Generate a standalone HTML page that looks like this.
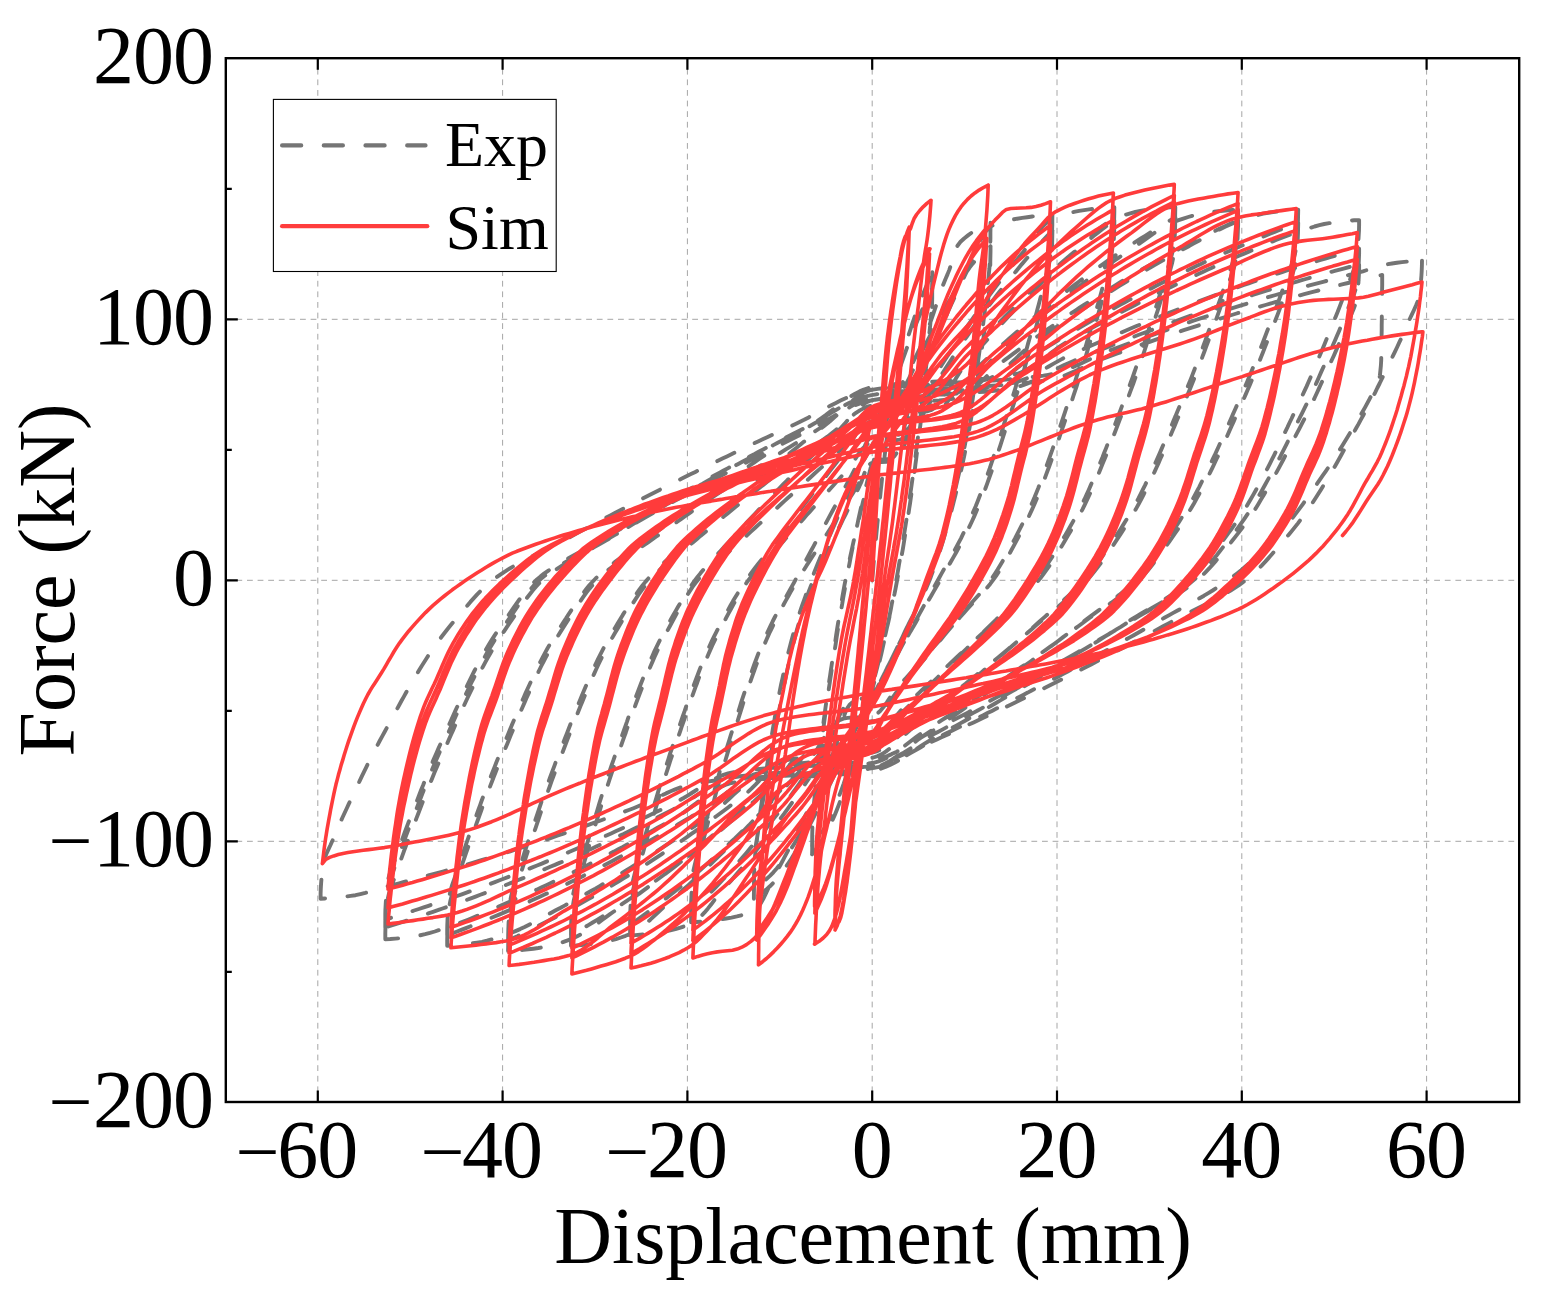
<!DOCTYPE html><html><head><meta charset="utf-8"><title>Force-Displacement hysteresis</title>
<style>html,body{margin:0;padding:0;background:#fff}svg{display:block}text{font-family:"Liberation Serif",serif;fill:#000}</style></head><body>
<svg width="1544" height="1296" viewBox="0 0 1544 1296">
<rect width="1544" height="1296" fill="#fff"/>
<path d="M317.8 58.2V1102.0M502.6 58.2V1102.0M687.4 58.2V1102.0M872.2 58.2V1102.0M1057.0 58.2V1102.0M1241.8 58.2V1102.0M1426.6 58.2V1102.0M225.8 841.3H1519.2M225.8 580.3H1519.2M225.8 319.3H1519.2" fill="none" stroke="#a6a6a6" stroke-width="1.0" stroke-dasharray="5.8 4.8"/>
<clipPath id="c"><rect x="225.8" y="58.2" width="1293.4" height="1043.8"/></clipPath>
<g clip-path="url(#c)" fill="none" stroke-linejoin="round" stroke-linecap="round">
<path d="M872.2 580.3 872.6 575.2 873.1 570.2 873.5 565.1 873.9 560.0 874.4 555.0 874.9 549.9 875.3 544.8 875.8 539.8 876.3 534.7 876.8 529.6 877.3 524.6 877.8 519.5 878.3 514.4 878.8 509.4 879.3 504.3 879.9 499.3 880.4 494.2 880.9 489.1 881.5 484.1 882.0 479.0 882.6 473.9 883.1 468.9 883.7 463.8 884.3 458.8 884.9 453.7 885.5 448.7 886.1 443.6 886.8 438.6 887.4 433.5 888.1 428.5 888.9 423.5 889.6 418.5 890.4 413.4 891.3 408.4 892.2 403.4 893.1 398.4 894.1 393.4 895.1 388.4 896.1 383.4 897.2 378.4 898.3 373.5 899.4 368.5 900.6 363.6 901.8 358.6 903.1 353.7 904.5 348.8 905.9 343.9 907.4 339.0 908.9 334.2 910.5 329.3 912.0 324.5 913.7 319.7 915.3 314.9 917.0 310.1 918.7 305.3 920.5 300.6 922.4 295.8 924.3 291.1 926.2 286.4 928.2 281.7 930.2 277.0 932.3 272.3M932.3 272.3 932.2 277.4 932.2 282.5 932.1 287.6 932.0 292.6 931.9 297.7 931.8 302.8 931.6 307.8 931.3 312.9 930.9 317.9 930.4 323.0 929.9 328.1 929.4 333.1 929.0 338.2 928.5 343.2 928.0 348.3 927.5 353.3 927.0 358.4 926.5 363.4 925.9 368.5 925.4 373.5 924.8 378.5 924.3 383.6 923.7 388.6 923.1 393.7 922.6 398.7 922.0 403.8 921.4 408.8 920.8 413.8 920.2 418.9 919.6 423.9 919.0 428.9 918.4 434.0 917.7 439.0 917.1 444.0 916.4 449.1 915.8 454.1 915.1 459.1 914.4 464.2 913.8 469.2 913.1 474.2 912.4 479.3 911.7 484.3 911.0 489.3 910.2 494.3 909.5 499.3 908.8 504.4 908.0 509.4 907.2 514.4 906.5 519.4 905.7 524.4 904.9 529.4 904.1 534.4 903.3 539.5 902.4 544.5 901.6 549.5 900.8 554.5 899.9 559.5 899.0 564.5 898.2 569.5 897.3 574.5 896.4 579.5 895.5 584.4 894.6 589.4 893.6 594.4 892.7 599.4 891.7 604.4 890.8 609.4 889.8 614.4 888.8 619.3 887.7 624.3 886.7 629.3 885.7 634.2 884.6 639.2 883.5 644.2 882.4 649.1 881.3 654.1 880.1 659.0 878.9 663.9 877.7 668.8 876.5 673.8 875.2 678.7 873.9 683.6 872.6 688.5 871.3 693.4 870.0 698.3 868.6 703.2 867.3 708.1 865.9 713.0 864.6 717.9 863.3 722.8 861.9 727.7 860.6 732.6 859.3 737.5 858.0 742.4 856.7 747.3 855.4 752.2 854.1 757.1 852.7 762.0 851.4 766.9 850.0 771.8 848.5 776.7 847.0 781.5 845.4 786.3 843.8 791.1 842.1 795.9 840.4 800.6 838.6 805.4 836.7 810.2 834.8 814.9 832.7 819.6 830.6 824.2 828.4 828.7 826.1 833.2 823.7 837.6 821.0 841.9 818.2 846.1 815.2 850.3 812.1 854.3M812.1 854.3 812.2 849.3 812.2 844.2 812.3 839.2 812.4 834.1 812.6 829.1 812.8 824.0 813.2 819.0 813.7 813.9 814.2 808.9 814.7 803.8 815.2 798.8 815.7 793.8 816.3 788.7 816.8 783.7 817.4 778.7 817.9 773.7 818.5 768.6 819.1 763.6 819.7 758.6 820.3 753.5 820.9 748.5 821.5 743.5 822.1 738.5 822.7 733.5 823.4 728.4 824.0 723.4 824.7 718.4 825.4 713.4 826.1 708.4 826.8 703.4 827.5 698.4 828.2 693.4 828.9 688.3 829.7 683.3 830.4 678.3 831.2 673.3 831.9 668.3 832.7 663.3 833.4 658.3 834.2 653.3 835.0 648.3 835.8 643.3 836.5 638.3 837.3 633.3 838.1 628.3 838.9 623.3 839.8 618.3 840.6 613.3 841.4 608.3 842.3 603.4 843.1 598.4 844.0 593.4 844.9 588.4 845.8 583.4 846.7 578.4 847.6 573.5 848.5 568.5 849.5 563.5 850.4 558.6 851.4 553.6 852.4 548.6 853.4 543.7 854.4 538.7 855.4 533.7 856.4 528.8 857.5 523.8 858.5 518.9 859.6 513.9 860.7 509.0 861.8 504.1 863.0 499.1 864.1 494.2 865.3 489.3 866.5 484.4 867.7 479.5 868.9 474.6 870.2 469.7 871.5 464.8 872.7 459.9 874.0 455.0 875.3 450.1 876.7 445.2 878.0 440.3 879.3 435.4 880.7 430.6 882.1 425.7 883.5 420.8 884.9 416.0 886.3 411.1 887.7 406.2 889.2 401.4 890.7 396.6 892.2 391.7 893.7 386.9 895.3 382.1 896.8 377.3 898.4 372.5 900.0 367.7 901.6 362.9 903.3 358.1 905.0 353.3 906.7 348.5 908.4 343.8 910.2 339.1 912.0 334.3 913.8 329.6 915.7 324.9 917.6 320.3 919.6 315.6 921.6 311.0 923.7 306.3 925.8 301.7 927.9 297.1 930.1 292.5 932.3 288.0M932.3 288.0 932.2 293.0 932.2 298.1 932.1 303.1 932.0 308.2 931.9 313.2 931.7 318.3 931.4 323.3 931.0 328.3 930.5 333.4 929.9 338.4 929.4 343.4 928.9 348.4 928.4 353.5 927.9 358.5 927.4 363.5 926.9 368.5 926.3 373.6 925.8 378.6 925.2 383.6 924.6 388.6 924.1 393.6 923.5 398.6 922.9 403.7 922.3 408.7 921.7 413.7 921.1 418.7 920.5 423.7 919.9 428.7 919.3 433.7 918.7 438.8 918.1 443.8 917.5 448.8 916.8 453.8 916.2 458.8 915.5 463.8 914.9 468.8 914.2 473.8 913.5 478.8 912.8 483.8 912.1 488.8 911.4 493.8 910.7 498.8 910.0 503.8 909.2 508.8 908.5 513.8 907.7 518.8 906.9 523.8 906.1 528.8 905.3 533.8 904.5 538.8 903.7 543.7 902.9 548.7 902.0 553.7 901.1 558.7 900.2 563.6 899.3 568.6 898.4 573.6 897.5 578.5 896.5 583.5 895.6 588.4 894.6 593.4 893.5 598.3 892.5 603.3 891.4 608.2 890.3 613.1 889.2 618.1 888.1 623.0 886.9 627.9 885.8 632.8 884.6 637.7 883.4 642.6 882.2 647.6 881.0 652.5 879.8 657.3 878.5 662.2 877.3 667.1 876.0 672.0 874.7 676.9 873.3 681.8 872.0 686.6 870.6 691.5 869.3 696.4 867.9 701.2 866.5 706.1 865.1 710.9 863.8 715.8 862.4 720.6 861.0 725.5 859.7 730.4 858.3 735.3 857.0 740.1 855.6 745.0 854.2 749.9 852.9 754.7 851.4 759.6 850.0 764.4 848.5 769.2 846.9 774.0 845.3 778.8 843.7 783.6 842.0 788.3 840.2 793.1 838.4 797.8 836.6 802.6 834.6 807.3 832.6 811.9 830.5 816.5 828.4 821.0 826.1 825.5 823.6 829.8 821.0 834.1 818.2 838.3 815.2 842.4 812.1 846.5M812.1 846.5 812.2 841.5 812.2 836.4 812.3 831.3 812.4 826.3 812.6 821.2 812.8 816.2 813.2 811.1 813.7 806.1 814.2 801.0 814.7 796.0 815.2 791.0 815.8 785.9 816.3 780.9 816.9 775.9 817.5 770.8 818.0 765.8 818.6 760.8 819.3 755.8 819.9 750.7 820.5 745.7 821.2 740.7 821.8 735.7 822.4 730.6 823.1 725.6 823.7 720.6 824.4 715.6 825.1 710.6 825.8 705.6 826.5 700.6 827.2 695.5 827.9 690.5 828.6 685.5 829.3 680.5 830.1 675.5 830.8 670.5 831.6 665.5 832.3 660.5 833.1 655.5 833.8 650.5 834.6 645.5 835.4 640.5 836.1 635.5 836.9 630.4 837.7 625.4 838.5 620.4 839.3 615.4 840.1 610.4 840.9 605.5 841.8 600.5 842.6 595.5 843.5 590.5 844.4 585.5 845.4 580.5 846.3 575.6 847.3 570.6 848.3 565.7 849.4 560.7 850.4 555.8 851.5 550.8 852.6 545.9 853.7 540.9 854.9 536.0 856.0 531.1 857.2 526.1 858.4 521.2 859.6 516.3 860.7 511.4 861.9 506.5 863.1 501.5 864.3 496.6 865.5 491.7 866.7 486.8 868.0 481.9 869.3 476.9 870.5 472.1 871.9 467.2 873.2 462.3 874.6 457.4 876.0 452.6 877.4 447.7 878.9 442.9 880.5 438.1 882.0 433.2 883.7 428.4 885.3 423.6 887.0 418.9 888.8 414.1 890.6 409.4 892.4 404.7 894.3 400.0 896.3 395.3 898.4 390.8 900.7 386.2 903.0 381.7 905.4 377.3 907.7 372.8 910.0 368.3 912.3 363.7 914.5 359.2 916.8 354.6 919.0 350.1 921.2 345.5 923.3 340.9 925.3 336.3 927.1 331.6 928.9 326.8 930.5 322.0 932.2 317.2 933.8 312.4 935.4 307.6 937.0 302.8 938.5 298.0 940.1 293.2 941.8 288.4 943.6 283.7 945.5 279.0 947.5 274.4 949.4 269.6 951.0 264.8 952.4 259.7 953.8 254.8 955.4 250.0 957.5 245.7 960.5 241.8 964.4 238.2 968.3 235.1 972.3 232.2 976.6 229.4 981.0 226.9 985.6 224.7 990.5 222.7M990.5 222.7 990.5 227.8 990.4 232.9 990.4 237.9 990.3 243.0 990.2 248.1 990.1 253.1 990.0 258.2 989.7 263.3 989.4 268.3 988.9 273.4 988.4 278.4 987.8 283.4 987.3 288.5 986.7 293.5 986.2 298.6 985.6 303.6 985.1 308.6 984.5 313.7 983.8 318.7 983.2 323.7 982.5 328.7 981.9 333.8 981.2 338.8 980.5 343.8 979.8 348.8 979.1 353.9 978.4 358.9 977.7 363.9 977.0 368.9 976.3 373.9 975.6 379.0 974.9 384.0 974.2 389.0 973.4 394.0 972.7 399.0 971.9 404.0 971.1 409.0 970.3 414.1 969.5 419.1 968.7 424.0 967.8 429.0 966.9 434.0 966.0 439.0 965.1 444.0 964.1 448.9 963.1 453.9 962.1 458.9 961.1 463.8 960.0 468.8 958.9 473.8 957.7 478.7 956.6 483.6 955.4 488.6 954.2 493.5 953.0 498.4 951.7 503.3 950.5 508.2 949.2 513.1 947.9 518.0 946.5 522.9 945.1 527.8 943.7 532.6 942.3 537.5 940.8 542.3 939.2 547.2 937.6 552.0 936.0 556.8 934.4 561.6 932.7 566.4 931.0 571.2 929.3 575.9 927.5 580.7 925.7 585.4 923.8 590.1 921.8 594.7 919.8 599.4 917.8 604.0 915.7 608.6 913.5 613.3 911.4 617.9 909.2 622.5 907.1 627.0 904.9 631.6 902.8 636.2 900.6 640.8 898.4 645.4 896.2 649.9 893.9 654.4 891.6 659.0 889.4 663.5 887.1 668.0 884.9 672.6 882.6 677.1 880.4 681.7 878.1 686.2 875.9 690.8 873.7 695.3 871.4 699.9 869.2 704.4 866.9 709.0 864.7 713.5 862.5 718.0 860.2 722.6 858.0 727.1 855.8 731.7 853.5 736.2 851.3 740.8 849.1 745.3 846.8 749.9 844.6 754.4 842.4 759.0 840.1 763.5 837.9 768.1 835.6 772.6 833.4 777.2 831.2 781.7 829.0 786.3 826.8 790.9 824.6 795.4 822.4 800.0 820.2 804.5 817.9 809.1 815.6 813.6 813.3 818.1 811.0 822.6 808.7 827.1 806.3 831.6 804.0 836.2 801.6 840.7 799.2 845.1 796.7 849.6 794.2 854.0 791.6 858.3 788.8 862.5 786.0 866.7 783.1 870.8 780.0 874.9 776.8 878.9 773.4 882.7 769.9 886.3 766.2 889.6 762.3 892.8 758.2 895.9 753.9 898.7M753.9 898.7 753.9 893.7 754.0 888.6 754.1 883.6 754.1 878.5 754.2 873.5 754.4 868.5 754.5 863.5 754.9 858.4 755.3 853.4 755.9 848.4 756.5 843.4 757.1 838.4 757.6 833.4 758.2 828.3 758.8 823.3 759.5 818.3 760.1 813.3 760.8 808.4 761.5 803.4 762.2 798.4 763.0 793.4 763.7 788.4 764.4 783.4 765.2 778.4 765.9 773.4 766.7 768.5 767.4 763.5 768.2 758.5 769.0 753.5 769.7 748.5 770.5 743.5 771.3 738.5 772.1 733.6 772.9 728.6 773.8 723.6 774.6 718.7 775.5 713.7 776.4 708.7 777.3 703.8 778.2 698.8 779.2 693.9 780.2 689.0 781.2 684.0 782.3 679.1 783.4 674.1 784.5 669.2 785.6 664.3 786.7 659.4 787.9 654.5 789.1 649.6 790.4 644.7 791.7 639.8 793.0 635.0 794.3 630.1 795.7 625.3 797.2 620.5 798.7 615.7 800.3 610.9 801.9 606.1 803.6 601.3 805.3 596.6 807.0 591.8 808.7 587.1 810.4 582.4 812.2 577.7 814.0 573.0 815.9 568.3 817.8 563.6 819.7 558.9 821.7 554.3 823.6 549.7 825.6 545.0 827.6 540.4 829.6 535.8 831.7 531.1 833.7 526.5 835.7 521.9 837.6 517.3 839.6 512.6 841.6 508.0 843.6 503.3 845.6 498.7 847.6 494.1 849.6 489.4 851.7 484.8 853.8 480.3 855.9 475.7 858.1 471.2 860.4 466.7 862.7 462.2 865.1 457.8 867.5 453.4 870.0 449.0 872.5 444.6 875.0 440.2 877.5 435.9 880.0 431.5 882.5 427.1 884.9 422.7 887.4 418.3 889.9 413.9 892.3 409.5 894.8 405.1 897.3 400.7 899.7 396.3 902.1 391.8 904.4 387.4 906.7 382.9 909.0 378.4 911.2 373.9 913.4 369.3 915.6 364.8 917.7 360.2 919.9 355.7 922.1 351.1 924.4 346.6 926.6 342.1 929.0 337.7 931.3 333.2 933.7 328.7 936.1 324.3 938.5 319.9 941.0 315.5 943.4 311.1 945.9 306.7 948.4 302.3 951.0 298.0 953.5 293.6 956.0 289.2 958.6 284.8 961.2 280.4 963.8 276.1 966.6 271.9 969.4 267.8 972.5 263.9 975.7 260.1 979.2 256.5 982.8 252.9 986.6 249.5 990.5 246.2M990.5 246.2 990.5 251.3 990.4 256.3 990.3 261.4 990.3 266.5 990.2 271.5 990.0 276.6 989.9 281.6 989.5 286.6 989.1 291.7 988.5 296.7 987.9 301.7 987.3 306.8 986.7 311.8 986.2 316.8 985.6 321.8 984.9 326.8 984.3 331.8 983.6 336.8 982.9 341.9 982.1 346.9 981.4 351.9 980.7 356.9 979.9 361.9 979.2 366.9 978.4 371.9 977.7 376.9 976.9 381.9 976.1 386.9 975.4 391.9 974.6 396.9 973.8 401.9 973.0 406.9 972.2 411.9 971.4 416.8 970.6 421.8 969.7 426.8 968.8 431.8 967.9 436.8 967.0 441.7 966.0 446.7 965.1 451.6 964.1 456.6 963.0 461.5 962.0 466.5 960.9 471.4 959.8 476.4 958.7 481.3 957.5 486.2 956.4 491.2 955.2 496.1 953.9 501.0 952.7 505.9 951.4 510.8 950.1 515.7 948.8 520.5 947.5 525.4 946.1 530.3 944.7 535.1 943.3 540.0 941.8 544.8 940.3 549.7 938.7 554.5 937.1 559.3 935.5 564.1 933.8 568.9 932.0 573.6 930.3 578.3 928.4 583.0 926.5 587.6 924.4 592.2 922.3 596.8 920.1 601.4 917.9 605.9 915.6 610.4 913.3 615.0 911.0 619.5 908.7 624.0 906.5 628.5 904.3 633.1 902.1 637.6 899.8 642.2 897.6 646.7 895.4 651.3 893.2 655.8 891.0 660.4 888.7 664.9 886.5 669.4 884.2 673.9 882.0 678.5 879.7 683.0 877.4 687.5 875.0 691.9 872.7 696.4 870.4 700.9 868.0 705.4 865.7 709.9 863.3 714.3 861.0 718.8 858.6 723.3 856.3 727.8 854.0 732.3 851.6 736.8 849.3 741.2 847.0 745.7 844.6 750.2 842.3 754.7 840.0 759.2 837.6 763.7 835.3 768.1 833.0 772.6 830.7 777.1 828.4 781.6 826.1 786.1 823.8 790.6 821.4 795.1 819.1 799.6 816.7 804.1 814.4 808.5 811.9 813.0 809.5 817.4 807.0 821.8 804.6 826.3 802.1 830.7 799.5 835.1 796.9 839.4 794.3 843.7 791.6 848.0 788.8 852.1 785.9 856.3 782.9 860.4 779.9 864.5 776.7 868.5 773.4 872.3 769.9 875.9 766.2 879.2 762.3 882.4 758.2 885.4 753.9 888.3M753.9 888.3 754.0 883.2 754.0 878.1 754.1 873.1 754.3 868.0 754.4 863.0 754.6 858.0 754.9 852.9 755.5 847.9 756.2 842.9 757.1 837.9 757.9 832.9 758.6 827.9 759.4 822.9 760.2 817.9 760.9 813.0 761.8 808.0 762.6 803.0 763.4 798.0 764.2 793.0 765.1 788.0 765.9 783.0 766.8 778.1 767.6 773.1 768.4 768.1 769.3 763.1 770.2 758.1 771.0 753.2 771.9 748.2 772.9 743.2 773.8 738.3 774.7 733.3 775.7 728.3 776.6 723.4 777.6 718.4 778.6 713.5 779.5 708.5 780.5 703.5 781.4 698.6 782.4 693.6 783.4 688.7 784.4 683.7 785.4 678.8 786.5 673.8 787.5 668.9 788.6 663.9 789.7 659.0 790.8 654.1 791.9 649.2 793.1 644.3 794.4 639.4 795.7 634.5 797.0 629.6 798.4 624.7 799.9 619.9 801.3 615.1 802.8 610.2 804.3 605.4 805.8 600.6 807.4 595.7 809.0 591.0 810.8 586.2 812.6 581.5 814.5 576.9 816.7 572.3 819.0 567.8 821.3 563.3 823.6 558.8 825.9 554.3 828.1 549.8 830.3 545.2 832.6 540.7 834.8 536.2 837.0 531.6 839.3 527.1 841.5 522.6 843.7 518.0 846.0 513.5 848.2 509.0 850.4 504.4 852.7 499.9 854.9 495.4 857.1 490.9 859.4 486.3 861.5 481.6 863.5 476.0 865.5 470.3 867.5 465.2 870.0 461.6 873.1 460.1 878.1 459.6 884.1 459.3 889.2 458.9 892.2 458.1 894.6 456.0 896.8 452.8 898.6 448.7 900.3 443.8 901.8 438.3 903.2 432.5 904.6 426.4 905.9 420.3 907.3 414.4 908.9 408.8 910.5 403.7 912.3 398.9 914.1 394.2 915.9 389.5 917.7 384.8 919.6 380.1 921.4 375.4 923.3 370.7 925.1 366.0 927.0 361.3 928.9 356.6 930.8 351.9 932.8 347.3 934.7 342.6 936.7 337.9 938.6 333.3 940.6 328.6 942.6 324.0 944.6 319.4 946.7 314.8 948.7 310.1 950.8 305.5 952.9 300.9 955.0 296.3 957.1 291.8 959.3 287.2 961.5 282.6 963.6 278.1 965.9 273.5 968.1 269.0 970.3 264.5 972.6 259.8 974.7 254.7 976.8 249.4 978.9 244.2 981.1 239.2 983.5 234.7 986.1 230.8 989.0 227.8 992.3 225.6 996.4 223.8 1001.2 222.2 1006.4 220.9 1011.8 219.7 1017.1 218.7 1022.2 217.9 1027.2 217.2 1032.2 216.5 1037.2 215.9 1042.2 215.4 1047.3 215.1 1052.4 214.9M1052.4 214.9 1052.3 220.0 1052.3 225.1 1052.1 230.1 1051.9 235.2 1051.7 240.2 1051.4 245.2 1051.1 250.2 1050.6 255.1 1049.9 260.1 1048.8 265.0 1047.6 269.9 1046.3 274.9 1044.9 279.8 1043.7 284.7 1042.5 289.5 1041.3 294.4 1040.1 299.3 1038.8 304.2 1037.5 309.1 1036.2 313.9 1034.9 318.8 1033.6 323.7 1032.2 328.5 1030.9 333.4 1029.6 338.3 1028.2 343.1 1026.9 348.0 1025.6 352.8 1024.2 357.7 1022.8 362.6 1021.5 367.4 1020.1 372.3 1018.7 377.1 1017.2 381.9 1015.8 386.7 1014.3 391.6 1012.8 396.4 1011.3 401.2 1009.8 406.0 1008.3 410.8 1006.8 415.6 1005.2 420.4 1003.7 425.2 1002.2 430.0 1000.7 434.8 999.2 439.7 997.6 444.5 996.1 449.3 994.5 454.0 992.9 458.8 991.3 463.6 989.7 468.4 988.0 473.1 986.4 477.9 984.7 482.7 983.0 487.4 981.2 492.1 979.4 496.8 977.6 501.5 975.7 506.2 973.7 510.8 971.7 515.5 969.7 520.1 967.5 524.6 965.4 529.2 963.2 533.7 961.0 538.3 958.7 542.7 956.3 547.2 953.9 551.6 951.5 556.0 949.0 560.4 946.5 564.8 944.0 569.2 941.5 573.6 939.1 578.0 936.6 582.4 934.2 586.8 931.8 591.3 929.4 595.7 927.0 600.1 924.6 604.5 922.1 609.0 919.7 613.4 917.3 617.8 914.9 622.2 912.5 626.6 910.1 631.1 907.6 635.5 905.2 639.9 902.8 644.3 900.4 648.8 898.0 653.2 895.6 657.6 893.1 662.0 890.7 666.5 888.3 670.9 885.9 675.3 883.6 680.1 881.4 685.6 879.3 691.1 877.0 695.9 874.3 699.3 870.9 700.6 865.8 701.0 859.9 701.3 854.9 701.7 851.9 702.7 849.4 705.0 847.2 708.4 845.2 712.8 843.5 717.9 841.9 723.5 840.3 729.4 838.8 735.4 837.2 741.3 835.6 746.8 833.7 751.8 831.8 756.4 829.8 761.1 827.8 765.7 825.8 770.3 823.8 774.9 821.8 779.6 819.7 784.2 817.7 788.8 815.6 793.4 813.5 798.0 811.4 802.5 809.3 807.1 807.2 811.7 805.0 816.2 802.8 820.8 800.6 825.3 798.4 829.9 796.2 834.4 793.9 838.9 791.7 843.4 789.4 847.9 787.1 852.3 784.7 856.8 782.4 861.3 780.0 865.7 777.6 870.1 775.1 874.5 772.7 879.0 770.3 883.9 768.0 888.9 765.7 894.0 763.3 898.9 760.8 903.3 758.0 907.0 754.8 909.9 751.2 911.9 746.9 913.6 742.1 915.1 736.9 916.4 731.5 917.6 726.2 918.5 721.2 919.3 716.3 920.0 711.3 920.6 706.3 921.2 701.2 921.7 696.2 922.0 691.1 922.2M691.1 922.2 691.1 917.1 691.2 912.1 691.4 907.0 691.6 902.0 691.8 897.0 692.1 892.0 692.4 887.0 693.1 882.0 694.0 877.1 695.2 872.2 696.5 867.3 697.8 862.4 699.0 857.5 700.2 852.6 701.4 847.7 702.6 842.8 703.9 837.9 705.2 833.0 706.5 828.2 707.8 823.3 709.1 818.4 710.4 813.6 711.7 808.7 713.1 803.9 714.4 799.0 715.7 794.1 717.0 789.3 718.4 784.4 719.7 779.6 721.1 774.7 722.5 769.9 723.9 765.1 725.4 760.2 726.9 755.4 728.3 750.6 729.8 745.8 731.3 741.0 732.8 736.2 734.4 731.4 735.9 726.6 737.4 721.7 738.9 716.9 740.4 712.1 741.9 707.3 743.4 702.5 745.0 697.7 746.6 693.0 748.2 688.2 749.8 683.4 751.4 678.6 753.1 673.9 754.8 669.1 756.5 664.4 758.3 659.7 760.1 655.0 762.0 650.3 763.9 645.7 765.9 641.0 767.9 636.4 770.0 631.8 772.2 627.3 774.4 622.7 776.6 618.2 778.8 613.7 781.2 609.3 783.5 604.8 785.9 600.4 788.4 596.0 790.8 591.6 793.3 587.2 795.9 582.8 798.4 578.5 801.1 574.2 803.8 570.0 806.5 565.7 809.3 561.5 812.0 557.3 814.7 553.0 817.4 548.8 820.1 544.5 822.8 540.3 825.6 536.0 828.3 531.8 831.0 527.6 833.7 523.3 836.4 519.1 839.1 514.8 841.8 510.6 844.5 506.3 847.2 502.1 849.9 497.8 852.6 493.6 855.3 489.3 858.0 485.0 860.5 480.0 863.0 474.6 865.5 469.5 868.2 465.5 871.4 463.1 875.6 462.4 881.1 462.1 886.6 461.8 891.0 461.2 894.3 459.8 897.3 457.2 900.0 453.6 902.4 449.2 904.7 444.2 906.9 438.9 909.1 433.3 911.2 427.7 913.5 422.3 915.8 417.2 918.3 412.7 920.9 408.4 923.5 404.1 926.1 399.8 928.7 395.5 931.3 391.2 934.0 386.9 936.6 382.6 939.3 378.3 942.0 374.1 944.7 369.8 947.4 365.6 950.2 361.4 952.9 357.2 955.7 353.0 958.5 348.8 961.3 344.6 964.2 340.4 967.0 336.3 969.9 332.1 972.8 328.0 975.7 323.9 978.6 319.8 981.6 315.7 984.5 311.6 987.5 307.6 990.5 303.5 993.6 299.5 996.6 295.5 999.7 291.5 1002.8 287.6 1005.9 283.6 1009.1 279.7 1012.3 275.8 1015.5 271.9 1018.7 268.0 1021.9 264.1 1025.2 260.3 1028.5 256.5 1031.8 252.7 1035.2 249.0 1038.6 245.3 1042.0 241.5 1045.4 237.9 1048.9 234.2 1052.4 230.6M1052.4 230.6 1052.3 235.7 1052.2 240.7 1052.1 245.8 1051.9 250.8 1051.6 255.9 1051.3 260.9 1051.0 265.9 1050.4 270.8 1049.5 275.8 1048.3 280.7 1047.0 285.6 1045.7 290.5 1044.4 295.4 1043.1 300.3 1041.9 305.2 1040.6 310.1 1039.4 315.0 1038.0 319.9 1036.7 324.7 1035.4 329.6 1034.0 334.5 1032.6 339.3 1031.3 344.2 1029.9 349.1 1028.5 353.9 1027.2 358.8 1025.8 363.6 1024.4 368.5 1023.0 373.3 1021.6 378.2 1020.2 383.0 1018.7 387.9 1017.2 392.7 1015.7 397.5 1014.2 402.3 1012.7 407.1 1011.1 411.9 1009.6 416.8 1008.0 421.6 1006.5 426.4 1004.9 431.2 1003.4 436.0 1001.8 440.8 1000.3 445.6 998.7 450.4 997.1 455.2 995.5 460.0 993.9 464.7 992.2 469.5 990.5 474.3 988.8 479.0 987.1 483.8 985.4 488.5 983.6 493.3 981.8 498.0 980.0 502.7 978.1 507.3 976.1 512.0 974.1 516.6 972.0 521.2 969.8 525.8 967.6 530.3 965.4 534.9 963.1 539.4 960.8 543.8 958.4 548.3 956.0 552.7 953.5 557.1 951.0 561.5 948.5 565.8 945.9 570.2 943.4 574.6 940.9 579.0 938.4 583.3 935.8 587.7 933.3 592.1 930.8 596.5 928.2 600.8 925.7 605.2 923.2 609.6 920.6 613.9 918.1 618.3 915.6 622.7 913.1 627.1 910.5 631.4 908.0 635.8 905.5 640.2 903.0 644.5 900.4 648.9 897.9 653.3 895.4 657.6 892.9 662.0 890.3 666.4 887.8 670.8 885.3 675.2 882.9 680.3 880.7 685.8 878.4 691.0 875.8 695.2 872.8 697.6 868.6 698.2 863.1 698.6 857.5 698.9 853.2 699.4 849.8 701.0 846.7 703.7 843.9 707.5 841.3 711.9 838.8 717.0 836.5 722.3 834.2 727.8 831.8 733.2 829.3 738.3 826.7 742.9 823.9 747.1 821.2 751.3 818.4 755.5 815.6 759.8 812.8 764.0 810.0 768.1 807.1 772.3 804.3 776.5 801.4 780.6 798.5 784.8 795.6 788.9 792.7 793.0 789.7 797.1 786.8 801.2 783.8 805.3 780.8 809.3 777.8 813.4 774.7 817.4 771.6 821.4 768.6 825.4 765.5 829.4 762.3 833.3 759.2 837.3 756.0 841.2 752.8 845.1 749.6 849.0 746.4 852.9 743.1 856.8 739.8 860.6 736.5 864.4 733.2 868.2 729.8 872.0 726.4 875.7 723.0 879.5 719.6 883.1 716.1 886.8 712.6 890.5 709.1 894.1 705.6 897.7 702.0 901.2 698.4 904.8 694.8 908.3 691.1 911.8M691.1 911.8 691.1 906.7 691.2 901.6 691.4 896.5 691.6 891.5 691.9 886.5 692.2 881.5 692.5 876.5 693.2 871.5 694.3 866.6 695.5 861.6 696.8 856.7 698.2 851.8 699.4 846.9 700.6 842.0 701.8 837.1 703.1 832.2 704.3 827.3 705.6 822.5 707.0 817.6 708.3 812.7 709.6 807.8 711.0 803.0 712.3 798.1 713.7 793.2 715.0 788.4 716.3 783.5 717.7 778.6 719.1 773.8 720.5 768.9 721.9 764.1 723.3 759.2 724.8 754.4 726.3 749.6 727.8 744.8 729.3 740.0 730.8 735.1 732.4 730.3 733.9 725.5 735.4 720.7 736.9 715.9 738.5 711.1 740.0 706.3 741.5 701.4 743.1 696.6 744.7 691.9 746.3 687.1 747.9 682.3 749.6 677.5 751.3 672.7 753.0 668.0 754.7 663.2 756.5 658.5 758.3 653.8 760.1 649.1 762.1 644.5 764.1 639.8 766.2 635.2 768.3 630.6 770.4 626.1 772.6 621.5 774.9 617.0 777.2 612.5 779.6 608.1 782.1 603.7 784.6 599.3 787.1 594.9 789.6 590.5 792.0 586.1 794.5 581.7 796.9 577.2 799.3 572.8 801.7 568.3 804.1 563.9 806.4 559.4 808.8 555.0 811.2 550.5 813.6 546.1 816.0 541.6 818.4 537.2 820.7 532.7 823.1 528.3 825.5 523.8 827.9 519.4 830.3 514.9 832.7 510.5 835.1 506.0 837.4 501.6 839.8 497.1 842.2 492.7 844.6 488.2 847.0 483.8 849.4 479.3 851.8 474.9 854.1 470.4 856.5 466.0 858.8 461.1 861.0 455.6 863.1 450.0 865.3 444.7 867.7 440.4 870.4 437.5 873.8 436.5 878.4 436.0 884.0 435.6 889.8 435.3 895.2 435.0 899.6 434.5 903.1 433.2 906.2 430.9 909.0 427.7 911.7 423.7 914.1 419.1 916.5 414.0 918.8 408.6 921.0 403.0 923.3 397.5 925.6 392.2 928.1 387.2 930.7 382.6 933.3 378.3 936.0 374.1 938.7 369.8 941.4 365.5 944.1 361.3 946.8 357.0 949.6 352.8 952.4 348.6 955.2 344.3 958.0 340.1 960.8 335.9 963.6 331.8 966.4 327.6 969.3 323.4 972.2 319.3 975.1 315.2 978.0 311.0 981.0 306.9 983.9 302.8 986.9 298.7 989.9 294.7 992.9 290.6 995.9 286.6 999.0 282.6 1002.0 278.6 1005.1 274.6 1008.2 270.6 1011.4 266.6 1014.5 262.7 1017.7 258.8 1020.9 254.8 1024.1 250.9 1027.2 246.6 1030.3 242.3 1033.4 237.9 1036.6 233.5 1039.8 229.5 1043.2 225.7 1046.8 222.5 1050.5 219.8 1054.5 217.8 1059.0 216.1 1063.8 214.5 1068.8 213.1 1074.0 211.9 1079.1 210.9 1084.1 210.1 1089.1 209.4 1094.1 208.7 1099.1 208.1 1104.1 207.6 1109.2 207.3 1114.3 207.1M1114.3 207.1 1114.3 212.2 1114.2 217.2 1114.0 222.3 1113.8 227.4 1113.5 232.4 1113.3 237.4 1112.9 242.4 1112.5 247.3 1111.8 252.3 1110.7 257.2 1109.4 262.1 1108.0 267.0 1106.6 271.9 1105.3 276.8 1104.1 281.7 1102.8 286.6 1101.5 291.4 1100.2 296.3 1098.8 301.2 1097.4 306.0 1096.1 310.9 1094.7 315.7 1093.3 320.6 1091.9 325.4 1090.4 330.3 1089.0 335.1 1087.6 339.9 1086.2 344.8 1084.8 349.6 1083.4 354.5 1081.9 359.3 1080.5 364.1 1079.0 369.0 1077.5 373.8 1076.0 378.6 1074.5 383.4 1072.9 388.2 1071.4 393.0 1069.8 397.8 1068.2 402.6 1066.6 407.3 1065.0 412.1 1063.4 416.9 1061.8 421.7 1060.2 426.5 1058.6 431.3 1057.0 436.0 1055.4 440.8 1053.7 445.6 1052.1 450.4 1050.4 455.1 1048.7 459.9 1047.0 464.6 1045.3 469.4 1043.5 474.1 1041.8 478.8 1040.0 483.6 1038.2 488.3 1036.3 492.9 1034.4 497.6 1032.4 502.2 1030.4 506.9 1028.3 511.5 1026.2 516.0 1024.0 520.6 1021.8 525.1 1019.5 529.6 1017.2 534.1 1014.9 538.6 1012.5 543.0 1010.1 547.5 1007.7 552.0 1005.3 556.4 1002.8 560.8 1000.2 565.2 997.6 569.5 994.9 573.7 992.1 577.9 989.3 582.0 986.2 586.0 983.0 589.9 979.8 593.7 976.4 597.5 973.0 601.3 969.7 605.1 966.4 609.0 963.2 612.8 959.9 616.7 956.7 620.6 953.5 624.4 950.2 628.3 947.0 632.1 943.7 636.0 940.5 639.9 937.2 643.7 934.0 647.6 930.8 651.5 927.5 655.3 924.3 659.2 921.0 663.1 917.8 666.9 914.5 670.8 911.3 674.6 908.1 678.5 904.8 682.4 901.6 686.2 898.3 690.1 895.1 694.0 892.0 698.4 889.0 703.2 886.0 708.1 882.9 712.6 879.7 716.6 876.2 719.6 872.4 721.2 868.0 721.8 862.7 722.2 857.1 722.5 851.6 722.8 846.8 723.2 843.0 724.0 839.6 725.8 836.5 728.6 833.6 732.3 831.0 736.7 828.4 741.5 826.0 746.8 823.5 752.2 821.1 757.5 818.6 762.8 816.0 767.7 813.3 772.0 810.5 776.2 807.6 780.4 804.8 784.6 801.9 788.7 799.0 792.8 796.1 797.0 793.2 801.1 790.3 805.2 787.3 809.3 784.4 813.4 781.4 817.4 778.4 821.5 775.4 825.5 772.3 829.6 769.3 833.6 766.2 837.6 763.1 841.6 760.0 845.6 756.9 849.5 753.7 853.5 750.6 857.4 747.4 861.3 744.2 865.2 741.0 869.1 737.7 872.9 734.4 876.8 731.1 880.6 727.8 884.4 724.5 888.2 721.1 891.9 717.8 895.9 714.5 900.0 711.3 904.3 708.0 908.4 704.6 912.4 701.1 916.1 697.5 919.4 693.7 922.1 689.6 924.2 685.2 926.0 680.4 927.6 675.4 929.1 670.3 930.3 665.2 931.3 660.2 932.2 655.3 932.9 650.3 933.6 645.3 934.2 640.3 934.7 635.2 935.1 630.1 935.3M630.1 935.3 630.1 930.2 630.2 925.1 630.4 920.0 630.6 915.0 630.9 909.9 631.2 904.9 631.5 900.0 632.1 895.0 633.0 890.1 634.2 885.1 635.5 880.2 636.9 875.3 638.3 870.4 639.6 865.6 640.8 860.7 642.1 855.8 643.5 850.9 644.8 846.1 646.2 841.2 647.6 836.4 649.0 831.5 650.4 826.7 651.8 821.8 653.2 817.0 654.6 812.1 656.0 807.3 657.5 802.4 658.9 797.6 660.3 792.8 661.8 787.9 663.2 783.1 664.7 778.3 666.2 773.5 667.8 768.6 669.3 763.8 670.9 759.0 672.5 754.3 674.1 749.5 675.7 744.7 677.3 739.9 678.9 735.1 680.5 730.3 682.1 725.5 683.8 720.8 685.4 716.0 687.0 711.2 688.6 706.4 690.3 701.7 692.0 696.9 693.7 692.2 695.4 687.4 697.2 682.7 698.9 677.9 700.7 673.2 702.6 668.5 704.4 663.8 706.3 659.2 708.3 654.5 710.3 649.9 712.4 645.3 714.6 640.7 716.8 636.2 719.0 631.7 721.3 627.2 723.7 622.7 726.0 618.2 728.4 613.7 730.8 609.3 733.2 604.8 735.7 600.4 738.2 596.0 740.8 591.6 743.5 587.4 746.3 583.2 749.2 579.2 752.3 575.3 755.6 571.5 759.0 567.7 762.4 564.0 766.0 560.3 769.5 556.7 772.9 552.9 776.2 549.2 779.6 545.4 783.0 541.7 786.3 537.9 789.7 534.1 793.1 530.4 796.4 526.6 799.8 522.8 803.2 519.1 806.5 515.3 809.9 511.6 813.3 507.8 816.6 504.0 820.0 500.3 823.4 496.5 826.7 492.8 830.1 489.0 833.5 485.2 836.8 481.5 840.2 477.7 843.6 474.0 846.9 470.2 850.2 466.2 853.4 461.6 856.6 456.9 859.7 452.2 863.0 448.1 866.5 444.8 870.2 442.5 874.3 441.6 879.3 441.2 884.7 440.8 890.2 440.6 895.4 440.2 899.9 439.6 903.7 438.4 907.2 436.2 910.6 433.1 913.7 429.3 916.8 425.0 919.7 420.3 922.6 415.3 925.4 410.3 928.3 405.3 931.2 400.6 934.3 396.2 937.5 392.2 940.7 388.4 944.0 384.5 947.2 380.6 950.5 376.8 953.8 372.9 957.1 369.1 960.4 365.3 963.7 361.5 967.0 357.7 970.4 353.9 973.7 350.2 977.1 346.4 980.5 342.7 983.9 339.0 987.3 335.3 990.8 331.6 994.2 327.9 997.7 324.2 1001.2 320.6 1004.7 316.9 1008.2 313.3 1011.8 309.7 1015.3 306.2 1018.9 302.6 1022.5 299.0 1026.1 295.5 1029.7 292.0 1033.4 288.5 1037.1 285.0 1040.7 281.6 1044.4 278.2 1048.1 274.7 1051.9 271.3 1055.6 268.0 1059.4 264.6 1063.2 261.3 1067.0 258.0 1070.8 254.7 1074.7 251.4 1078.6 248.2 1082.4 245.0 1086.4 241.8 1090.3 238.6 1094.2 235.5 1098.2 232.4 1102.2 229.3 1106.2 226.2 1110.2 223.1 1114.3 220.1M1114.3 220.1 1114.3 225.2 1114.2 230.3 1114.0 235.3 1113.8 240.4 1113.5 245.4 1113.2 250.4 1112.9 255.3 1112.4 260.3 1111.5 265.2 1110.4 270.1 1109.0 275.0 1107.6 279.9 1106.2 284.8 1104.9 289.7 1103.6 294.5 1102.3 299.4 1101.0 304.2 1099.6 309.1 1098.3 313.9 1096.9 318.8 1095.5 323.6 1094.0 328.4 1092.6 333.3 1091.2 338.1 1089.8 342.9 1088.3 347.8 1086.9 352.6 1085.5 357.4 1084.0 362.2 1082.6 367.1 1081.1 371.9 1079.6 376.7 1078.1 381.5 1076.6 386.3 1075.0 391.1 1073.4 395.9 1071.9 400.6 1070.2 405.4 1068.6 410.2 1067.0 414.9 1065.4 419.7 1063.8 424.5 1062.1 429.2 1060.5 434.0 1058.9 438.8 1057.3 443.6 1055.6 448.3 1054.0 453.1 1052.3 457.8 1050.6 462.5 1048.9 467.3 1047.1 472.0 1045.4 476.7 1043.6 481.4 1041.8 486.1 1039.9 490.8 1038.1 495.5 1036.1 500.2 1034.2 504.8 1032.1 509.4 1030.0 513.9 1027.9 518.5 1025.6 523.0 1023.4 527.5 1021.1 532.0 1018.7 536.5 1016.4 540.9 1014.0 545.4 1011.6 549.8 1009.2 554.3 1006.7 558.7 1004.1 563.1 1001.5 567.4 998.9 571.6 996.1 575.8 993.2 579.9 990.2 583.9 987.0 587.7 983.7 591.5 980.2 595.2 976.8 598.9 973.3 602.5 969.9 606.3 966.5 610.0 963.2 613.8 959.8 617.5 956.5 621.3 953.1 625.1 949.8 628.8 946.4 632.6 943.1 636.4 939.7 640.1 936.4 643.9 933.0 647.6 929.7 651.4 926.3 655.2 923.0 658.9 919.7 662.7 916.3 666.4 913.0 670.2 909.6 674.0 906.3 677.7 902.9 681.5 899.6 685.3 896.2 689.0 893.0 693.2 889.8 697.8 886.7 702.5 883.5 707.1 880.2 711.0 876.7 714.1 872.9 715.9 868.6 716.5 863.5 716.9 858.0 717.2 852.6 717.5 847.6 717.9 843.3 718.6 839.5 720.2 835.9 722.7 832.6 726.0 829.4 730.0 826.3 734.4 823.3 739.1 820.3 744.0 817.3 748.8 814.2 753.5 811.1 757.9 807.8 761.9 804.5 765.6 801.2 769.4 797.8 773.2 794.4 776.9 791.1 780.6 787.7 784.4 784.2 788.1 780.8 791.8 777.4 795.4 773.9 799.1 770.4 802.7 767.0 806.4 763.5 810.0 759.9 813.6 756.4 817.2 752.9 820.8 749.3 824.3 745.7 827.9 742.1 831.4 738.5 834.9 734.9 838.4 731.2 841.8 727.6 845.3 723.9 848.7 720.2 852.2 716.5 855.6 712.7 858.9 709.0 862.3 705.2 865.6 701.4 869.0 697.6 872.3 693.8 875.5 690.0 878.8 686.1 882.0 682.2 885.3 678.3 888.5 674.4 891.6 670.5 894.8 666.6 897.9 662.6 901.0 658.6 904.0 654.6 907.1 650.6 910.1 646.5 913.1 642.4 916.1 638.3 919.0 634.2 921.9 630.1 924.8M630.1 924.8 630.1 919.7 630.3 914.7 630.4 909.6 630.6 904.6 630.9 899.6 631.2 894.6 631.6 889.7 632.2 884.7 633.2 879.8 634.4 874.9 635.8 870.0 637.2 865.2 638.6 860.3 639.8 855.4 641.1 850.6 642.4 845.7 643.8 840.9 645.1 836.0 646.5 831.2 647.9 826.4 649.3 821.6 650.8 816.7 652.2 811.9 653.6 807.1 655.0 802.3 656.5 797.4 657.9 792.6 659.3 787.8 660.8 783.0 662.3 778.2 663.8 773.4 665.3 768.6 666.8 763.8 668.4 759.0 669.9 754.2 671.5 749.5 673.2 744.7 674.8 740.0 676.4 735.2 678.0 730.4 679.6 725.7 681.2 720.9 682.8 716.1 684.5 711.4 686.1 706.6 687.8 701.9 689.4 697.1 691.1 692.4 692.9 687.7 694.6 683.0 696.4 678.3 698.2 673.5 700.0 668.8 701.8 664.2 703.7 659.5 705.6 654.9 707.6 650.3 709.7 645.7 711.8 641.1 714.0 636.6 716.3 632.1 718.6 627.6 720.9 623.2 723.2 618.7 725.6 614.3 728.1 609.9 730.5 605.5 733.0 601.1 735.6 596.8 738.2 592.5 740.9 588.2 743.6 584.0 746.3 579.8 749.2 575.7 752.2 571.7 755.2 567.7 758.3 563.7 761.5 559.8 764.6 555.8 767.8 551.9 770.9 547.9 773.9 543.9 777.0 539.9 780.0 536.0 783.1 532.0 786.2 528.0 789.2 524.0 792.3 520.0 795.4 516.0 798.4 512.0 801.5 508.0 804.5 504.0 807.6 500.1 810.7 496.1 813.7 492.1 816.8 488.1 819.8 484.1 822.9 480.1 826.0 476.1 829.0 472.1 832.1 468.1 835.1 464.2 838.2 460.2 841.3 456.2 844.3 452.2 847.4 448.2 850.4 443.8 853.2 438.9 856.1 433.9 858.9 428.9 861.9 424.4 864.9 420.5 868.2 417.6 871.8 416.0 875.8 415.2 880.4 414.7 885.3 414.2 890.7 413.9 896.2 413.6 901.8 413.4 907.3 413.1 912.7 412.8 917.9 412.4 922.7 411.9 927.0 411.3 930.8 410.2 934.4 408.1 937.8 405.2 941.0 401.7 944.1 397.5 947.1 393.0 950.1 388.2 953.0 383.3 955.9 378.4 958.9 373.6 962.0 369.1 965.2 365.1 968.5 361.2 971.7 357.4 975.0 353.6 978.3 349.8 981.6 346.0 985.0 342.3 988.3 338.5 991.7 334.8 995.1 331.0 998.4 327.3 1001.8 323.6 1005.3 320.0 1008.7 316.3 1012.2 312.6 1015.6 309.0 1019.1 305.4 1022.6 301.7 1026.1 298.2 1029.7 294.6 1033.2 291.0 1036.8 287.5 1040.4 284.0 1044.0 280.4 1047.6 277.0 1051.2 273.5 1054.9 270.0 1058.6 266.6 1062.2 263.2 1066.0 259.8 1069.7 256.4 1073.4 253.0 1077.2 249.7 1080.9 246.3 1084.6 242.7 1088.3 239.0 1092.1 235.4 1095.8 231.8 1099.6 228.4 1103.5 225.3 1107.6 222.4 1111.7 220.0 1116.0 218.1 1120.6 216.3 1125.4 214.7 1130.3 213.3 1135.3 212.0 1140.3 211.0 1145.3 210.1 1150.2 209.4 1155.2 208.7 1160.1 208.1 1165.2 207.6 1170.2 207.3 1175.3 207.1M1175.3 207.1 1175.2 212.2 1175.1 217.3 1175.0 222.3 1174.7 227.4 1174.4 232.4 1174.1 237.4 1173.8 242.4 1173.3 247.3 1172.4 252.2 1171.2 257.1 1169.8 262.0 1168.3 266.9 1166.7 271.7 1165.2 276.5 1163.8 281.4 1162.4 286.2 1161.0 291.1 1159.5 295.9 1158.0 300.7 1156.5 305.5 1154.9 310.3 1153.4 315.1 1151.8 319.9 1150.2 324.7 1148.7 329.5 1147.1 334.3 1145.5 339.1 1144.0 343.9 1142.4 348.6 1140.8 353.4 1139.2 358.2 1137.6 363.0 1135.9 367.8 1134.3 372.5 1132.6 377.3 1130.9 382.0 1129.2 386.8 1127.5 391.5 1125.7 396.2 1123.9 400.9 1122.1 405.7 1120.4 410.4 1118.6 415.1 1116.8 419.8 1115.0 424.5 1113.3 429.3 1111.5 434.0 1109.7 438.7 1107.9 443.4 1106.1 448.1 1104.2 452.8 1102.4 457.5 1100.5 462.1 1098.6 466.8 1096.6 471.5 1094.7 476.1 1092.7 480.8 1090.7 485.4 1088.7 490.0 1086.6 494.6 1084.5 499.2 1082.3 503.7 1080.1 508.2 1077.8 512.7 1075.4 517.2 1073.0 521.6 1070.5 526.0 1068.0 530.4 1065.5 534.8 1062.9 539.1 1060.4 543.5 1057.8 547.8 1055.1 552.2 1052.5 556.5 1049.7 560.8 1047.0 565.0 1044.1 569.2 1041.2 573.3 1038.2 577.2 1035.1 581.1 1031.8 584.9 1028.4 588.5 1024.8 592.1 1021.2 595.6 1017.5 599.1 1013.8 602.5 1010.0 606.0 1006.3 609.5 1002.7 613.0 999.1 616.5 995.6 620.1 992.0 623.6 988.4 627.2 984.8 630.7 981.2 634.3 977.6 637.8 974.1 641.3 970.5 644.9 966.9 648.4 963.3 652.0 959.7 655.5 956.1 659.1 952.5 662.6 949.0 666.2 945.4 669.7 941.8 673.3 938.2 676.8 934.6 680.4 931.0 683.9 927.5 687.4 923.9 691.0 920.3 694.5 916.7 698.1 913.1 701.6 909.5 705.2 906.0 708.7 902.4 712.4 898.9 716.5 895.5 720.9 892.1 725.4 888.7 729.7 885.2 733.7 881.6 737.2 877.9 739.9 873.9 741.7 869.7 742.5 865.0 743.1 860.0 743.6 854.8 744.0 849.3 744.3 843.8 744.5 838.3 744.8 833.0 745.1 827.8 745.4 823.0 745.9 818.6 746.5 814.6 747.4 810.9 749.2 807.5 751.9 804.1 755.3 801.0 759.3 797.9 763.7 794.8 768.4 791.8 773.3 788.8 778.2 785.8 783.0 782.6 787.4 779.4 791.5 776.1 795.3 772.7 799.0 769.4 802.8 766.0 806.6 762.6 810.3 759.3 814.0 755.8 817.8 752.4 821.5 749.0 825.2 745.5 828.8 742.1 832.5 738.6 836.1 735.1 839.8 731.6 843.4 728.0 847.0 724.5 850.6 720.9 854.1 717.3 857.7 713.7 861.2 710.1 864.7 706.5 868.2 702.9 871.7 699.2 875.2 695.5 878.6 691.8 882.0 688.1 885.4 684.3 888.8 680.6 892.2 676.8 895.6 673.0 898.9 669.2 902.2 665.4 905.5 661.6 909.0 657.9 912.5 654.1 916.1 650.3 919.7 646.5 923.1 642.5 926.3 638.5 929.2 634.4 931.8 630.1 934.0 625.6 935.8 620.9 937.5 616.0 939.1 611.0 940.4 606.0 941.6 601.1 942.5 596.1 943.2 591.1 944.0 586.1 944.6 581.1 945.1 576.1 945.5 571.0 945.7M571.0 945.7 571.0 940.6 571.1 935.5 571.3 930.5 571.5 925.5 571.8 920.5 572.1 915.5 572.4 910.5 572.9 905.6 573.7 900.7 574.9 895.8 576.2 890.9 577.7 886.0 579.1 881.2 580.5 876.3 581.8 871.4 583.1 866.6 584.4 861.8 585.8 856.9 587.2 852.1 588.7 847.3 590.1 842.4 591.5 837.6 593.0 832.8 594.5 828.0 595.9 823.2 597.4 818.4 598.8 813.6 600.3 808.8 601.8 804.0 603.3 799.1 604.8 794.3 606.3 789.6 607.8 784.8 609.4 780.0 611.0 775.2 612.6 770.4 614.2 765.7 615.8 760.9 617.5 756.2 619.1 751.4 620.8 746.7 622.4 741.9 624.1 737.2 625.8 732.5 627.4 727.7 629.1 723.0 630.7 718.2 632.4 713.5 634.1 708.7 635.8 704.0 637.6 699.3 639.4 694.6 641.2 689.9 643.0 685.2 644.8 680.5 646.6 675.8 648.5 671.2 650.4 666.5 652.4 661.9 654.4 657.3 656.5 652.7 658.6 648.2 660.8 643.7 663.1 639.1 665.4 634.7 667.7 630.2 670.1 625.8 672.5 621.4 674.9 616.9 677.3 612.4 679.7 608.0 682.2 603.5 684.8 599.1 687.4 594.8 690.1 590.6 692.9 586.4 695.8 582.5 698.9 578.7 702.2 575.0 705.7 571.5 709.4 568.1 713.2 564.8 717.1 561.5 721.0 558.3 725.0 555.0 728.8 551.7 732.6 548.4 736.3 545.0 740.0 541.6 743.7 538.2 747.5 534.8 751.2 531.4 754.9 528.0 758.6 524.6 762.3 521.3 766.0 517.9 769.8 514.5 773.5 511.1 777.2 507.7 780.9 504.3 784.6 500.9 788.3 497.5 792.1 494.2 795.8 490.8 799.5 487.4 803.2 484.0 806.9 480.6 810.6 477.2 814.3 473.8 818.1 470.4 821.8 467.1 825.5 463.7 829.2 460.3 832.9 456.9 836.6 453.5 840.3 450.0 843.9 446.0 847.5 441.8 851.0 437.5 854.6 433.4 858.2 429.6 861.9 426.3 865.8 423.6 869.8 421.7 874.1 420.8 878.7 420.2 883.6 419.7 888.7 419.3 894.1 419.0 899.5 418.7 904.9 418.5 910.2 418.2 915.3 417.8 920.3 417.4 924.9 416.8 929.1 416.1 933.1 414.5 937.0 412.2 940.6 409.2 944.2 405.6 947.6 401.6 951.0 397.3 954.4 392.9 957.8 388.5 961.2 384.1 964.7 380.0 968.2 376.2 971.9 372.7 975.5 369.3 979.2 365.8 982.9 362.4 986.6 359.0 990.3 355.6 994.0 352.2 997.7 348.8 1001.4 345.5 1005.2 342.1 1009.0 338.8 1012.8 335.5 1016.5 332.2 1020.4 328.9 1024.2 325.6 1028.0 322.4 1031.8 319.1 1035.7 315.9 1039.6 312.7 1043.5 309.5 1047.4 306.3 1051.3 303.2 1055.2 300.0 1059.1 296.9 1063.1 293.8 1067.1 290.7 1071.1 287.6 1075.0 284.6 1079.1 281.5 1083.1 278.5 1087.1 275.5 1091.2 272.6 1095.2 269.6 1099.3 266.7 1103.4 263.8 1107.5 260.9 1111.6 258.0 1115.8 255.1 1119.9 252.3 1124.1 249.5 1128.3 246.7 1132.5 243.9 1136.7 241.2 1140.9 238.5 1145.2 235.8 1149.4 233.1 1153.7 230.4 1158.0 227.8 1162.3 225.2 1166.6 222.6 1170.9 220.0 1175.3 217.5M1175.3 217.5 1175.2 222.6 1175.1 227.7 1174.9 232.8 1174.7 237.8 1174.4 242.9 1174.1 247.9 1173.7 252.8 1173.2 257.8 1172.2 262.7 1170.9 267.6 1169.5 272.5 1167.9 277.3 1166.3 282.2 1164.9 287.0 1163.4 291.8 1162.0 296.7 1160.5 301.5 1159.0 306.3 1157.5 311.1 1155.9 315.9 1154.4 320.8 1152.8 325.5 1151.2 330.3 1149.6 335.1 1148.1 339.9 1146.5 344.7 1144.9 349.5 1143.3 354.3 1141.7 359.1 1140.1 363.9 1138.5 368.7 1136.8 373.4 1135.2 378.2 1133.5 383.0 1131.8 387.7 1130.0 392.4 1128.3 397.2 1126.5 401.9 1124.7 406.6 1122.9 411.3 1121.1 416.1 1119.3 420.8 1117.5 425.5 1115.7 430.2 1113.9 434.9 1112.1 439.7 1110.3 444.4 1108.5 449.1 1106.7 453.8 1104.8 458.5 1102.9 463.1 1101.0 467.8 1099.1 472.5 1097.1 477.2 1095.1 481.8 1093.1 486.4 1091.1 491.1 1089.0 495.7 1086.9 500.2 1084.7 504.8 1082.5 509.3 1080.1 513.8 1077.8 518.2 1075.3 522.7 1072.9 527.1 1070.4 531.5 1067.8 535.8 1065.2 540.2 1062.7 544.5 1060.0 548.9 1057.4 553.2 1054.7 557.6 1052.0 561.9 1049.2 566.1 1046.3 570.2 1043.3 574.3 1040.3 578.2 1037.1 582.0 1033.7 585.7 1030.2 589.2 1026.5 592.7 1022.8 596.1 1018.9 599.4 1015.1 602.8 1011.3 606.2 1007.5 609.6 1003.8 613.0 1000.1 616.5 996.5 619.9 992.8 623.4 989.1 626.8 985.4 630.3 981.7 633.8 978.1 637.2 974.4 640.7 970.7 644.1 967.0 647.6 963.4 651.1 959.7 654.5 956.0 658.0 952.3 661.4 948.7 664.9 945.0 668.4 941.3 671.8 937.6 675.3 934.0 678.7 930.3 682.2 926.6 685.7 922.9 689.1 919.3 692.6 915.6 696.1 911.9 699.5 908.2 703.0 904.6 706.4 901.0 710.3 897.4 714.5 893.9 718.8 890.4 723.1 886.9 727.2 883.2 730.8 879.5 733.8 875.5 735.9 871.4 737.0 866.9 737.7 862.0 738.2 856.9 738.6 851.6 738.9 846.2 739.2 840.7 739.5 835.4 739.7 830.1 740.1 825.1 740.5 820.4 741.0 816.0 741.7 812.0 743.1 808.1 745.4 804.3 748.3 800.7 751.8 797.2 755.7 793.8 759.9 790.3 764.3 786.9 768.7 783.4 773.1 779.9 777.2 776.3 780.9 772.6 784.4 768.9 787.8 765.2 791.2 761.5 794.6 757.7 798.0 754.0 801.4 750.2 804.7 746.4 808.1 742.6 811.4 738.8 814.7 735.0 818.0 731.2 821.3 727.3 824.6 723.5 827.9 719.6 831.1 715.7 834.3 711.8 837.5 707.9 840.7 704.0 843.9 700.1 847.1 696.1 850.2 692.2 853.3 688.2 856.4 684.2 859.5 680.2 862.6 676.2 865.7 672.1 868.7 668.1 871.7 664.0 874.7 659.9 877.7 655.8 880.7 651.7 883.6 647.6 886.5 643.5 889.4 639.3 892.3 635.2 895.1 631.0 898.0 626.8 900.8 622.6 903.6 618.4 906.4 614.1 909.1 609.9 911.8 605.6 914.5 601.4 917.2 597.1 919.8 592.7 922.5 588.4 925.1 584.1 927.7 579.7 930.2 575.4 932.7 571.0 935.3M571.0 935.3 571.0 930.2 571.1 925.1 571.3 920.0 571.5 915.0 571.8 910.0 572.1 905.0 572.4 900.0 573.0 895.0 574.0 890.1 575.2 885.2 576.6 880.3 578.1 875.4 579.5 870.6 580.8 865.7 582.2 860.8 583.5 856.0 584.9 851.1 586.3 846.3 587.8 841.4 589.2 836.6 590.7 831.8 592.2 826.9 593.6 822.1 595.1 817.3 596.6 812.5 598.1 807.6 599.5 802.8 601.0 798.0 602.5 793.2 604.0 788.4 605.6 783.6 607.1 778.8 608.7 774.0 610.3 769.2 611.9 764.4 613.6 759.7 615.2 754.9 616.9 750.1 618.6 745.4 620.3 740.6 621.9 735.9 623.6 731.1 625.3 726.3 627.0 721.6 628.6 716.8 630.3 712.1 632.0 707.3 633.8 702.6 635.5 697.9 637.3 693.1 639.1 688.4 640.9 683.7 642.8 679.0 644.6 674.3 646.5 669.6 648.4 665.0 650.4 660.3 652.5 655.7 654.5 651.1 656.7 646.6 658.9 642.1 661.2 637.5 663.5 633.1 665.9 628.6 668.3 624.2 670.7 619.8 673.2 615.3 675.7 610.9 678.2 606.5 680.8 602.2 683.4 597.8 686.1 593.5 688.8 589.3 691.6 585.1 694.5 581.0 697.5 577.0 700.6 573.1 703.8 569.3 707.1 565.5 710.5 561.7 713.9 558.0 717.4 554.3 720.9 550.6 724.3 546.9 727.8 543.2 731.2 539.5 734.6 535.7 738.0 532.0 741.4 528.3 744.8 524.6 748.3 520.9 751.7 517.2 755.2 513.5 758.6 509.9 762.1 506.2 765.6 502.5 769.1 498.9 772.6 495.3 776.1 491.7 779.6 488.0 783.1 484.4 786.7 480.8 790.2 477.3 793.8 473.7 797.4 470.1 800.9 466.6 804.5 463.0 808.1 459.5 811.8 456.0 815.4 452.5 819.0 449.0 822.7 445.5 826.3 442.0 830.0 438.5 833.7 435.1 837.3 431.6 841.0 427.9 844.6 423.9 848.2 419.6 851.8 415.4 855.4 411.4 859.1 407.7 862.9 404.6 866.8 402.1 870.9 400.5 875.2 399.7 879.8 399.0 884.5 398.5 889.5 398.0 894.7 397.6 899.9 397.3 905.3 397.0 910.7 396.8 916.1 396.5 921.5 396.3 926.9 396.0 932.1 395.7 937.3 395.4 942.3 394.9 947.1 394.4 951.7 393.8 956.0 393.0 960.1 391.7 964.0 389.6 967.9 386.8 971.6 383.5 975.2 379.8 978.7 375.7 982.2 371.5 985.8 367.2 989.3 362.9 992.9 358.8 996.5 354.9 1000.2 351.4 1004.0 348.1 1007.8 344.7 1011.6 341.4 1015.4 338.1 1019.2 334.8 1023.0 331.5 1026.9 328.3 1030.7 325.0 1034.6 321.8 1038.5 318.5 1042.4 315.3 1046.3 312.2 1050.2 309.0 1054.2 305.8 1058.1 302.7 1062.1 299.5 1066.0 296.4 1070.0 293.3 1074.0 290.3 1078.0 287.2 1082.1 284.2 1086.1 281.1 1090.1 278.1 1094.2 275.1 1098.3 272.2 1102.4 269.2 1106.5 266.3 1110.6 263.4 1114.7 260.5 1118.9 257.6 1123.0 254.7 1127.2 251.9 1131.4 249.1 1135.6 246.2 1139.7 243.3 1143.9 240.3 1148.1 237.3 1152.3 234.3 1156.5 231.5 1160.7 228.7 1165.1 226.2 1169.5 223.9 1174.0 221.9 1178.6 220.2 1183.3 218.6 1188.2 217.0 1193.1 215.6 1198.0 214.4 1203.0 213.4 1208.0 212.6 1212.9 211.9 1217.9 211.3 1222.9 210.7 1228.0 210.2 1233.0 209.9 1238.1 209.7M1238.1 209.7 1238.1 214.8 1237.9 219.9 1237.7 225.0 1237.5 230.0 1237.2 235.0 1236.8 240.0 1236.4 245.0 1235.9 249.9 1234.9 254.8 1233.6 259.7 1232.0 264.5 1230.3 269.3 1228.6 274.1 1226.9 278.9 1225.4 283.7 1223.8 288.5 1222.2 293.3 1220.6 298.1 1218.9 302.8 1217.2 307.6 1215.5 312.4 1213.8 317.1 1212.1 321.8 1210.4 326.6 1208.6 331.3 1206.9 336.1 1205.2 340.8 1203.5 345.5 1201.7 350.3 1200.0 355.0 1198.2 359.7 1196.4 364.5 1194.6 369.2 1192.8 373.9 1191.0 378.6 1189.1 383.3 1187.2 387.9 1185.3 392.6 1183.4 397.3 1181.4 401.9 1179.5 406.6 1177.5 411.2 1175.6 415.9 1173.6 420.5 1171.7 425.2 1169.7 429.8 1167.8 434.5 1165.8 439.1 1163.8 443.8 1161.8 448.4 1159.8 453.0 1157.8 457.6 1155.7 462.2 1153.6 466.8 1151.5 471.4 1149.4 476.0 1147.2 480.6 1145.1 485.1 1142.8 489.7 1140.6 494.2 1138.3 498.7 1135.9 503.1 1133.5 507.5 1131.0 511.9 1128.5 516.3 1125.9 520.6 1123.2 524.9 1120.5 529.2 1117.8 533.4 1115.0 537.6 1112.2 541.8 1109.4 546.0 1106.6 550.3 1103.7 554.4 1100.8 558.6 1097.8 562.7 1094.8 566.8 1091.7 570.7 1088.6 574.7 1085.4 578.5 1082.1 582.2 1078.7 585.9 1075.1 589.4 1071.5 592.9 1067.8 596.4 1064.1 599.8 1060.3 603.2 1056.5 606.5 1052.7 609.9 1048.9 613.2 1045.1 616.6 1041.3 619.9 1037.6 623.3 1033.8 626.7 1030.1 630.1 1026.3 633.4 1022.5 636.8 1018.8 640.1 1015.0 643.5 1011.2 646.8 1007.4 650.1 1003.6 653.4 999.8 656.7 995.9 660.0 992.1 663.3 988.3 666.6 984.4 669.8 980.6 673.1 976.7 676.3 972.8 679.6 969.0 682.8 965.1 686.0 961.2 689.2 957.3 692.4 953.4 695.6 949.4 698.8 945.5 701.9 941.6 705.1 937.6 708.2 933.7 711.3 929.7 714.5 925.7 717.6 921.7 720.7 917.8 723.8 913.8 726.8 909.8 730.2 905.9 733.7 902.0 737.5 898.0 741.2 894.1 744.9 890.1 748.3 886.1 751.4 882.0 754.1 877.7 756.1 873.4 757.5 868.9 758.3 864.2 759.0 859.3 759.5 854.2 759.9 849.0 760.3 843.7 760.6 838.4 760.9 833.0 761.2 827.6 761.4 822.3 761.7 817.0 761.9 811.8 762.3 806.7 762.6 801.8 763.1 797.1 763.6 792.5 764.2 788.3 765.0 784.2 766.4 780.3 768.5 776.5 771.4 772.9 774.7 769.3 778.5 765.8 782.6 762.3 786.9 758.8 791.3 755.3 795.6 751.8 799.8 748.2 803.7 744.5 807.2 740.8 810.6 737.1 814.0 733.3 817.4 729.5 820.7 725.7 824.1 722.0 827.4 718.1 830.7 714.3 834.0 710.5 837.3 706.7 840.5 702.8 843.8 698.9 847.0 695.0 850.2 691.1 853.4 687.2 856.6 683.3 859.8 679.4 863.0 675.4 866.1 671.5 869.2 667.5 872.3 663.5 875.4 659.5 878.5 655.5 881.5 651.5 884.6 647.4 887.6 643.3 890.6 639.3 893.6 635.2 896.5 631.1 899.5 627.0 902.4 622.8 905.3 618.7 908.2 614.6 911.0 610.4 913.9 606.3 916.9 602.1 920.0 598.0 923.1 593.9 926.1 589.7 929.0 585.4 931.8 581.1 934.3 576.7 936.6 572.3 938.7 567.7 940.4 562.9 942.1 558.1 943.6 553.2 945.0 548.2 946.2 543.2 947.2 538.3 948.0 533.3 948.7 528.3 949.3 523.3 949.9 518.3 950.4 513.2 950.7 508.1 950.9M508.1 950.9 508.2 945.8 508.3 940.7 508.5 935.7 508.7 930.6 509.0 925.6 509.3 920.7 509.7 915.7 510.2 910.7 511.1 905.8 512.3 901.0 513.7 896.1 515.3 891.3 516.9 886.4 518.4 881.6 519.8 876.8 521.3 872.0 522.8 867.1 524.3 862.3 525.8 857.5 527.3 852.8 528.9 848.0 530.5 843.2 532.1 838.4 533.7 833.6 535.3 828.8 536.9 824.1 538.5 819.3 540.1 814.5 541.7 809.8 543.3 805.0 544.9 800.2 546.6 795.5 548.2 790.7 549.9 786.0 551.6 781.2 553.3 776.5 555.1 771.8 556.9 767.1 558.7 762.4 560.5 757.7 562.3 753.0 564.1 748.3 565.9 743.6 567.7 738.9 569.5 734.2 571.3 729.5 573.1 724.8 574.9 720.1 576.8 715.4 578.6 710.7 580.5 706.0 582.4 701.4 584.3 696.7 586.3 692.1 588.2 687.4 590.2 682.8 592.2 678.2 594.2 673.6 596.3 669.0 598.4 664.4 600.6 659.9 602.8 655.4 605.1 650.9 607.5 646.4 609.9 642.0 612.3 637.6 614.8 633.2 617.4 628.9 620.0 624.6 622.5 620.2 625.1 615.9 627.8 611.5 630.4 607.2 633.1 602.9 635.9 598.6 638.7 594.4 641.6 590.3 644.6 586.3 647.7 582.5 650.9 578.7 654.3 575.1 657.8 571.6 661.5 568.2 665.3 564.9 669.1 561.6 673.1 558.4 677.0 555.2 681.0 552.0 685.0 548.9 688.9 545.7 692.8 542.4 696.7 539.2 700.5 535.9 704.4 532.7 708.2 529.5 712.1 526.2 716.0 523.0 719.8 519.8 723.7 516.6 727.6 513.4 731.5 510.2 735.4 507.0 739.3 503.9 743.3 500.7 747.2 497.6 751.1 494.4 755.1 491.3 759.0 488.2 763.0 485.1 766.9 482.0 770.9 478.9 774.9 475.8 778.9 472.7 782.9 469.7 786.9 466.6 790.9 463.6 794.9 460.6 799.0 457.5 803.0 454.5 807.0 451.5 811.1 448.5 815.1 445.6 819.2 442.6 823.3 439.6 827.4 436.7 831.4 433.6 835.5 430.3 839.5 426.7 843.5 423.2 847.5 419.6 851.6 416.3 855.6 413.1 859.8 410.4 864.1 408.1 868.4 406.4 872.8 405.3 877.5 404.6 882.3 404.0 887.2 403.5 892.3 403.1 897.4 402.8 902.6 402.5 907.9 402.2 913.2 401.9 918.5 401.7 923.8 401.4 929.0 401.1 934.1 400.8 939.2 400.4 944.1 399.9 948.8 399.4 953.4 398.7 957.8 397.8 962.1 396.3 966.2 394.1 970.2 391.3 974.2 388.2 978.1 384.7 981.9 381.0 985.8 377.2 989.6 373.3 993.4 369.5 997.3 365.9 1001.3 362.6 1005.3 359.6 1009.4 356.6 1013.4 353.6 1017.5 350.6 1021.6 347.7 1025.7 344.7 1029.7 341.8 1033.9 338.9 1038.0 336.0 1042.1 333.1 1046.2 330.2 1050.4 327.4 1054.5 324.5 1058.7 321.7 1062.8 318.9 1067.0 316.1 1071.2 313.3 1075.4 310.5 1079.6 307.7 1083.9 305.0 1088.1 302.3 1092.3 299.6 1096.6 296.9 1100.8 294.2 1105.1 291.5 1109.4 288.9 1113.7 286.3 1118.0 283.6 1122.3 281.0 1126.6 278.5 1131.0 275.9 1135.3 273.4 1139.7 270.8 1144.1 268.3 1148.4 265.9 1152.8 263.4 1157.2 260.9 1161.6 258.5 1166.0 256.1 1170.5 253.7 1174.9 251.3 1179.4 248.9 1183.8 246.6 1188.3 244.3 1192.8 242.0 1197.2 239.7 1201.7 237.5 1206.3 235.2 1210.8 233.0 1215.3 230.8 1219.8 228.6 1224.4 226.5 1229.0 224.3 1233.5 222.2 1238.1 220.1M1238.1 220.1 1238.1 225.2 1237.9 230.3 1237.7 235.4 1237.5 240.4 1237.1 245.4 1236.8 250.4 1236.4 255.4 1235.7 260.3 1234.7 265.2 1233.2 270.0 1231.6 274.8 1229.9 279.7 1228.1 284.5 1226.5 289.3 1225.0 294.0 1223.4 298.8 1221.8 303.6 1220.1 308.4 1218.4 313.1 1216.7 317.9 1215.0 322.6 1213.3 327.3 1211.5 332.1 1209.8 336.8 1208.1 341.5 1206.3 346.3 1204.6 351.0 1202.8 355.7 1201.1 360.5 1199.3 365.2 1197.5 369.9 1195.7 374.6 1193.9 379.3 1192.0 384.0 1190.1 388.7 1188.2 393.3 1186.3 398.0 1184.4 402.6 1182.4 407.3 1180.5 411.9 1178.5 416.6 1176.5 421.2 1174.6 425.9 1172.6 430.5 1170.6 435.2 1168.7 439.8 1166.7 444.4 1164.7 449.1 1162.7 453.7 1160.6 458.3 1158.6 462.9 1156.5 467.5 1154.4 472.1 1152.2 476.6 1150.1 481.2 1147.9 485.8 1145.7 490.3 1143.5 494.8 1141.2 499.3 1138.8 503.7 1136.4 508.1 1133.9 512.5 1131.3 516.9 1128.7 521.2 1126.1 525.5 1123.4 529.8 1120.7 534.0 1117.9 538.2 1115.1 542.4 1112.3 546.6 1109.4 550.8 1106.6 555.0 1103.6 559.2 1100.7 563.3 1097.6 567.3 1094.5 571.3 1091.3 575.2 1088.1 578.9 1084.8 582.6 1081.3 586.2 1077.7 589.7 1074.0 593.1 1070.2 596.4 1066.4 599.7 1062.5 603.0 1058.6 606.3 1054.7 609.5 1050.8 612.8 1046.9 616.0 1043.1 619.3 1039.3 622.6 1035.5 625.9 1031.7 629.2 1027.8 632.5 1024.0 635.8 1020.1 639.0 1016.3 642.3 1012.4 645.5 1008.6 648.7 1004.7 652.0 1000.8 655.2 996.9 658.4 993.0 661.6 989.1 664.8 985.2 667.9 981.2 671.1 977.3 674.2 973.4 677.4 969.4 680.5 965.5 683.7 961.5 686.8 957.5 689.9 953.5 693.0 949.6 696.0 945.6 699.1 941.6 702.2 937.5 705.2 933.5 708.3 929.5 711.3 925.5 714.3 921.4 717.3 917.4 720.3 913.3 723.4 909.3 726.7 905.3 730.2 901.3 733.8 897.3 737.4 893.3 740.9 889.3 744.2 885.1 747.1 880.9 749.5 876.6 751.4 872.2 752.6 867.6 753.3 862.9 753.9 858.0 754.4 852.9 754.8 847.8 755.2 842.5 755.5 837.2 755.8 831.9 756.0 826.6 756.3 821.3 756.5 816.1 756.8 810.9 757.1 805.9 757.5 800.9 758.0 796.1 758.5 791.5 759.2 787.1 760.0 782.9 761.5 778.7 763.7 774.7 766.4 770.8 769.5 766.9 773.0 763.1 776.8 759.3 780.6 755.5 784.6 751.7 788.4 747.8 792.1 743.9 795.5 739.9 798.6 735.9 801.6 731.8 804.6 727.8 807.7 723.8 810.7 719.7 813.7 715.6 816.7 711.6 819.6 707.5 822.6 703.4 825.5 699.3 828.4 695.1 831.3 691.0 834.2 686.9 837.1 682.7 840.0 678.6 842.8 674.4 845.7 670.2 848.5 666.0 851.3 661.8 854.1 657.6 856.9 653.4 859.6 649.2 862.3 644.9 865.1 640.7 867.8 636.4 870.5 632.1 873.1 627.8 875.8 623.5 878.4 619.2 881.1 614.9 883.7 610.6 886.3 606.3 888.8 601.9 891.4 597.5 893.9 593.2 896.4 588.8 898.9 584.4 901.4 580.0 903.9 575.6 906.3 571.2 908.7 566.7 911.1 562.3 913.5 557.8 915.9 553.4 918.2 548.9 920.5 544.4 922.8 539.9 925.1 535.4 927.3 530.9 929.6 526.4 931.8 521.8 934.0 517.3 936.2 512.7 938.3 508.1 940.5M508.1 940.5 508.2 935.4 508.3 930.3 508.5 925.2 508.7 920.2 509.0 915.2 509.4 910.2 509.7 905.2 510.3 900.3 511.3 895.4 512.6 890.5 514.1 885.7 515.7 880.8 517.3 876.0 518.8 871.2 520.2 866.3 521.7 861.5 523.2 856.7 524.7 851.9 526.3 847.1 527.9 842.3 529.5 837.5 531.1 832.8 532.7 828.0 534.3 823.2 535.9 818.4 537.5 813.7 539.1 808.9 540.7 804.1 542.3 799.3 544.0 794.6 545.6 789.8 547.3 785.1 549.0 780.3 550.7 775.6 552.5 770.9 554.3 766.1 556.0 761.4 557.8 756.7 559.7 752.0 561.5 747.3 563.3 742.6 565.1 737.9 567.0 733.2 568.8 728.5 570.6 723.8 572.4 719.1 574.3 714.4 576.1 709.7 578.0 705.1 579.9 700.4 581.8 695.8 583.8 691.1 585.7 686.5 587.7 681.8 589.7 677.2 591.8 672.6 593.8 668.0 596.0 663.4 598.1 658.9 600.4 654.4 602.7 649.9 605.0 645.4 607.4 641.0 609.9 636.6 612.4 632.2 615.0 627.9 617.6 623.6 620.2 619.3 622.8 614.9 625.5 610.6 628.2 606.3 630.9 602.0 633.7 597.8 636.6 593.6 639.5 589.5 642.5 585.5 645.6 581.6 648.8 577.9 652.1 574.2 655.6 570.6 659.2 567.1 662.8 563.6 666.6 560.2 670.3 556.8 674.2 553.4 678.0 550.1 681.8 546.8 685.7 543.4 689.4 540.1 693.2 536.7 696.9 533.3 700.6 529.9 704.3 526.5 708.1 523.1 711.8 519.8 715.6 516.4 719.4 513.1 723.1 509.7 726.9 506.4 730.7 503.1 734.5 499.8 738.3 496.5 742.1 493.2 745.9 489.9 749.8 486.6 753.6 483.3 757.4 480.1 761.3 476.8 765.2 473.6 769.0 470.3 772.9 467.1 776.8 463.9 780.7 460.7 784.6 457.5 788.5 454.3 792.4 451.1 796.3 448.0 800.2 444.8 804.1 441.6 808.1 438.5 812.0 435.4 816.0 432.3 820.0 429.1 823.9 426.1 827.9 423.0 831.9 419.6 835.8 416.1 839.7 412.4 843.6 408.6 847.5 404.9 851.5 401.4 855.5 398.1 859.5 395.2 863.7 392.8 867.9 390.9 872.3 389.8 876.8 389.0 881.4 388.3 886.2 387.7 891.1 387.2 896.1 386.8 901.2 386.4 906.4 386.1 911.6 385.8 916.9 385.5 922.2 385.3 927.5 385.0 932.8 384.8 938.1 384.6 943.4 384.3 948.6 384.0 953.8 383.7 958.9 383.3 963.9 382.9 968.8 382.4 973.6 381.8 978.3 381.2 982.8 380.4 987.2 379.3 991.4 377.6 995.6 375.3 999.7 372.6 1003.7 369.5 1007.7 366.1 1011.6 362.5 1015.5 358.8 1019.4 355.0 1023.4 351.4 1027.3 347.8 1031.3 344.5 1035.4 341.5 1039.5 338.6 1043.7 335.7 1047.8 332.8 1051.9 329.9 1056.1 327.1 1060.2 324.2 1064.4 321.4 1068.6 318.6 1072.8 315.8 1077.0 313.0 1081.2 310.2 1085.4 307.5 1089.6 304.7 1093.8 302.0 1098.1 299.3 1102.3 296.6 1106.6 293.9 1110.9 291.2 1115.2 288.5 1119.4 285.9 1123.7 283.3 1128.1 280.6 1132.4 278.1 1136.7 275.5 1141.0 272.9 1145.4 270.4 1149.8 267.9 1154.1 265.3 1158.5 262.8 1162.9 260.4 1167.3 257.9 1171.7 255.5 1176.1 253.0 1180.5 250.6 1185.0 248.2 1189.4 245.9 1193.9 243.4 1198.3 241.0 1202.7 238.5 1207.2 236.1 1211.6 233.6 1216.1 231.3 1220.6 229.0 1225.1 226.8 1229.7 224.8 1234.3 222.8 1239.0 221.1 1243.7 219.4 1248.5 217.8 1253.4 216.3 1258.3 214.9 1263.2 213.7 1268.1 212.8 1273.0 212.1 1278.0 211.4 1283.0 210.8 1288.0 210.2 1293.1 209.9 1298.2 209.7M1298.2 209.7 1298.1 214.8 1298.0 219.9 1297.8 224.9 1297.5 229.9 1297.2 234.9 1296.8 239.9 1296.4 244.8 1295.8 249.7 1294.8 254.6 1293.5 259.4 1291.8 264.2 1290.1 269.0 1288.3 273.7 1286.5 278.5 1284.9 283.2 1283.3 288.0 1281.6 292.7 1279.9 297.4 1278.2 302.2 1276.4 306.9 1274.7 311.6 1272.9 316.3 1271.1 321.0 1269.3 325.6 1267.5 330.3 1265.7 335.0 1263.9 339.7 1262.1 344.4 1260.3 349.1 1258.5 353.8 1256.6 358.4 1254.8 363.1 1252.9 367.8 1251.0 372.4 1249.1 377.1 1247.2 381.7 1245.2 386.3 1243.2 390.9 1241.2 395.5 1239.2 400.1 1237.2 404.7 1235.2 409.3 1233.1 413.9 1231.1 418.5 1229.1 423.1 1227.0 427.7 1225.0 432.3 1223.0 436.9 1220.9 441.5 1218.9 446.0 1216.8 450.6 1214.7 455.2 1212.5 459.7 1210.4 464.2 1208.2 468.8 1206.0 473.3 1203.8 477.8 1201.5 482.3 1199.3 486.8 1197.0 491.2 1194.6 495.7 1192.2 500.1 1189.7 504.4 1187.2 508.8 1184.6 513.1 1181.9 517.3 1179.2 521.6 1176.5 525.8 1173.7 530.0 1170.9 534.1 1168.0 538.2 1165.2 542.4 1162.3 546.5 1159.4 550.7 1156.4 554.8 1153.4 558.9 1150.4 562.9 1147.3 566.9 1144.1 570.8 1140.8 574.6 1137.5 578.2 1134.1 581.8 1130.5 585.2 1126.9 588.5 1123.1 591.7 1119.2 594.9 1115.2 598.0 1111.2 601.1 1107.2 604.1 1103.1 607.1 1099.0 610.1 1094.9 613.1 1090.8 616.1 1086.8 619.1 1082.8 622.2 1078.8 625.2 1074.8 628.3 1070.8 631.4 1066.8 634.4 1062.8 637.4 1058.8 640.5 1054.8 643.5 1050.8 646.5 1046.8 649.5 1042.7 652.5 1038.7 655.5 1034.7 658.5 1030.6 661.5 1026.6 664.4 1022.5 667.4 1018.5 670.3 1014.4 673.3 1010.3 676.2 1006.2 679.1 1002.1 682.1 998.1 685.0 994.0 687.9 989.9 690.8 985.7 693.7 981.6 696.5 977.5 699.4 973.4 702.2 969.2 705.1 965.1 707.9 960.9 710.8 956.8 713.6 952.6 716.4 948.5 719.2 944.3 722.0 940.1 724.8 935.9 727.6 931.7 730.3 927.5 733.1 923.3 735.9 919.2 738.8 915.0 742.0 910.9 745.2 906.8 748.6 902.6 751.9 898.4 755.1 894.2 758.1 890.0 760.9 885.7 763.3 881.4 765.4 877.0 767.1 872.5 768.2 867.8 768.9 863.1 769.6 858.3 770.1 853.3 770.6 848.3 771.1 843.2 771.5 838.1 771.8 832.9 772.1 827.6 772.4 822.4 772.6 817.1 772.9 811.9 773.1 806.6 773.3 801.4 773.6 796.3 773.9 791.1 774.2 786.1 774.6 781.1 775.0 776.2 775.5 771.5 776.1 766.8 776.7 762.3 777.4 757.9 778.5 753.6 780.1 749.4 782.3 745.4 784.9 741.3 788.0 737.4 791.3 733.4 794.8 729.5 798.5 725.6 802.2 721.7 805.9 717.7 809.4 713.7 812.7 709.6 815.6 705.5 818.5 701.4 821.4 697.3 824.3 693.1 827.1 689.0 829.9 684.8 832.8 680.7 835.6 676.5 838.4 672.3 841.1 668.1 843.9 663.9 846.7 659.7 849.4 655.5 852.1 651.2 854.8 647.0 857.5 642.7 860.2 638.5 862.8 634.2 865.5 629.9 868.1 625.7 870.7 621.4 873.3 617.0 875.9 612.7 878.5 608.4 881.0 604.1 883.5 599.7 886.1 595.4 888.6 591.0 891.0 586.6 893.5 582.2 896.0 577.8 898.4 573.4 900.8 569.0 903.2 564.6 905.6 560.2 908.0 555.7 910.3 551.3 912.7 546.9 915.1 542.5 917.6 538.0 920.0 533.6 922.4 529.1 924.7 524.6 927.0 520.1 929.1 515.5 931.1 510.9 933.0 506.2 934.6 501.5 936.3 496.7 937.9 491.8 939.4 486.9 940.7 482.0 941.8 477.1 942.6 472.2 943.4 467.3 944.1 462.3 944.7 457.3 945.2 452.2 945.5 447.2 945.7M447.2 945.7 447.2 940.6 447.3 935.5 447.5 930.4 447.8 925.4 448.1 920.4 448.4 915.4 448.8 910.5 449.4 905.6 450.4 900.7 451.7 895.8 453.3 891.0 455.0 886.2 456.7 881.4 458.3 876.6 459.8 871.8 461.3 867.0 462.9 862.2 464.5 857.5 466.2 852.7 467.8 848.0 469.5 843.2 471.2 838.5 472.9 833.7 474.6 829.0 476.3 824.2 478.0 819.5 479.7 814.8 481.4 810.0 483.1 805.3 484.8 800.6 486.6 795.8 488.3 791.1 490.1 786.4 491.9 781.7 493.7 777.0 495.6 772.3 497.4 767.7 499.3 763.0 501.2 758.4 503.2 753.7 505.1 749.0 507.0 744.4 508.9 739.7 510.8 735.1 512.8 730.4 514.7 725.8 516.6 721.1 518.5 716.5 520.5 711.8 522.5 707.2 524.5 702.6 526.5 698.0 528.6 693.4 530.6 688.8 532.7 684.2 534.8 679.6 537.0 675.1 539.1 670.5 541.3 666.0 543.6 661.5 545.9 657.1 548.3 652.7 550.8 648.3 553.3 643.9 555.8 639.5 558.4 635.2 561.1 630.9 563.8 626.7 566.5 622.5 569.2 618.2 572.0 613.9 574.7 609.6 577.5 605.3 580.4 601.1 583.3 596.9 586.2 592.8 589.3 588.9 592.5 585.1 595.8 581.4 599.2 578.0 602.8 574.7 606.5 571.4 610.4 568.3 614.4 565.3 618.5 562.3 622.7 559.4 626.9 556.6 631.2 553.7 635.4 550.9 639.7 548.1 643.9 545.2 648.1 542.3 652.2 539.4 656.3 536.5 660.4 533.6 664.5 530.7 668.6 527.7 672.7 524.8 676.9 521.9 681.0 519.1 685.1 516.2 689.2 513.3 693.4 510.4 697.5 507.6 701.7 504.7 705.8 501.9 710.0 499.0 714.1 496.2 718.3 493.4 722.5 490.6 726.7 487.8 730.9 485.0 735.0 482.2 739.2 479.4 743.4 476.7 747.7 473.9 751.9 471.1 756.1 468.4 760.3 465.7 764.5 462.9 768.8 460.2 773.0 457.5 777.3 454.8 781.5 452.1 785.8 449.4 790.0 446.8 794.3 444.1 798.6 441.4 802.9 438.8 807.1 436.1 811.4 433.5 815.7 430.9 820.0 428.2 824.3 425.4 828.5 422.3 832.8 419.2 837.0 416.1 841.3 413.0 845.5 410.0 849.8 407.1 854.2 404.5 858.6 402.2 863.0 400.2 867.5 398.7 872.1 397.6 876.8 396.9 881.5 396.2 886.4 395.7 891.4 395.2 896.4 394.7 901.5 394.4 906.6 394.0 911.8 393.7 917.0 393.5 922.2 393.2 927.4 393.0 932.6 392.7 937.9 392.4 943.1 392.2 948.2 391.9 953.3 391.5 958.4 391.2 963.4 390.7 968.3 390.2 973.1 389.7 977.8 389.0 982.5 388.3 987.0 387.3 991.4 385.7 995.7 383.6 1000.0 381.1 1004.2 378.3 1008.3 375.2 1012.4 372.0 1016.6 368.6 1020.7 365.2 1024.8 361.9 1029.0 358.7 1033.2 355.7 1037.4 353.0 1041.7 350.4 1046.0 347.8 1050.3 345.1 1054.6 342.5 1058.9 339.9 1063.2 337.3 1067.6 334.7 1071.9 332.2 1076.2 329.6 1080.6 327.1 1084.9 324.6 1089.3 322.1 1093.7 319.6 1098.0 317.1 1102.4 314.6 1106.8 312.2 1111.2 309.7 1115.6 307.3 1120.1 304.9 1124.5 302.5 1128.9 300.1 1133.4 297.7 1137.8 295.4 1142.3 293.0 1146.7 290.7 1151.2 288.4 1155.7 286.1 1160.1 283.8 1164.6 281.5 1169.1 279.3 1173.7 277.0 1178.2 274.8 1182.7 272.6 1187.2 270.4 1191.8 268.2 1196.3 266.1 1200.9 263.9 1205.4 261.8 1210.0 259.7 1214.6 257.6 1219.1 255.5 1223.7 253.5 1228.3 251.4 1232.9 249.4 1237.6 247.4 1242.2 245.4 1246.8 243.4 1251.4 241.4 1256.1 239.5 1260.7 237.6 1265.4 235.6 1270.0 233.7 1274.7 231.9 1279.4 230.0 1284.1 228.2 1288.8 226.3 1293.5 224.5 1298.2 222.7M1298.2 222.7 1298.1 227.8 1298.0 232.9 1297.8 238.0 1297.5 243.0 1297.1 248.0 1296.7 252.9 1296.3 257.9 1295.6 262.7 1294.5 267.6 1293.0 272.4 1291.3 277.2 1289.4 281.9 1287.6 286.7 1285.9 291.4 1284.3 296.2 1282.6 300.9 1280.9 305.6 1279.2 310.4 1277.4 315.1 1275.6 319.8 1273.8 324.4 1272.0 329.1 1270.2 333.8 1268.4 338.5 1266.5 343.2 1264.7 347.9 1262.9 352.5 1261.0 357.2 1259.2 361.9 1257.3 366.6 1255.5 371.2 1253.6 375.9 1251.7 380.5 1249.7 385.2 1247.7 389.8 1245.7 394.4 1243.7 399.0 1241.7 403.6 1239.6 408.2 1237.6 412.7 1235.5 417.3 1233.5 421.9 1231.4 426.5 1229.3 431.1 1227.3 435.7 1225.2 440.2 1223.2 444.8 1221.1 449.4 1219.0 454.0 1216.8 458.5 1214.7 463.0 1212.5 467.6 1210.3 472.1 1208.1 476.6 1205.8 481.1 1203.6 485.6 1201.3 490.1 1198.9 494.5 1196.5 498.9 1194.1 503.3 1191.6 507.6 1189.0 511.9 1186.4 516.2 1183.7 520.5 1180.9 524.7 1178.1 528.9 1175.3 533.0 1172.4 537.2 1169.5 541.3 1166.6 545.4 1163.7 549.5 1160.8 553.7 1157.8 557.8 1154.7 561.8 1151.6 565.8 1148.4 569.7 1145.2 573.5 1141.8 577.2 1138.4 580.7 1134.9 584.1 1131.2 587.4 1127.3 590.6 1123.4 593.7 1119.4 596.7 1115.4 599.7 1111.3 602.7 1107.1 605.6 1102.9 608.5 1098.8 611.4 1094.6 614.3 1090.5 617.3 1086.4 620.2 1082.4 623.2 1078.3 626.2 1074.3 629.2 1070.2 632.2 1066.2 635.1 1062.1 638.1 1058.1 641.0 1054.0 644.0 1049.9 646.9 1045.8 649.8 1041.7 652.7 1037.6 655.7 1033.5 658.6 1029.4 661.4 1025.3 664.3 1021.2 667.2 1017.1 670.1 1012.9 672.9 1008.8 675.8 1004.7 678.6 1000.5 681.5 996.3 684.3 992.2 687.1 988.0 689.9 983.9 692.7 979.7 695.5 975.5 698.3 971.3 701.1 967.1 703.8 962.9 706.6 958.7 709.3 954.5 712.1 950.3 714.8 946.0 717.5 941.8 720.2 937.6 722.9 933.3 725.6 929.1 728.3 924.8 731.0 920.6 733.8 916.4 736.8 912.2 740.0 908.0 743.2 903.8 746.4 899.6 749.5 895.4 752.5 891.1 755.3 886.8 757.8 882.4 759.9 877.9 761.6 873.4 762.8 868.8 763.5 864.1 764.2 859.2 764.8 854.3 765.3 849.4 765.8 844.3 766.2 839.2 766.5 834.0 766.8 828.9 767.1 823.7 767.4 818.4 767.6 813.2 767.8 808.0 768.1 802.8 768.4 797.6 768.7 792.5 769.0 787.4 769.3 782.4 769.7 777.5 770.2 772.6 770.8 767.9 771.4 763.2 772.1 758.7 773.0 754.2 774.4 749.9 776.3 745.6 778.7 741.4 781.4 737.2 784.4 733.1 787.6 728.9 790.9 724.8 794.2 720.7 797.5 716.5 800.7 712.3 803.7 708.0 806.4 703.8 809.1 699.5 811.7 695.2 814.3 690.9 816.9 686.5 819.4 682.2 822.0 677.9 824.5 673.5 827.1 669.2 829.6 664.8 832.1 660.5 834.6 656.1 837.1 651.7 839.6 647.4 842.0 643.0 844.5 638.6 846.9 634.2 849.3 629.8 851.7 625.3 854.1 620.9 856.5 616.5 858.8 612.0 861.2 607.6 863.5 603.1 865.8 598.7 868.1 594.2 870.4 589.7 872.7 585.2 874.9 580.7 877.2 576.2 879.4 571.7 881.6 567.2 883.8 562.7 886.0 558.1 888.2 553.6 890.3 549.0 892.4 544.5 894.6 539.9 896.7 535.3 898.7 530.8 900.8 526.2 902.9 521.6 904.9 517.0 906.9 512.4 909.0 507.8 910.9 503.2 912.9 498.5 914.9 493.9 916.8 489.2 918.7 484.6 920.6 479.9 922.5 475.3 924.4 470.6 926.2 465.9 928.1 461.3 929.9 456.6 931.7 451.9 933.5 447.2 935.3M447.2 935.3 447.2 930.2 447.3 925.1 447.5 920.0 447.8 915.0 448.1 910.0 448.5 905.1 448.9 900.1 449.5 895.2 450.6 890.4 452.0 885.5 453.7 880.7 455.4 875.9 457.1 871.2 458.6 866.4 460.2 861.6 461.7 856.8 463.3 852.1 465.0 847.3 466.6 842.6 468.3 837.8 470.0 833.1 471.7 828.4 473.4 823.7 475.1 818.9 476.8 814.2 478.5 809.5 480.2 804.8 481.9 800.0 483.7 795.3 485.4 790.6 487.2 785.9 489.0 781.2 490.8 776.5 492.6 771.9 494.5 767.2 496.3 762.5 498.2 757.9 500.2 753.2 502.1 748.6 504.0 744.0 506.0 739.3 507.9 734.7 509.8 730.1 511.7 725.4 513.7 720.8 515.6 716.2 517.6 711.5 519.5 706.9 521.5 702.3 523.6 697.7 525.6 693.1 527.7 688.5 529.8 684.0 531.9 679.4 534.0 674.8 536.2 670.3 538.4 665.8 540.6 661.3 542.9 656.9 545.3 652.4 547.7 648.0 550.2 643.7 552.8 639.3 555.4 635.0 558.0 630.8 560.7 626.5 563.4 622.3 566.2 618.1 568.9 613.8 571.7 609.6 574.5 605.3 577.4 601.1 580.3 597.0 583.3 592.9 586.3 589.0 589.5 585.1 592.8 581.5 596.1 578.0 599.7 574.6 603.4 571.3 607.2 568.1 611.1 565.0 615.1 561.9 619.2 558.9 623.3 556.0 627.5 553.0 631.7 550.1 635.8 547.2 640.0 544.3 644.1 541.3 648.2 538.3 652.2 535.3 656.2 532.3 660.3 529.3 664.3 526.3 668.3 523.3 672.4 520.3 676.4 517.4 680.5 514.4 684.5 511.4 688.6 508.5 692.7 505.5 696.7 502.6 700.8 499.7 704.9 496.8 709.0 493.9 713.1 490.9 717.2 488.1 721.3 485.2 725.4 482.3 729.5 479.4 733.6 476.5 737.8 473.7 741.9 470.8 746.1 468.0 750.2 465.2 754.4 462.3 758.5 459.5 762.7 456.7 766.8 453.9 771.0 451.1 775.2 448.3 779.4 445.6 783.6 442.8 787.8 440.0 792.0 437.3 796.2 434.5 800.4 431.8 804.6 429.1 808.8 426.4 813.1 423.7 817.3 421.0 821.5 418.1 825.7 415.1 829.9 411.9 834.1 408.7 838.3 405.4 842.5 402.2 846.7 399.2 850.9 396.3 855.2 393.7 859.6 391.4 863.9 389.5 868.4 388.0 873.0 387.0 877.6 386.3 882.3 385.6 887.1 385.0 891.9 384.5 896.9 384.0 901.9 383.5 906.9 383.2 912.0 382.8 917.1 382.5 922.3 382.2 927.4 381.9 932.6 381.7 937.8 381.4 943.1 381.2 948.3 381.0 953.5 380.7 958.7 380.4 963.8 380.2 969.0 379.9 974.1 379.5 979.2 379.2 984.2 378.7 989.1 378.3 994.1 377.8 998.9 377.2 1003.7 376.5 1008.3 375.8 1012.9 375.0 1017.5 373.7 1021.9 372.0 1026.3 369.8 1030.6 367.4 1034.9 364.6 1039.1 361.7 1043.3 358.6 1047.6 355.5 1051.8 352.3 1056.0 349.2 1060.3 346.2 1064.6 343.4 1068.9 340.8 1073.3 338.3 1077.7 335.9 1082.0 333.4 1086.4 331.0 1090.8 328.5 1095.2 326.1 1099.6 323.7 1104.0 321.3 1108.5 318.9 1112.9 316.5 1117.3 314.2 1121.8 311.8 1126.2 309.5 1130.7 307.2 1135.1 304.9 1139.6 302.6 1144.1 300.3 1148.5 298.0 1153.0 295.8 1157.5 293.5 1162.0 291.3 1166.5 289.1 1171.0 286.9 1175.6 284.7 1180.1 282.5 1184.6 280.4 1189.2 278.2 1193.7 276.1 1198.3 274.0 1202.8 271.9 1207.4 269.8 1212.0 267.7 1216.6 265.6 1221.1 263.6 1225.7 261.5 1230.3 259.5 1234.9 257.5 1239.6 255.5 1244.2 253.6 1248.8 251.6 1253.4 249.6 1258.0 247.6 1262.6 245.6 1267.3 243.6 1271.9 241.7 1276.6 239.8 1281.3 238.0 1285.9 236.2 1290.6 234.4 1295.4 232.8 1300.1 231.2 1304.9 229.6 1309.7 228.0 1314.5 226.5 1319.4 225.2 1324.3 224.0 1329.2 223.2 1334.1 222.4 1339.1 221.8 1344.0 221.2 1349.0 220.7 1354.1 220.3 1359.1 220.1M1359.1 220.1 1359.1 225.3 1359.0 230.3 1358.7 235.4 1358.4 240.4 1358.1 245.4 1357.7 250.4 1357.2 255.3 1356.5 260.2 1355.4 265.0 1353.8 269.8 1352.0 274.6 1350.1 279.3 1348.2 284.0 1346.4 288.8 1344.7 293.5 1342.9 298.2 1341.1 302.9 1339.3 307.6 1337.5 312.3 1335.6 316.9 1333.7 321.6 1331.8 326.3 1329.9 330.9 1328.0 335.6 1326.1 340.2 1324.2 344.9 1322.3 349.5 1320.3 354.2 1318.4 358.8 1316.5 363.5 1314.5 368.1 1312.5 372.7 1310.5 377.4 1308.5 382.0 1306.5 386.6 1304.4 391.1 1302.3 395.7 1300.2 400.3 1298.0 404.8 1295.9 409.4 1293.7 413.9 1291.6 418.5 1289.4 423.0 1287.3 427.6 1285.1 432.1 1283.0 436.7 1280.8 441.2 1278.7 445.8 1276.5 450.3 1274.3 454.8 1272.0 459.3 1269.8 463.8 1267.5 468.3 1265.2 472.7 1262.8 477.2 1260.5 481.7 1258.1 486.1 1255.7 490.5 1253.2 494.9 1250.7 499.3 1248.2 503.6 1245.6 507.9 1242.9 512.1 1240.1 516.3 1237.3 520.5 1234.5 524.7 1231.6 528.8 1228.6 532.9 1225.7 536.9 1222.7 541.0 1219.7 545.1 1216.7 549.2 1213.6 553.3 1210.5 557.3 1207.4 561.4 1204.2 565.3 1200.9 569.1 1197.6 572.8 1194.1 576.4 1190.6 579.8 1187.0 583.0 1183.2 586.2 1179.3 589.2 1175.2 592.1 1171.1 595.0 1166.9 597.8 1162.7 600.5 1158.4 603.2 1154.0 605.8 1149.6 608.5 1145.2 611.1 1140.9 613.7 1136.5 616.4 1132.2 619.0 1127.9 621.7 1123.7 624.5 1119.5 627.2 1115.3 629.9 1111.0 632.7 1106.8 635.4 1102.5 638.1 1098.3 640.8 1094.1 643.5 1089.8 646.2 1085.5 648.8 1081.3 651.5 1077.0 654.2 1072.7 656.8 1068.5 659.5 1064.2 662.1 1059.9 664.8 1055.6 667.4 1051.3 670.0 1047.0 672.6 1042.7 675.2 1038.4 677.8 1034.1 680.4 1029.8 683.0 1025.5 685.6 1021.2 688.2 1016.8 690.8 1012.5 693.3 1008.2 695.9 1003.8 698.4 999.5 700.9 995.1 703.5 990.8 706.0 986.4 708.5 982.1 711.0 977.7 713.5 973.3 716.0 969.0 718.5 964.6 721.0 960.2 723.4 955.8 725.9 951.4 728.3 947.0 730.8 942.6 733.2 938.2 735.7 933.8 738.1 929.4 740.7 925.0 743.4 920.7 746.2 916.3 749.1 912.0 752.0 907.6 754.9 903.2 757.6 898.8 760.3 894.4 762.7 889.9 765.0 885.4 767.0 880.8 768.7 876.2 770.0 871.6 770.9 866.9 771.7 862.1 772.3 857.2 772.9 852.3 773.4 847.3 773.9 842.3 774.3 837.2 774.7 832.1 775.1 827.0 775.4 821.8 775.7 816.6 776.0 811.4 776.2 806.2 776.5 801.0 776.7 795.8 777.0 790.6 777.2 785.5 777.5 780.3 777.8 775.2 778.1 770.1 778.4 765.1 778.8 760.1 779.2 755.1 779.7 750.3 780.2 745.4 780.8 740.7 781.5 736.0 782.2 731.4 783.0 726.9 784.3 722.5 786.1 718.1 788.2 713.8 790.7 709.5 793.5 705.3 796.5 701.1 799.6 696.8 802.7 692.6 805.9 688.4 809.1 684.2 812.1 679.9 815.0 675.5 817.6 671.2 820.1 666.8 822.6 662.4 825.1 658.0 827.5 653.7 830.0 649.3 832.4 644.9 834.9 640.5 837.3 636.0 839.7 631.6 842.1 627.2 844.5 622.8 846.9 618.3 849.2 613.9 851.6 609.4 853.9 604.9 856.2 600.5 858.5 596.0 860.8 591.5 863.1 587.0 865.4 582.5 867.6 578.0 869.9 573.5 872.1 569.0 874.3 564.5 876.5 559.9 878.7 555.4 880.9 550.9 883.0 546.3 885.2 541.7 887.3 537.2 889.4 532.6 891.5 528.0 893.6 523.4 895.7 518.8 897.7 514.2 899.7 509.6 901.8 505.0 903.8 500.4 905.8 495.8 907.8 491.2 909.8 486.6 911.9 481.9 913.9 477.3 915.9 472.7 917.8 468.0 919.7 463.3 921.6 458.6 923.4 453.9 925.1 449.2 926.8 444.4 928.3 439.6 929.9 434.8 931.5 430.0 932.9 425.1 934.2 420.2 935.3 415.3 936.2 410.4 936.9 405.4 937.6 400.4 938.2 395.4 938.6 390.3 939.0 385.3 939.2M385.3 939.2 385.3 934.1 385.4 929.0 385.6 923.9 385.9 918.9 386.3 913.9 386.6 908.9 387.1 904.0 387.7 899.1 388.8 894.2 390.3 889.4 392.0 884.6 393.8 879.8 395.6 875.1 397.3 870.3 398.9 865.5 400.5 860.8 402.2 856.1 403.9 851.3 405.7 846.6 407.4 841.9 409.2 837.2 411.0 832.5 412.8 827.8 414.6 823.1 416.4 818.4 418.2 813.7 420.0 809.0 421.8 804.3 423.6 799.6 425.5 794.9 427.3 790.2 429.2 785.5 431.1 780.9 433.0 776.2 434.9 771.6 436.9 767.0 438.9 762.3 440.9 757.7 442.9 753.1 444.9 748.5 447.0 743.9 449.0 739.3 451.0 734.7 453.1 730.1 455.1 725.5 457.1 720.9 459.2 716.3 461.2 711.7 463.3 707.1 465.4 702.5 467.5 698.0 469.7 693.4 471.9 688.9 474.1 684.4 476.3 679.8 478.5 675.3 480.8 670.8 483.1 666.4 485.5 661.9 487.9 657.5 490.4 653.2 492.9 648.8 495.5 644.5 498.2 640.2 500.9 636.0 503.7 631.8 506.5 627.6 509.3 623.4 512.1 619.3 515.0 615.1 517.9 610.8 520.8 606.6 523.7 602.3 526.7 598.2 529.8 594.2 532.9 590.3 536.2 586.5 539.5 583.0 543.0 579.7 546.7 576.5 550.5 573.5 554.5 570.6 558.6 567.8 562.8 565.1 567.1 562.4 571.5 559.8 575.9 557.3 580.4 554.8 584.9 552.3 589.4 549.8 593.9 547.4 598.4 544.9 602.8 542.3 607.2 539.8 611.5 537.2 615.8 534.5 620.1 531.9 624.4 529.3 628.7 526.8 633.0 524.2 637.4 521.6 641.7 519.0 646.0 516.5 650.3 513.9 654.7 511.4 659.0 508.8 663.4 506.3 667.7 503.7 672.1 501.2 676.4 498.7 680.8 496.2 685.2 493.7 689.5 491.2 693.9 488.7 698.3 486.2 702.7 483.8 707.0 481.3 711.4 478.8 715.8 476.4 720.2 473.9 724.6 471.5 729.0 469.0 733.4 466.6 737.8 464.2 742.3 461.8 746.7 459.4 751.1 457.0 755.5 454.6 760.0 452.2 764.4 449.8 768.8 447.5 773.3 445.1 777.7 442.8 782.2 440.4 786.6 438.1 791.1 435.7 795.6 433.4 800.0 431.1 804.5 428.8 809.0 426.5 813.4 424.0 817.9 421.4 822.3 418.7 826.7 416.0 831.1 413.2 835.6 410.5 840.0 407.9 844.5 405.4 849.0 403.0 853.5 400.9 858.1 399.0 862.7 397.3 867.3 396.0 872.0 395.0 876.8 394.3 881.6 393.6 886.4 393.0 891.3 392.5 896.3 392.0 901.3 391.6 906.3 391.2 911.4 390.8 916.5 390.5 921.6 390.2 926.7 389.9 931.8 389.6 937.0 389.4 942.1 389.1 947.3 388.8 952.4 388.6 957.6 388.3 962.7 388.0 967.8 387.7 972.9 387.4 978.0 387.0 983.0 386.6 988.0 386.1 993.0 385.6 997.9 385.1 1002.7 384.4 1007.5 383.8 1012.3 383.0 1017.0 381.9 1021.6 380.4 1026.2 378.6 1030.7 376.5 1035.3 374.2 1039.8 371.7 1044.2 369.2 1048.7 366.5 1053.2 363.9 1057.7 361.4 1062.2 358.9 1066.7 356.6 1071.3 354.5 1075.9 352.4 1080.5 350.3 1085.1 348.3 1089.7 346.2 1094.3 344.2 1098.9 342.2 1103.5 340.1 1108.1 338.1 1112.7 336.1 1117.3 334.1 1122.0 332.2 1126.6 330.2 1131.2 328.3 1135.9 326.3 1140.5 324.4 1145.2 322.5 1149.8 320.6 1154.5 318.7 1159.2 316.8 1163.8 314.9 1168.5 313.1 1173.2 311.2 1177.9 309.4 1182.6 307.6 1187.3 305.8 1192.0 304.0 1196.7 302.2 1201.4 300.4 1206.1 298.6 1210.8 296.9 1215.5 295.1 1220.2 293.4 1225.0 291.7 1229.7 290.0 1234.4 288.3 1239.2 286.6 1243.9 285.0 1248.7 283.3 1253.4 281.7 1258.2 280.0 1263.0 278.4 1267.7 276.8 1272.5 275.2 1277.3 273.6 1282.1 272.1 1286.9 270.5 1291.7 269.0 1296.5 267.5 1301.2 266.0 1306.1 264.5 1310.9 263.0 1315.7 261.5 1320.5 260.0 1325.3 258.6 1330.1 257.2 1335.0 255.7 1339.8 254.3 1344.6 252.9 1349.5 251.6 1354.3 250.2 1359.1 248.8M1359.1 248.8 1359.1 254.0 1358.9 259.1 1358.7 264.1 1358.3 269.1 1357.9 274.1 1357.5 279.0 1356.9 283.9 1355.8 288.7 1354.3 293.5 1352.5 298.2 1350.4 302.9 1348.4 307.6 1346.5 312.3 1344.7 317.0 1342.9 321.6 1341.0 326.3 1339.1 330.9 1337.1 335.5 1335.1 340.2 1333.1 344.8 1331.1 349.4 1329.1 354.0 1327.1 358.6 1325.1 363.2 1323.1 367.8 1321.0 372.4 1319.0 377.0 1317.0 381.6 1314.9 386.2 1312.8 390.7 1310.7 395.3 1308.6 399.8 1306.4 404.4 1304.2 408.9 1302.0 413.4 1299.7 417.9 1297.5 422.4 1295.2 426.9 1292.9 431.4 1290.7 435.8 1288.4 440.3 1286.2 444.8 1283.9 449.3 1281.6 453.8 1279.4 458.3 1277.0 462.7 1274.7 467.2 1272.3 471.6 1269.9 476.0 1267.5 480.4 1265.1 484.8 1262.6 489.2 1260.2 493.6 1257.6 497.9 1255.0 502.3 1252.4 506.5 1249.7 510.8 1247.0 514.9 1244.2 519.1 1241.3 523.2 1238.3 527.3 1235.3 531.3 1232.3 535.3 1229.2 539.3 1226.1 543.3 1223.0 547.2 1219.8 551.2 1216.7 555.2 1213.4 559.2 1210.2 563.1 1206.9 566.9 1203.5 570.6 1200.0 574.2 1196.5 577.6 1192.8 580.8 1189.0 584.0 1185.1 587.0 1181.1 589.9 1177.0 592.7 1172.8 595.5 1168.6 598.2 1164.3 600.8 1159.9 603.4 1155.5 606.0 1151.1 608.5 1146.7 611.1 1142.3 613.6 1137.9 616.2 1133.6 618.8 1129.3 621.5 1125.0 624.1 1120.8 626.8 1116.5 629.4 1112.2 632.1 1107.9 634.7 1103.6 637.3 1099.4 639.9 1095.1 642.6 1090.8 645.2 1086.5 647.8 1082.2 650.4 1077.9 652.9 1073.6 655.5 1069.2 658.1 1064.9 660.7 1060.6 663.2 1056.3 665.8 1051.9 668.3 1047.6 670.9 1043.3 673.4 1038.9 675.9 1034.6 678.4 1030.2 680.9 1025.9 683.4 1021.5 685.9 1017.1 688.4 1012.8 690.9 1008.4 693.4 1004.0 695.8 999.6 698.3 995.3 700.8 990.9 703.2 986.5 705.6 982.1 708.1 977.7 710.5 973.3 712.9 968.9 715.3 964.4 717.7 960.0 720.1 955.6 722.5 951.2 724.9 946.7 727.2 942.3 729.6 937.9 731.9 933.4 734.3 929.0 736.9 924.6 739.6 920.2 742.3 915.8 745.1 911.4 747.9 907.0 750.6 902.6 753.3 898.1 755.8 893.7 758.2 889.2 760.3 884.6 762.2 880.0 763.7 875.4 765.0 870.7 765.8 866.0 766.6 861.2 767.2 856.3 767.8 851.4 768.3 846.4 768.8 841.4 769.2 836.4 769.6 831.3 769.9 826.2 770.2 821.0 770.5 815.9 770.8 810.7 771.1 805.6 771.3 800.4 771.6 795.2 771.8 790.1 772.1 784.9 772.3 779.8 772.6 774.7 773.0 769.6 773.3 764.6 773.7 759.6 774.1 754.6 774.6 749.7 775.1 744.9 775.7 740.1 776.3 735.4 777.1 730.7 777.9 726.1 779.2 721.6 780.9 717.1 783.0 712.7 785.3 708.3 787.8 703.9 790.6 699.5 793.4 695.2 796.3 690.8 799.1 686.4 801.9 682.0 804.6 677.6 807.1 673.1 809.4 668.7 811.7 664.2 814.0 659.7 816.2 655.2 818.5 650.7 820.7 646.2 822.9 641.7 825.1 637.1 827.3 632.6 829.5 628.1 831.7 623.6 833.9 619.0 836.0 614.5 838.1 609.9 840.3 605.4 842.4 600.8 844.5 596.2 846.6 591.7 848.7 587.1 850.7 582.5 852.8 577.9 854.8 573.3 856.9 568.7 858.9 564.1 860.9 559.5 862.9 554.9 864.9 550.2 866.8 545.6 868.8 541.0 870.7 536.3 872.7 531.7 874.6 527.1 876.5 522.4 878.4 517.7 880.3 513.1 882.1 508.4 884.0 503.7 885.8 499.1 887.6 494.4 889.5 489.7 891.3 485.0 893.0 480.3 894.8 475.6 896.6 470.9 898.3 466.2 900.1 461.4 901.8 456.7 903.5 452.0 905.2 447.2 906.9 442.5 908.5 437.8 910.2 433.0 911.8 428.3 913.4 423.5 915.0 418.7 916.6 414.0 918.2 409.2 919.8 404.4 921.4 399.6 922.9 394.8 924.4 390.0 925.9 385.3 927.4M385.3 927.4 385.3 922.3 385.4 917.2 385.7 912.2 385.9 907.1 386.3 902.2 386.7 897.2 387.1 892.3 387.9 887.4 389.2 882.6 390.7 877.8 392.5 873.0 394.3 868.2 396.1 863.5 397.7 858.7 399.4 853.9 401.1 849.2 402.8 844.5 404.5 839.8 406.3 835.1 408.1 830.4 409.9 825.7 411.7 821.0 413.6 816.3 415.4 811.6 417.2 806.9 419.0 802.2 420.9 797.5 422.7 792.8 424.5 788.2 426.4 783.5 428.3 778.8 430.2 774.2 432.1 769.5 434.1 764.9 436.1 760.3 438.1 755.7 440.1 751.1 442.2 746.5 444.2 741.9 446.3 737.3 448.4 732.7 450.4 728.1 452.5 723.5 454.5 718.9 456.6 714.3 458.6 709.7 460.7 705.2 462.8 700.6 465.0 696.1 467.1 691.5 469.3 687.0 471.5 682.5 473.8 678.0 476.0 673.4 478.3 669.0 480.6 664.5 483.0 660.1 485.4 655.7 487.9 651.3 490.5 647.0 493.1 642.7 495.8 638.4 498.5 634.2 501.3 630.0 504.2 625.9 507.0 621.7 509.9 617.6 512.8 613.4 515.7 609.1 518.6 604.9 521.6 600.7 524.6 596.6 527.7 592.6 530.9 588.8 534.2 585.1 537.7 581.7 541.3 578.5 545.0 575.5 548.9 572.6 553.0 569.8 557.2 567.1 561.5 564.5 565.8 561.9 570.3 559.4 574.8 557.0 579.3 554.6 583.9 552.2 588.5 549.8 593.0 547.4 597.5 544.9 601.9 542.5 606.3 539.9 610.7 537.4 615.0 534.9 619.4 532.3 623.7 529.8 628.1 527.3 632.4 524.8 636.8 522.3 641.2 519.8 645.5 517.3 649.9 514.8 654.3 512.4 658.7 509.9 663.0 507.4 667.4 505.0 671.8 502.5 676.2 500.1 680.6 497.7 685.0 495.2 689.4 492.8 693.9 490.4 698.3 488.0 702.7 485.6 707.1 483.2 711.5 480.8 716.0 478.4 720.4 476.0 724.8 473.7 729.3 471.3 733.7 469.0 738.2 466.6 742.6 464.3 747.1 462.0 751.6 459.6 756.0 457.3 760.5 455.0 765.0 452.7 769.4 450.4 773.9 448.1 778.4 445.8 782.9 443.6 787.4 441.3 791.9 439.0 796.4 436.8 800.9 434.5 805.4 432.3 809.9 430.0 814.4 427.6 818.8 425.0 823.3 422.4 827.8 419.7 832.2 417.1 836.7 414.5 841.2 412.0 845.7 409.6 850.2 407.4 854.8 405.4 859.4 403.6 864.0 402.1 868.7 400.9 873.4 400.0 878.2 399.3 883.0 398.7 887.9 398.1 892.8 397.6 897.8 397.1 902.8 396.7 907.8 396.3 912.9 395.9 918.0 395.6 923.1 395.3 928.2 395.0 933.3 394.7 938.5 394.5 943.6 394.2 948.7 394.0 953.9 393.7 959.0 393.4 964.1 393.1 969.2 392.8 974.3 392.5 979.3 392.1 984.4 391.7 989.4 391.2 994.3 390.7 999.2 390.1 1004.1 389.5 1008.9 388.8 1013.7 387.9 1018.4 386.7 1023.1 385.2 1027.7 383.4 1032.3 381.4 1036.9 379.2 1041.4 376.9 1046.0 374.5 1050.5 372.0 1055.1 369.6 1059.7 367.3 1064.2 365.0 1068.9 363.0 1073.5 361.0 1078.1 359.1 1082.8 357.2 1087.4 355.2 1092.1 353.3 1096.7 351.4 1101.4 349.5 1106.1 347.7 1110.7 345.8 1115.4 343.9 1120.1 342.1 1124.8 340.3 1129.5 338.4 1134.2 336.6 1138.9 334.8 1143.6 333.0 1148.3 331.3 1153.0 329.5 1157.7 327.7 1162.4 326.0 1167.1 324.2 1171.8 322.5 1176.6 320.8 1181.3 319.1 1186.0 317.4 1190.8 315.7 1195.5 314.1 1200.3 312.4 1205.0 310.8 1209.8 309.1 1214.6 307.5 1219.3 305.9 1224.1 304.3 1228.9 302.7 1233.6 301.2 1238.4 299.6 1243.2 298.0 1248.0 296.5 1252.8 295.0 1257.6 293.5 1262.4 292.0 1267.2 290.5 1272.0 289.0 1276.8 287.5 1281.6 286.1 1286.4 284.6 1291.3 283.2 1296.1 281.8 1300.9 280.4 1305.8 279.0 1310.6 277.6 1315.4 276.2 1320.3 274.9 1325.1 273.6 1330.0 272.2 1334.8 270.9 1339.7 269.6 1344.5 268.3 1349.4 267.0 1354.3 265.7 1359.1 264.5M1359.1 264.5 1359.1 269.6 1358.9 274.8 1358.6 279.8 1358.3 284.8 1357.8 289.8 1357.3 294.7 1356.6 299.6 1355.3 304.4 1353.6 309.1 1351.6 313.8 1349.5 318.5 1347.5 323.2 1345.6 327.9 1343.7 332.6 1341.8 337.2 1339.8 341.9 1337.8 346.5 1335.8 351.1 1333.8 355.7 1331.7 360.3 1329.6 364.9 1327.5 369.5 1325.5 374.1 1323.4 378.7 1321.3 383.3 1319.2 387.9 1317.1 392.5 1315.0 397.0 1312.9 401.6 1310.7 406.1 1308.5 410.7 1306.2 415.2 1304.0 419.7 1301.7 424.2 1299.4 428.6 1297.0 433.1 1294.7 437.6 1292.4 442.1 1290.1 446.5 1287.8 451.0 1285.4 455.5 1283.1 460.0 1280.8 464.4 1278.4 468.9 1276.0 473.3 1273.6 477.7 1271.1 482.1 1268.6 486.5 1266.1 490.9 1263.6 495.3 1261.0 499.6 1258.4 503.9 1255.8 508.2 1253.0 512.4 1250.3 516.6 1247.4 520.7 1244.4 524.8 1241.5 528.9 1238.4 532.9 1235.3 536.9 1232.2 540.8 1229.0 544.8 1225.8 548.7 1222.6 552.7 1219.4 556.6 1216.1 560.6 1212.8 564.4 1209.4 568.2 1205.9 571.8 1202.4 575.3 1198.7 578.7 1195.0 581.8 1191.1 584.8 1187.1 587.8 1183.0 590.6 1178.8 593.3 1174.5 596.0 1170.2 598.6 1165.8 601.1 1161.4 603.7 1156.9 606.2 1152.4 608.6 1148.0 611.1 1143.5 613.6 1139.1 616.1 1134.7 618.7 1130.4 621.3 1126.1 623.9 1121.7 626.4 1117.4 629.0 1113.1 631.6 1108.7 634.2 1104.4 636.7 1100.0 639.3 1095.7 641.8 1091.3 644.4 1087.0 646.9 1082.6 649.4 1078.3 651.9 1073.9 654.4 1069.5 656.9 1065.1 659.4 1060.7 661.9 1056.4 664.4 1052.0 666.9 1047.6 669.4 1043.2 671.8 1038.8 674.3 1034.4 676.7 1030.0 679.2 1025.6 681.6 1021.1 684.0 1016.7 686.4 1012.3 688.9 1007.9 691.3 1003.4 693.7 999.0 696.0 994.6 698.4 990.1 700.8 985.7 703.2 981.2 705.5 976.8 707.9 972.3 710.2 967.8 712.6 963.4 714.9 958.9 717.2 954.4 719.6 949.9 721.9 945.4 724.2 941.0 726.5 936.5 728.7 932.0 731.1 927.5 733.7 923.1 736.3 918.6 739.0 914.2 741.7 909.7 744.4 905.2 747.0 900.8 749.5 896.3 751.9 891.7 754.1 887.2 756.1 882.6 757.8 877.9 759.2 873.2 760.2 868.5 761.0 863.7 761.6 858.8 762.3 853.9 762.8 848.9 763.3 843.9 763.8 838.8 764.2 833.8 764.5 828.6 764.8 823.5 765.2 818.4 765.4 813.2 765.7 808.0 766.0 802.9 766.2 797.7 766.5 792.5 766.7 787.4 767.0 782.2 767.3 777.1 767.6 772.0 767.9 766.9 768.3 761.9 768.7 756.9 769.1 752.0 769.6 747.1 770.2 742.2 770.8 737.5 771.5 732.7 772.3 728.1 773.4 723.5 774.9 719.0 776.8 714.5 779.0 710.1 781.4 705.6 784.0 701.2 786.8 696.9 789.6 692.5 792.5 688.1 795.3 683.6 798.0 679.2 800.5 674.7 802.9 670.2 805.1 665.7 807.4 661.2 809.6 656.6 811.8 652.1 814.0 647.6 816.2 643.0 818.4 638.5 820.6 633.9 822.8 629.4 824.9 624.8 827.1 620.2 829.2 615.7 831.3 611.1 833.4 606.5 835.5 601.9 837.6 597.3 839.7 592.7 841.7 588.1 843.8 583.5 845.8 578.9 847.8 574.3 849.8 569.6 851.8 565.0 853.8 560.4 855.8 555.7 857.7 551.1 859.7 546.4 861.6 541.8 863.6 537.1 865.5 532.4 867.4 527.8 869.3 523.1 871.1 518.4 873.0 513.7 874.8 509.0 876.7 504.3 878.5 499.6 880.3 494.9 882.1 490.2 883.9 485.5 885.6 480.7 887.4 476.0 889.1 471.3 890.9 466.5 892.6 461.8 894.3 457.1 896.0 452.3 897.6 447.5 899.3 442.8 900.9 438.0 902.6 433.2 904.2 428.5 905.8 423.7 907.4 418.9 909.0 414.1 910.5 409.3 912.1 404.5 913.6 399.7 915.1 394.9 916.6 390.1 918.1 385.3 919.6M385.3 919.6 385.3 914.5 385.4 909.4 385.7 904.3 386.0 899.3 386.3 894.3 386.7 889.4 387.2 884.5 388.1 879.6 389.4 874.8 391.0 870.0 392.8 865.2 394.6 860.5 396.4 855.7 398.0 850.9 399.7 846.2 401.4 841.5 403.1 836.8 404.9 832.0 406.6 827.3 408.4 822.6 410.3 818.0 412.1 813.3 413.9 808.6 415.7 803.9 417.6 799.2 419.4 794.5 421.2 789.8 423.1 785.2 424.9 780.5 426.8 775.8 428.7 771.2 430.6 766.5 432.6 761.9 434.6 757.3 436.6 752.7 438.6 748.1 440.7 743.5 442.7 738.9 444.8 734.3 446.9 729.7 448.9 725.1 451.0 720.5 453.0 716.0 455.1 711.4 457.2 706.8 459.2 702.2 461.4 697.6 463.5 693.1 465.7 688.6 467.9 684.1 470.1 679.5 472.3 675.0 474.6 670.5 476.9 666.0 479.2 661.6 481.6 657.2 484.1 652.8 486.6 648.5 489.2 644.1 491.8 639.9 494.5 635.6 497.3 631.4 500.1 627.2 502.9 623.1 505.8 619.0 508.7 614.8 511.6 610.6 514.5 606.3 517.5 602.1 520.5 598.0 523.6 594.0 526.7 590.1 530.0 586.3 533.4 582.8 536.9 579.5 540.6 576.4 544.4 573.4 548.4 570.6 552.5 567.8 556.8 565.1 561.1 562.5 565.5 560.0 569.9 557.5 574.4 555.0 579.0 552.6 583.5 550.1 588.0 547.7 592.5 545.2 597.0 542.8 601.4 540.2 605.7 537.7 610.0 535.1 614.3 532.5 618.6 530.0 623.0 527.4 627.3 524.9 631.7 522.3 636.0 519.8 640.3 517.3 644.7 514.7 649.0 512.2 653.4 509.7 657.8 507.2 662.1 504.7 666.5 502.2 670.9 499.7 675.2 497.3 679.6 494.8 684.0 492.3 688.4 489.9 692.8 487.4 697.2 485.0 701.6 482.6 706.0 480.1 710.4 477.7 714.8 475.3 719.2 472.9 723.6 470.5 728.1 468.1 732.5 465.7 736.9 463.3 741.3 461.0 745.8 458.6 750.2 456.2 754.7 453.9 759.1 451.5 763.6 449.2 768.0 446.9 772.5 444.5 776.9 442.2 781.4 439.9 785.9 437.6 790.4 435.3 794.8 433.0 799.3 430.8 803.8 428.5 808.3 426.2 812.8 423.7 817.2 421.2 821.7 418.5 826.1 415.8 830.6 413.2 835.0 410.5 839.5 407.9 844.0 405.5 848.5 403.2 853.0 401.0 857.6 399.1 862.2 397.5 866.8 396.1 871.5 395.1 876.2 394.3 881.0 393.6 885.8 393.0 890.7 392.4 895.6 391.8 900.5 391.3 905.4 390.9 910.4 390.4 915.4 390.0 920.5 389.7 925.5 389.3 930.6 389.0 935.7 388.7 940.8 388.4 945.9 388.2 951.0 387.9 956.1 387.6 961.2 387.4 966.4 387.1 971.5 386.9 976.6 386.6 981.8 386.4 986.9 386.1 992.0 385.8 997.1 385.4 1002.2 385.1 1007.2 384.7 1012.3 384.3 1017.3 383.9 1022.3 383.4 1027.3 382.8 1032.2 382.3 1037.1 381.7 1042.0 381.0 1046.8 380.3 1051.7 379.4 1056.4 378.2 1061.1 376.7 1065.8 375.0 1070.5 373.1 1075.2 371.1 1079.8 368.9 1084.5 366.8 1089.1 364.6 1093.8 362.5 1098.4 360.5 1103.1 358.6 1107.8 356.9 1112.6 355.1 1117.3 353.4 1122.0 351.7 1126.7 350.0 1131.5 348.3 1136.2 346.6 1140.9 344.9 1145.7 343.2 1150.4 341.6 1155.2 339.9 1159.9 338.3 1164.7 336.7 1169.4 335.0 1174.2 333.4 1179.0 331.8 1183.7 330.2 1188.5 328.7 1193.3 327.1 1198.1 325.6 1202.9 324.0 1207.7 322.5 1212.4 321.0 1217.2 319.5 1222.0 318.0 1226.8 316.5 1231.7 315.0 1236.5 313.5 1241.3 312.1 1246.1 310.6 1250.9 309.2 1255.7 307.8 1260.6 306.4 1265.4 305.0 1270.2 303.6 1275.1 302.2 1279.9 300.9 1284.7 299.5 1289.6 298.2 1294.4 296.8 1299.3 295.5 1304.2 294.2 1309.0 292.9 1313.9 291.6 1318.7 290.4 1323.6 289.1 1328.5 287.9 1333.3 286.6 1338.2 285.4 1343.1 284.2 1348.0 283.0 1352.9 281.8 1357.8 280.6 1362.7 279.5 1367.5 278.3 1372.4 277.2 1377.3 276.0 1382.2 274.9M1382.2 274.9 1382.2 280.0 1382.2 285.0 1382.1 290.0 1382.1 295.0 1382.0 300.1 1381.9 305.1 1381.9 310.1 1381.8 315.1 1381.8 320.1 1381.7 325.2 1381.7 330.2 1381.6 335.2 1381.6 340.3 1381.5 345.3 1381.4 350.3 1381.3 355.3 1381.2 360.4 1380.9 365.5 1380.4 370.5 1379.9 375.5 1379.1 380.2 1377.4 384.9 1375.1 389.4 1372.4 393.8 1369.9 398.3 1367.6 402.7 1365.2 407.1 1362.7 411.5 1360.2 415.9 1357.6 420.2 1355.0 424.5 1352.5 428.8 1349.9 433.1 1347.3 437.4 1344.7 441.7 1342.1 446.0 1339.4 450.3 1336.8 454.6 1334.1 458.8 1331.3 463.0 1328.5 467.2 1325.7 471.3 1322.8 475.4 1319.9 479.6 1317.1 483.7 1314.2 487.9 1311.4 492.0 1308.5 496.1 1305.6 500.2 1302.7 504.3 1299.7 508.4 1296.7 512.4 1293.7 516.4 1290.6 520.4 1287.5 524.3 1284.3 528.2 1281.1 532.0 1277.7 535.8 1274.3 539.5 1270.8 543.1 1267.2 546.6 1263.6 550.1 1260.0 553.5 1256.3 556.9 1252.5 560.3 1248.7 563.7 1244.9 567.0 1241.1 570.2 1237.1 573.4 1233.2 576.4 1229.2 579.4 1225.1 582.3 1221.0 585.1 1216.8 587.8 1212.6 590.5 1208.3 593.1 1204.0 595.7 1199.6 598.2 1195.3 600.7 1190.9 603.2 1186.4 605.6 1182.0 608.1 1177.6 610.5 1173.2 612.9 1168.8 615.4 1164.4 617.8 1160.0 620.3 1155.6 622.8 1151.2 625.3 1146.9 627.8 1142.5 630.2 1138.1 632.7 1133.7 635.2 1129.4 637.6 1125.0 640.1 1120.6 642.5 1116.2 645.0 1111.8 647.4 1107.4 649.9 1103.0 652.3 1098.6 654.7 1094.2 657.1 1089.8 659.5 1085.4 661.9 1081.0 664.3 1076.5 666.7 1072.1 669.1 1067.7 671.5 1063.3 673.8 1058.8 676.2 1054.4 678.6 1049.9 680.9 1045.5 683.2 1041.1 685.6 1036.6 687.9 1032.1 690.2 1027.7 692.6 1023.2 694.9 1018.8 697.2 1014.3 699.5 1009.8 701.8 1005.3 704.0 1000.9 706.3 996.4 708.6 991.9 710.9 987.4 713.1 982.9 715.4 978.4 717.6 973.9 719.9 969.4 722.1 964.9 724.3 960.4 726.5 955.9 728.7 951.4 730.9 946.9 733.1 942.3 735.3 937.8 737.6 933.3 740.0 928.8 742.5 924.4 745.1 919.9 747.7 915.4 750.3 910.9 752.8 906.4 755.3 901.9 757.6 897.3 759.9 892.8 761.9 888.2 763.8 883.5 765.4 878.9 766.8 874.2 767.9 869.4 768.7 864.7 769.4 859.8 770.0 855.0 770.6 850.1 771.2 845.2 771.7 840.2 772.2 835.2 772.6 830.2 773.0 825.2 773.4 820.2 773.8 815.1 774.1 810.0 774.4 804.9 774.7 799.8 774.9 794.7 775.2 789.6 775.5 784.5 775.7 779.4 776.0 774.2 776.2 769.1 776.5 764.0 776.8 758.9 777.1 753.8 777.4 748.7 777.7 743.6 778.0 738.6 778.4 733.5 778.8 728.5 779.2 723.5 779.7 718.6 780.2 713.6 780.8 708.7 781.4 703.8 782.0 699.0 782.7 694.2 783.5 689.4 784.6 684.7 786.0 680.0 787.6 675.3 789.4 670.7 791.3 666.0 793.4 661.4 795.6 656.8 797.8 652.2 800.0 647.5 802.2 642.9 804.3 638.2 806.3 633.5 808.2 628.8 810.0 624.1 811.7 619.4 813.5 614.7 815.3 610.0 817.0 605.3 818.7 600.6 820.5 595.9 822.2 591.1 823.9 586.4 825.6 581.7 827.3 576.9 828.9 572.2 830.6 567.4 832.2 562.7 833.9 557.9 835.5 553.2 837.1 548.4 838.8 543.7 840.4 538.9 842.0 534.1 843.5 529.4 845.1 524.6 846.7 519.8 848.2 515.0 849.7 510.2 851.3 505.4 852.8 500.6 854.3 495.9 855.8 491.1 857.3 486.2 858.7 481.4 860.2 476.6 861.7 471.8 863.1 467.0 864.5 462.2 866.0 457.4 867.4 452.5 868.8 447.7 870.1 442.9 871.5 438.0 872.9 433.2 874.2 428.3 875.5 423.5 876.8 418.6 878.1 413.8 879.4 408.9 880.7 404.1 882.0 399.2 883.3 394.3 884.6 389.5 885.8 384.6 887.1 379.8 888.5 375.0 890.0 370.1 891.5 365.3 892.9 360.4 894.1 355.5 895.2 350.6 895.9 345.7 896.6 340.7 897.2 335.7 897.8 330.7 898.2 325.6 898.5 320.6 898.7M320.6 898.7 320.6 893.6 320.8 888.5 321.1 883.4 321.5 878.4 321.9 873.5 322.4 868.6 323.1 863.8 324.4 859.0 326.2 854.3 328.3 849.6 330.5 845.0 332.6 840.3 334.5 835.7 336.5 831.1 338.5 826.5 340.5 821.9 342.6 817.3 344.7 812.7 346.8 808.2 348.9 803.6 351.1 799.1 353.2 794.5 355.4 790.0 357.5 785.4 359.7 780.9 361.8 776.4 364.0 771.8 366.2 767.3 368.4 762.8 370.7 758.3 372.9 753.9 375.2 749.4 377.6 744.9 379.9 740.5 382.3 736.1 384.7 731.7 387.1 727.3 389.5 722.8 391.9 718.4 394.3 714.0 396.7 709.6 399.1 705.2 401.5 700.8 404.0 696.4 406.4 692.0 408.9 687.6 411.4 683.3 414.0 679.0 416.5 674.7 419.1 670.3 421.7 666.0 424.4 661.8 427.1 657.5 429.8 653.3 432.6 649.2 435.5 645.1 438.4 641.0 441.4 637.0 444.5 633.0 447.6 629.0 450.8 625.1 454.0 621.3 457.3 617.4 460.5 613.6 463.8 609.7 467.1 605.8 470.4 601.9 473.8 598.1 477.2 594.4 480.7 590.8 484.3 587.3 488.0 584.0 491.7 580.9 495.6 577.9 499.6 575.1 503.7 572.3 507.9 569.7 512.1 567.1 516.5 564.6 520.9 562.2 525.3 559.8 529.9 557.5 534.4 555.2 539.0 552.9 543.5 550.6 548.1 548.4 552.7 546.1 557.2 543.8 561.7 541.5 566.2 539.1 570.6 536.7 575.0 534.3 579.4 531.9 583.8 529.6 588.3 527.2 592.7 524.8 597.1 522.4 601.6 520.1 606.0 517.7 610.4 515.4 614.9 513.0 619.3 510.7 623.8 508.4 628.2 506.0 632.7 503.7 637.1 501.4 641.6 499.1 646.1 496.8 650.5 494.5 655.0 492.2 659.5 489.9 663.9 487.6 668.4 485.4 672.9 483.1 677.4 480.8 681.9 478.6 686.4 476.3 690.9 474.1 695.4 471.9 699.9 469.6 704.4 467.4 708.9 465.2 713.4 463.0 717.9 460.8 722.4 458.6 726.9 456.4 731.4 454.2 736.0 452.0 740.5 449.8 745.0 447.6 749.6 445.5 754.1 443.3 758.6 441.2 763.2 439.0 767.7 436.9 772.3 434.7 776.8 432.6 781.4 430.5 785.9 428.4 790.5 426.3 795.0 424.2 799.6 422.0 804.1 419.8 808.7 417.4 813.2 415.0 817.7 412.6 822.3 410.1 826.8 407.6 831.3 405.2 835.9 402.9 840.5 400.6 845.0 398.5 849.6 396.5 854.3 394.6 858.9 393.0 863.6 391.6 868.3 390.5 873.1 389.6 877.8 388.9 882.7 388.2 887.5 387.6 892.4 387.0 897.3 386.5 902.3 386.0 907.3 385.6 912.3 385.2 917.3 384.8 922.3 384.4 927.4 384.1 932.4 383.8 937.5 383.5 942.6 383.2 947.7 382.9 952.8 382.7 957.9 382.4 963.0 382.2 968.2 381.9 973.3 381.6 978.4 381.4 983.5 381.1 988.6 380.8 993.7 380.5 998.7 380.1 1003.8 379.8 1008.8 379.4 1013.8 378.9 1018.8 378.5 1023.8 378.0 1028.7 377.5 1033.7 376.9 1038.6 376.2 1043.4 375.6 1048.2 374.8 1053.0 373.9 1057.8 372.6 1062.5 371.1 1067.2 369.4 1071.8 367.5 1076.5 365.5 1081.1 363.4 1085.7 361.2 1090.4 359.0 1095.0 356.9 1099.7 354.7 1104.3 352.7 1109.0 350.8 1113.7 349.1 1118.4 347.3 1123.1 345.6 1127.8 343.8 1132.5 342.1 1137.3 340.4 1142.0 338.7 1146.7 337.0 1151.4 335.3 1156.2 333.6 1160.9 331.9 1165.7 330.3 1170.4 328.6 1175.1 327.0 1179.9 325.4 1184.6 323.7 1189.4 322.1 1194.2 320.5 1198.9 318.9 1203.7 317.4 1208.5 315.8 1213.3 314.2 1218.0 312.7 1222.8 311.2 1227.6 309.6 1232.4 308.1 1237.2 306.6 1242.0 305.1 1246.8 303.7 1251.6 302.2 1256.4 300.7 1261.2 299.3 1266.0 297.8 1270.8 296.4 1275.6 295.0 1280.5 293.6 1285.3 292.2 1290.1 290.8 1295.0 289.4 1299.8 288.1 1304.6 286.7 1309.5 285.4 1314.3 284.1 1319.2 282.8 1324.0 281.6 1328.9 280.3 1333.8 279.0 1338.6 277.8 1343.5 276.5 1348.3 275.2 1353.2 273.9 1358.0 272.6 1362.9 271.3 1367.7 269.8 1372.5 268.2 1377.4 266.8 1382.2 265.4 1387.1 264.3 1392.0 263.5 1396.9 262.8 1401.9 262.1 1406.9 261.6 1411.9 261.1 1416.9 260.8 1422.0 260.6M1422.0 260.6 1421.9 265.8 1421.7 270.9 1421.4 276.0 1421.0 281.0 1420.6 286.0 1420.0 290.9 1419.3 295.8 1418.0 300.6 1416.1 305.3 1414.0 310.0 1411.8 314.7 1409.6 319.3 1407.6 324.0 1405.6 328.6 1403.6 333.2 1401.5 337.8 1399.3 342.4 1397.2 347.0 1395.0 351.6 1392.8 356.1 1390.6 360.7 1388.4 365.3 1386.2 369.8 1384.0 374.4 1381.8 378.9 1379.6 383.5 1377.3 388.0 1375.1 392.6 1372.8 397.1 1370.5 401.6 1368.2 406.1 1365.8 410.5 1363.4 415.0 1361.0 419.4 1358.6 423.9 1356.1 428.3 1353.7 432.7 1351.2 437.1 1348.7 441.6 1346.3 446.0 1343.8 450.4 1341.4 454.8 1338.9 459.2 1336.4 463.7 1333.9 468.0 1331.3 472.4 1328.8 476.8 1326.1 481.1 1323.5 485.4 1320.9 489.7 1318.2 494.1 1315.5 498.3 1312.7 502.6 1309.9 506.8 1307.1 510.9 1304.1 515.1 1301.1 519.1 1298.1 523.1 1294.9 527.1 1291.7 531.1 1288.5 535.0 1285.2 538.8 1281.9 542.7 1278.6 546.5 1275.3 550.4 1271.9 554.2 1268.5 558.1 1265.1 561.9 1261.6 565.6 1258.0 569.2 1254.4 572.7 1250.7 576.1 1246.9 579.2 1243.0 582.2 1239.0 585.1 1234.8 587.8 1230.6 590.5 1226.3 593.1 1221.9 595.6 1217.5 598.1 1213.0 600.5 1208.5 602.8 1203.9 605.2 1199.3 607.5 1194.8 609.8 1190.2 612.1 1185.6 614.4 1181.0 616.7 1176.5 619.1 1172.0 621.5 1167.6 623.9 1163.1 626.3 1158.7 628.7 1154.2 631.1 1149.8 633.5 1145.3 635.9 1140.9 638.3 1136.4 640.7 1131.9 643.0 1127.5 645.4 1123.0 647.8 1118.5 650.1 1114.0 652.5 1109.5 654.8 1105.1 657.2 1100.6 659.5 1096.1 661.8 1091.6 664.2 1087.1 666.5 1082.6 668.8 1078.1 671.1 1073.6 673.4 1069.1 675.7 1064.5 678.0 1060.0 680.2 1055.5 682.5 1051.0 684.8 1046.5 687.0 1041.9 689.3 1037.4 691.6 1032.9 693.8 1028.3 696.0 1023.8 698.3 1019.2 700.5 1014.7 702.7 1010.1 704.9 1005.6 707.1 1001.0 709.3 996.5 711.5 991.9 713.7 987.3 715.9 982.8 718.0 978.2 720.2 973.6 722.4 969.0 724.5 964.5 726.7 959.9 728.8 955.3 730.9 950.7 733.1 946.1 735.2 941.5 737.3 936.9 739.4 932.3 741.5 927.7 743.6 923.1 745.7 918.5 747.8 913.9 749.8 909.3 751.9 904.6 754.0 900.0 756.0 895.4 758.1 890.7 760.1 886.1 762.2 881.5 764.2 876.8 766.2 872.2 768.2" stroke="#747474" stroke-width="3.9" stroke-dasharray="19 22.5"/>
<path d="M872.2 580.3 872.5 575.2 872.8 570.2 873.1 565.1 873.4 560.0 873.7 554.9 874.0 549.9 874.3 544.8 874.6 539.7 874.9 534.6 875.2 529.6 875.5 524.5 875.8 519.4 876.1 514.3 876.4 509.3 876.7 504.2 877.0 499.1 877.3 494.0 877.6 489.0 877.9 483.9 878.1 478.8 878.4 473.7 878.7 468.6 879.0 463.6 879.3 458.5 879.5 453.4 879.8 448.3 880.1 443.3 880.4 438.2 880.7 433.1 881.0 428.0 881.4 423.0 881.7 417.9 882.0 412.8 882.4 407.8 882.7 402.7 883.1 397.6 883.5 392.6 883.9 387.5 884.3 382.4 884.7 377.3 885.1 372.3 885.6 367.2 886.0 362.1 886.5 357.1 887.0 352.0 887.5 347.0 888.0 341.9 888.6 336.9 889.1 331.8 889.8 326.8 890.4 321.7 891.1 316.7 891.8 311.6 892.5 306.6 893.2 301.6 894.0 296.6 894.7 291.5 895.5 286.5 896.3 281.5 897.1 276.5 898.0 271.4 898.9 266.4 899.8 261.5 900.9 256.5 901.9 251.5 903.1 246.5 904.3 241.6 905.7 236.7 907.3 231.9 909.2 227.2M909.2 227.2 908.9 232.2 908.6 237.3 908.4 242.3 908.1 247.4 907.8 252.4 907.5 257.4 907.2 262.5 906.9 267.5 906.5 272.6 906.2 277.6 905.8 282.7 905.5 287.7 905.1 292.7 904.7 297.8 904.3 302.8 903.9 307.8 903.4 312.9 903.0 317.9 902.5 322.9 902.1 328.0 901.6 333.0 901.1 338.0 900.6 343.1 900.1 348.1 899.6 353.1 899.2 358.1 898.7 363.2 898.2 368.2 897.7 373.2 897.2 378.3 896.8 383.3 896.3 388.3 895.8 393.4 895.3 398.4 894.8 403.4 894.3 408.4 893.8 413.5 893.4 418.5 892.9 423.5 892.4 428.6 891.9 433.6 891.4 438.6 890.9 443.6 890.4 448.7 889.9 453.7 889.4 458.7 888.9 463.8 888.3 468.8 887.8 473.8 887.3 478.8 886.8 483.9 886.3 488.9 885.8 493.9 885.3 498.9 884.8 504.0 884.3 509.0 883.8 514.0 883.3 519.1 882.7 524.1 882.2 529.1 881.7 534.1 881.2 539.2 880.7 544.2 880.1 549.2 879.6 554.2 879.1 559.3 878.5 564.3 878.0 569.3 877.5 574.3 876.9 579.4 876.4 584.4 875.8 589.4 875.3 594.4 874.7 599.4 874.1 604.5 873.6 609.5 873.0 614.5 872.4 619.5 871.8 624.5 871.3 629.6 870.7 634.6 870.1 639.6 869.5 644.6 869.0 649.6 868.4 654.7 867.8 659.7 867.2 664.7 866.7 669.7 866.1 674.7 865.5 679.8 864.9 684.8 864.3 689.8 863.7 694.8 863.1 699.8 862.5 704.9 862.0 709.9 861.4 714.9 860.9 719.9 860.4 725.0 859.9 730.0 859.4 735.0 858.9 740.0 858.4 745.1 857.9 750.1 857.5 755.1 857.0 760.2 856.6 765.2 856.1 770.2 855.7 775.3 855.2 780.3 854.8 785.3 854.3 790.4 853.9 795.4 853.5 800.4 853.1 805.5 852.7 810.5 852.3 815.5 851.9 820.6 851.5 825.6 851.1 830.7 850.7 835.7 850.2 840.7 849.8 845.8 849.3 850.8 848.8 855.8 848.3 860.8 847.8 865.9 847.2 870.9 846.7 875.9 846.1 881.0 845.4 886.0 844.8 891.0 844.0 896.0 843.3 901.0 842.4 905.9 841.4 910.9 840.3 915.9 838.9 920.7 837.3 925.4 835.1 930.0M835.2 930.0 835.3 925.0 835.5 919.9 835.6 914.8 835.8 909.8 836.0 904.7 836.3 899.6 836.5 894.6 836.8 889.5 837.2 884.5 837.6 879.4 838.1 874.4 838.5 869.3 839.0 864.3 839.5 859.3 840.1 854.2 840.5 849.2 841.1 844.1 841.6 839.1 842.1 834.0 842.7 829.0 843.3 824.0 843.8 818.9 844.4 813.9 844.9 808.9 845.5 803.8 846.0 798.8 846.5 793.7 847.0 788.7 847.5 783.7 848.1 778.6 848.6 773.6 849.1 768.5 849.7 763.5 850.3 758.5 850.9 753.4 851.5 748.4 852.1 743.4 852.7 738.3 853.3 733.3 853.8 728.3 854.4 723.2 854.9 718.2 855.5 713.2 856.0 708.1 856.5 703.1 857.1 698.0 857.6 693.0 858.1 688.0 858.6 682.9 859.1 677.9 859.6 672.8 860.1 667.8 860.6 662.8 861.1 657.7 861.6 652.7 862.1 647.6 862.6 642.6 863.1 637.5 863.6 632.5 864.0 627.4 864.5 622.4 865.0 617.4 865.5 612.3 866.0 607.3 866.4 602.2 866.9 597.2 867.4 592.1 867.9 587.1 868.3 582.0 868.8 577.0 869.3 572.0 869.8 566.9 870.2 561.9 870.7 556.8 871.2 551.8 871.6 546.7 872.1 541.7 872.6 536.6 873.0 531.6 873.5 526.5 874.0 521.5 874.4 516.5 874.9 511.4 875.3 506.4 875.8 501.3 876.2 496.3 876.7 491.2 877.1 486.2 877.6 481.1 878.0 476.1 878.5 471.0 878.9 466.0 879.3 460.9 879.8 455.9 880.2 450.8 880.6 445.8 881.1 440.7 881.5 435.7 881.9 430.6 882.3 425.6 882.7 420.5 883.2 415.5 883.6 410.4 884.0 405.4 884.4 400.3 884.8 395.3 885.1 390.2 885.5 385.2 885.9 380.1 886.2 375.1 886.6 370.0 887.0 364.9 887.4 359.9 887.8 354.8 888.3 349.8 888.7 344.8 889.2 339.7 889.7 334.7 890.3 329.6 890.9 324.6 891.5 319.6 892.2 314.5 892.8 309.5 893.5 304.5 894.2 299.5 894.9 294.5 895.6 289.4 896.3 284.4 897.1 279.4 897.9 274.4 898.7 269.4 899.6 264.4 900.5 259.4 901.4 254.4 902.4 249.3 903.4 244.3 904.7 239.4 906.4 234.8 909.2 230.6M909.2 230.6 909.0 235.6 908.8 240.6 908.6 245.7 908.4 250.7 908.2 255.7 908.0 260.8 907.8 265.8 907.5 270.8 907.3 275.9 907.0 280.9 906.8 285.9 906.5 290.9 906.2 296.0 905.9 301.0 905.5 306.0 905.2 311.0 904.8 316.1 904.5 321.1 904.1 326.1 903.7 331.1 903.3 336.2 902.8 341.2 902.4 346.2 902.0 351.2 901.6 356.2 901.2 361.3 900.7 366.3 900.3 371.3 899.9 376.3 899.5 381.3 899.1 386.3 898.7 391.4 898.2 396.4 897.8 401.4 897.4 406.4 896.9 411.4 896.5 416.5 896.0 421.5 895.6 426.5 895.1 431.5 894.7 436.5 894.2 441.5 893.7 446.6 893.3 451.6 892.8 456.6 892.4 461.6 891.9 466.6 891.4 471.6 890.9 476.6 890.5 481.7 890.0 486.7 889.5 491.7 889.0 496.7 888.5 501.7 888.1 506.7 887.6 511.7 887.1 516.8 886.6 521.8 886.1 526.8 885.6 531.8 885.1 536.8 884.6 541.8 884.0 546.8 883.5 551.8 883.0 556.8 882.5 561.8 882.0 566.9 881.4 571.9 880.9 576.9 880.3 581.9 879.8 586.9 879.2 591.9 878.7 596.9 878.1 601.9 877.5 606.9 877.0 611.9 876.4 616.9 875.8 621.9 875.2 626.9 874.6 631.9 874.0 636.9 873.4 641.9 872.8 646.9 872.3 651.9 871.7 656.9 871.1 661.9 870.5 666.9 869.9 671.9 869.2 676.9 868.6 681.9 868.0 686.9 867.4 691.9 866.8 696.9 866.1 701.9 865.5 706.9 864.9 711.9 864.4 716.9 863.8 721.9 863.2 726.9 862.7 731.9 862.2 737.0 861.6 742.0 861.1 747.0 860.6 752.0 860.1 757.0 859.6 762.0 859.1 767.0 858.6 772.0 858.1 777.0 857.6 782.1 857.1 787.1 856.6 792.1 856.1 797.1 855.6 802.1 855.2 807.1 854.7 812.1 854.2 817.2 853.8 822.2 853.3 827.2 852.8 832.2 852.3 837.2 851.8 842.2 851.2 847.2 850.7 852.2 850.1 857.2 849.5 862.2 848.9 867.2 848.3 872.3 847.6 877.3 847.0 882.3 846.2 887.2 845.5 892.2 844.6 897.2 843.8 902.1 842.9 907.3 841.9 912.7 840.7 917.6 839.0 921.8 835.1 924.8M834.9 924.8 834.9 919.8 835.0 914.7 835.1 909.7 835.3 904.6 835.4 899.6 835.6 894.5 835.8 889.5 836.1 884.4 836.4 879.4 836.8 874.3 837.2 869.3 837.6 864.3 838.0 859.2 838.5 854.2 838.9 849.2 839.3 844.1 839.8 839.1 840.2 834.1 840.7 829.0 841.2 824.0 841.7 819.0 842.2 814.0 842.7 808.9 843.2 803.9 843.6 798.9 844.1 793.8 844.5 788.8 845.0 783.8 845.5 778.7 845.9 773.7 846.4 768.7 846.9 763.7 847.4 758.6 848.0 753.6 848.5 748.6 849.1 743.6 849.6 738.5 850.2 733.5 850.7 728.5 851.3 723.5 851.8 718.4 852.3 713.4 852.8 708.4 853.3 703.4 853.8 698.3 854.2 693.3 854.7 688.3 855.2 683.3 855.7 678.2 856.2 673.2 856.6 668.2 857.1 663.1 857.6 658.1 858.1 653.1 858.5 648.0 859.0 643.0 859.5 638.0 859.9 633.0 860.4 627.9 860.8 622.9 861.3 617.9 861.8 612.8 862.2 607.8 862.7 602.8 863.2 597.7 863.6 592.7 864.1 587.7 864.6 582.6 865.1 577.6 865.5 572.6 866.0 567.6 866.5 562.5 867.0 557.5 867.4 552.5 867.9 547.4 868.4 542.4 868.9 537.4 869.3 532.3 869.8 527.3 870.3 522.3 870.8 517.3 871.2 512.2 871.7 507.2 872.2 502.2 872.7 497.1 873.1 492.1 873.6 487.1 874.1 482.0 874.5 477.0 875.0 472.0 875.5 467.0 875.9 461.9 876.4 456.9 876.9 451.9 877.3 446.8 877.8 441.8 878.3 436.8 878.7 431.7 879.2 426.7 879.6 421.7 880.1 416.7 880.6 411.6 881.0 406.6 881.5 401.6 881.9 396.5 882.3 391.5 882.8 386.4 883.2 381.4 883.6 376.4 884.0 371.3 884.5 366.3 884.9 361.3 885.4 356.2 885.9 351.2 886.4 346.2 887.0 341.2 887.5 336.2 888.2 331.2 888.8 326.1 889.5 321.1 890.2 316.1 890.9 311.1 891.7 306.1 892.4 301.1 893.2 296.1 894.0 291.1 894.8 286.2 895.6 281.2 896.5 276.2 897.4 271.2 898.3 266.3 899.3 261.3 900.3 256.3 901.2 251.1 902.3 246.0 903.6 241.1 905.2 236.6 908.2 232.7 910.6 228.4 912.2 223.5 914.0 218.8 916.6 214.5 919.8 210.5 923.2 206.8 926.9 203.4 931.0 200.3M931.0 200.3 930.7 205.3 930.3 210.4 929.9 215.4 929.4 220.5 928.9 225.5 928.3 230.5 927.7 235.5 927.0 240.5 926.2 245.5 925.3 250.5 924.5 255.5 923.8 260.5 923.1 265.5 922.5 270.5 921.9 275.5 921.3 280.6 920.7 285.6 920.2 290.6 919.6 295.6 919.0 300.6 918.4 305.7 917.7 310.7 917.1 315.7 916.5 320.7 915.8 325.7 915.2 330.7 914.6 335.8 914.0 340.8 913.4 345.8 912.9 350.8 912.4 355.8 911.8 360.9 911.3 365.9 910.8 370.9 910.3 376.0 909.8 381.0 909.2 386.0 908.6 391.0 908.0 396.1 907.3 401.1 906.7 406.1 906.0 411.1 905.4 416.1 904.7 421.1 904.1 426.1 903.5 431.1 902.9 436.2 902.3 441.2 901.7 446.2 901.1 451.2 900.5 456.2 899.9 461.3 899.3 466.3 898.7 471.3 898.1 476.3 897.5 481.3 896.9 486.4 896.3 491.4 895.7 496.4 895.1 501.4 894.5 506.4 893.8 511.5 893.2 516.5 892.6 521.5 891.9 526.5 891.2 531.5 890.5 536.5 889.8 541.5 889.1 546.5 888.3 551.5 887.6 556.5 886.8 561.5 886.1 566.5 885.4 571.5 884.7 576.5 884.1 581.5 883.4 586.6 882.8 591.6 882.2 596.6 881.6 601.6 881.1 606.6 880.5 611.7 879.9 616.7 879.4 621.7 878.8 626.7 878.3 631.8 877.7 636.8 877.2 641.8 876.6 646.8 876.0 651.9 875.4 656.9 874.8 661.9 874.1 666.9 873.5 671.9 872.8 676.9 872.2 681.9 871.5 687.0 870.8 692.0 870.1 697.0 869.5 702.0 868.8 707.0 868.1 712.0 867.4 717.0 866.7 722.0 866.0 727.0 865.3 732.0 864.6 737.0 864.0 742.0 863.3 747.1 862.6 752.1 861.9 757.1 861.2 762.1 860.6 767.1 859.9 772.1 859.2 777.1 858.5 782.1 857.8 787.1 857.1 792.1 856.4 797.1 855.6 802.1 854.9 807.1 854.2 812.1 853.4 817.1 852.7 822.1 851.9 827.1 851.1 832.1 850.4 837.1 849.6 842.1 848.8 847.1 848.0 852.1 847.1 857.1 846.3 862.1 845.4 867.1 844.5 872.0 843.7 877.0 842.8 882.0 841.9 887.0 841.0 892.0 840.1 897.0 839.1 902.0 838.0 906.9 836.8 911.8 835.4 916.6 833.7 921.5 831.8 926.3 829.5 930.6 826.7 934.5 823.2 938.0 819.1 941.3 814.5 944.1M814.9 944.1 815.1 939.1 815.3 934.0 815.5 929.0 815.7 923.9 816.0 918.9 816.2 913.9 816.5 908.8 816.8 903.8 817.2 898.8 817.5 893.7 817.8 888.7 818.2 883.7 818.6 878.6 819.1 873.6 819.5 868.6 820.0 863.6 820.5 858.5 821.1 853.5 821.7 848.5 822.2 843.5 822.8 838.5 823.4 833.4 824.0 828.4 824.6 823.4 825.2 818.4 825.7 813.4 826.3 808.4 826.9 803.4 827.5 798.4 828.1 793.3 828.7 788.3 829.3 783.3 830.0 778.3 830.6 773.3 831.2 768.3 831.9 763.3 832.5 758.3 833.2 753.3 833.9 748.3 834.5 743.3 835.2 738.3 835.9 733.3 836.6 728.3 837.3 723.3 838.0 718.3 838.7 713.3 839.4 708.3 840.2 703.3 840.9 698.3 841.6 693.3 842.4 688.3 843.1 683.3 843.9 678.3 844.7 673.3 845.5 668.3 846.3 663.4 847.1 658.4 847.9 653.4 848.8 648.4 849.7 643.5 850.6 638.5 851.6 633.6 852.6 628.6 853.5 623.6 854.5 618.7 855.5 613.7 856.5 608.8 857.4 603.8 858.3 598.9 859.2 593.9 860.0 588.9 860.8 583.9 861.6 578.9 862.4 574.0 863.1 569.0 863.9 564.0 864.6 559.0 865.4 554.0 866.1 549.0 866.9 544.0 867.6 539.0 868.3 534.0 869.0 529.0 869.7 524.0 870.4 519.0 871.1 514.0 871.8 509.0 872.5 504.0 873.2 499.0 873.9 494.0 874.6 489.0 875.3 484.0 876.0 479.0 876.7 474.0 877.5 469.0 878.2 464.1 879.0 459.1 879.8 454.1 880.6 449.1 881.4 444.1 882.2 439.1 883.0 434.1 883.8 429.1 884.6 424.2 885.4 419.2 886.3 414.2 887.1 409.2 888.0 404.3 888.9 399.3 889.8 394.3 890.7 389.4 891.6 384.4 892.5 379.4 893.5 374.5 894.4 369.5 895.4 364.6 896.4 359.6 897.4 354.7 898.4 349.7 899.5 344.8 900.5 339.8 901.6 334.9 902.8 330.0 903.9 325.1 905.1 320.2 906.3 315.3 907.6 310.4 908.8 305.5 910.2 300.6 911.6 295.7 913.0 290.9 914.5 286.1 916.1 281.3 917.8 276.6 919.6 271.9 921.5 267.2 923.5 262.6 925.6 258.0 927.8 253.4 930.0 248.8M929.0 248.8 928.7 253.9 928.3 258.9 928.0 263.9 927.6 269.0 927.2 274.0 926.9 279.0 926.5 284.0 926.0 289.0 925.6 294.1 925.1 299.1 924.6 304.1 924.1 309.1 923.6 314.1 923.1 319.2 922.6 324.2 922.0 329.2 921.5 334.2 920.9 339.2 920.4 344.2 919.8 349.2 919.3 354.2 918.7 359.2 918.2 364.3 917.6 369.3 917.0 374.3 916.4 379.3 915.9 384.3 915.3 389.3 914.7 394.3 914.1 399.3 913.5 404.3 912.9 409.3 912.3 414.3 911.6 419.3 911.0 424.3 910.4 429.3 909.8 434.3 909.2 439.3 908.6 444.3 908.0 449.3 907.3 454.3 906.7 459.3 906.1 464.4 905.4 469.4 904.8 474.4 904.2 479.4 903.5 484.4 902.8 489.3 902.1 494.3 901.5 499.3 900.7 504.3 900.0 509.3 899.3 514.3 898.5 519.3 897.7 524.3 896.9 529.2 896.1 534.2 895.2 539.2 894.3 544.1 893.5 549.1 892.6 554.0 891.7 559.0 890.8 564.0 889.9 568.9 889.0 573.9 888.2 578.9 887.3 583.8 886.5 588.8 885.7 593.8 884.8 598.8 884.0 603.7 883.2 608.7 882.4 613.7 881.6 618.7 880.7 623.6 879.9 628.6 879.1 633.6 878.2 638.5 877.4 643.5 876.5 648.5 875.6 653.4 874.7 658.4 873.8 663.3 872.8 668.3 871.9 673.3 871.0 678.2 870.0 683.2 869.1 688.1 868.1 693.1 867.2 698.0 866.2 703.0 865.3 707.9 864.3 712.9 863.4 717.8 862.5 722.8 861.5 727.7 860.6 732.7 859.7 737.6 858.8 742.6 857.9 747.6 856.9 752.5 856.0 757.5 855.1 762.4 854.1 767.4 853.1 772.3 852.2 777.3 851.2 782.2 850.2 787.1 849.1 792.1 848.1 797.0 847.1 801.9 846.0 806.9 844.9 811.8 843.8 816.7 842.7 821.6 841.6 826.6 840.4 831.5 839.3 836.4 838.1 841.3 836.9 846.2 835.7 851.1 834.5 856.0 833.3 860.9 832.0 865.8 830.7 870.6 829.3 875.5 827.9 880.3 826.4 885.1 824.8 889.9 823.0 894.6 821.2 899.3 819.2 903.9 817.1 908.5 814.9 913.1M814.9 913.1 815.0 908.0 815.2 903.0 815.3 897.9 815.5 892.9 815.7 887.8 816.0 882.8 816.2 877.8 816.5 872.7 816.8 867.7 817.1 862.7 817.4 857.6 817.7 852.6 818.1 847.6 818.6 842.5 819.1 837.5 819.6 832.5 820.1 827.5 820.7 822.5 821.3 817.4 821.8 812.4 822.4 807.4 823.0 802.4 823.6 797.4 824.1 792.4 824.7 787.4 825.3 782.3 825.9 777.3 826.5 772.3 827.1 767.3 827.7 762.3 828.3 757.3 829.0 752.3 829.6 747.3 830.3 742.3 830.9 737.3 831.6 732.3 832.3 727.3 833.0 722.3 833.7 717.3 834.4 712.3 835.1 707.3 835.8 702.3 836.6 697.3 837.3 692.3 838.1 687.3 838.8 682.3 839.6 677.4 840.4 672.4 841.2 667.4 842.0 662.4 842.8 657.4 843.7 652.4 844.5 647.5 845.4 642.5 846.3 637.5 847.2 632.6 848.2 627.6 849.2 622.7 850.2 617.7 851.2 612.8 852.2 607.8 853.2 602.9 854.2 597.9 855.1 593.0 856.0 588.0 856.9 583.1 857.8 578.1 858.6 573.1 859.4 568.1 860.2 563.2 861.0 558.2 861.8 553.2 862.6 548.2 863.3 543.2 864.1 538.2 864.9 533.2 865.6 528.2 866.4 523.3 867.2 518.3 867.9 513.3 868.6 508.3 869.3 503.3 870.1 498.3 870.8 493.3 871.5 488.3 872.3 483.3 873.0 478.3 873.8 473.3 874.6 468.4 875.4 463.4 876.3 458.4 877.1 453.4 878.0 448.5 878.8 443.5 879.7 438.5 880.6 433.6 881.5 428.6 882.4 423.6 883.4 418.7 884.3 413.7 885.3 408.7 886.2 403.8 887.2 398.8 888.2 393.9 889.2 389.0 890.2 384.0 891.2 379.1 892.3 374.1 893.3 369.2 894.4 364.3 895.5 359.3 896.6 354.4 897.7 349.5 898.9 344.6 900.0 339.7 901.2 334.8 902.5 329.9 903.7 325.0 904.9 320.1 906.2 315.2 907.5 310.3 908.9 305.4 910.3 300.6 911.8 295.8 913.4 291.0 915.0 286.3 916.8 281.6 918.7 276.9 920.7 272.3 922.8 267.7 925.0 263.1 927.3 258.6 929.6 254.0M929.5 254.0 929.3 259.1 929.0 264.2 928.8 269.3 928.5 274.3 928.2 279.4 927.9 284.4 927.6 289.5 927.2 294.6 926.9 299.6 926.5 304.7 926.1 309.7 925.7 314.8 925.2 319.9 924.8 324.9 924.3 330.0 923.8 335.0 923.3 340.1 922.9 345.1 922.4 350.2 921.9 355.2 921.4 360.3 920.9 365.3 920.4 370.4 919.9 375.4 919.4 380.5 918.9 385.5 918.3 390.5 917.8 395.6 917.2 400.6 916.7 405.7 916.1 410.7 915.6 415.8 915.0 420.8 914.4 425.8 913.9 430.9 913.3 435.9 912.7 441.0 912.1 446.0 911.5 451.0 910.9 456.1 910.3 461.1 909.7 466.2 909.1 471.2 908.4 476.2 907.8 481.3 907.1 486.3 906.5 491.3 905.8 496.4 905.1 501.4 904.4 506.4 903.7 511.4 902.9 516.4 902.2 521.4 901.4 526.5 900.5 531.5 899.6 536.4 898.7 541.4 897.8 546.4 896.9 551.4 896.0 556.4 895.0 561.4 894.1 566.4 893.2 571.4 892.3 576.4 891.4 581.4 890.6 586.4 889.7 591.4 888.9 596.4 888.1 601.4 887.2 606.4 886.4 611.4 885.6 616.4 884.8 621.4 883.9 626.4 883.1 631.4 882.2 636.4 881.3 641.4 880.4 646.4 879.5 651.4 878.5 656.4 877.6 661.3 876.6 666.3 875.6 671.3 874.6 676.3 873.6 681.2 872.6 686.2 871.5 691.2 870.5 696.1 869.5 701.1 868.4 706.1 867.4 711.0 866.3 716.0 865.3 721.0 864.3 725.9 863.2 730.9 862.2 735.9 861.1 740.8 860.1 745.8 859.0 750.8 857.9 755.7 856.8 760.7 855.7 765.6 854.7 770.6 853.5 775.5 852.4 780.5 851.3 785.4 850.2 790.4 849.1 795.3 848.0 800.3 846.8 805.2 845.7 810.2 844.5 815.1 843.3 820.0 842.1 825.0 840.9 829.9 839.7 834.8 838.4 839.7 837.1 844.6 835.8 849.6 834.5 854.5 833.2 859.4 831.8 864.3 830.4 869.2 828.9 874.0 827.3 878.8 825.6 883.6 823.8 888.2 821.7 892.9 819.6 897.5 817.3 902.0 814.9 906.5M814.6 906.5 814.6 901.5 814.7 896.4 814.8 891.4 814.8 886.3 815.0 881.3 815.1 876.2 815.2 871.2 815.4 866.2 815.6 861.1 815.8 856.1 816.0 851.0 816.2 846.0 816.5 841.0 816.9 835.9 817.3 830.9 817.8 825.9 818.3 820.9 818.8 815.8 819.3 810.8 819.9 805.8 820.4 800.8 821.0 795.7 821.5 790.7 822.0 785.7 822.5 780.7 823.0 775.6 823.6 770.6 824.1 765.6 824.7 760.6 825.2 755.6 825.8 750.6 826.4 745.5 827.0 740.5 827.6 735.5 828.2 730.5 828.8 725.5 829.5 720.5 830.1 715.5 830.8 710.5 831.4 705.5 832.1 700.5 832.8 695.5 833.5 690.5 834.2 685.5 834.9 680.5 835.6 675.5 836.4 670.5 837.1 665.5 837.9 660.5 838.7 655.5 839.5 650.5 840.4 645.5 841.2 640.6 842.1 635.6 843.1 630.7 844.1 625.7 845.2 620.8 846.3 615.9 847.4 610.9 848.5 606.0 849.6 601.1 850.7 596.1 851.7 591.2 852.7 586.2 853.6 581.3 854.4 576.3 855.3 571.3 856.1 566.3 856.9 561.4 857.6 556.4 858.4 551.4 859.2 546.4 860.0 541.4 860.7 536.4 861.5 531.4 862.3 526.4 863.1 521.4 863.8 516.4 864.4 511.3 865.1 506.2 865.8 501.1 866.5 496.1 867.2 491.0 868.0 486.1 868.9 481.1 870.0 476.3 871.1 471.6 872.5 466.9 874.4 462.4 876.7 457.9 879.3 453.4 882.0 449.1 884.8 444.7 887.6 440.4 890.3 436.1 893.2 431.9 896.4 427.8 899.7 423.7 902.8 419.6 905.7 415.5 908.1 411.2 909.7 406.8 911.1 402.2 912.4 397.5 913.5 392.8 914.6 387.9 915.5 383.0 916.4 378.1 917.2 373.0 918.0 368.0 918.7 362.9 919.5 357.8 920.2 352.6 920.9 347.5 921.7 342.4 922.4 337.3 923.2 332.2 924.1 327.2 925.1 322.2 926.1 317.3 927.2 312.4 928.2 307.4 929.3 302.5 930.4 297.6 931.5 292.6 932.7 287.7 933.9 282.8 935.1 277.9 936.3 273.0 937.5 268.1 938.7 263.2 939.9 258.3 941.2 253.4 942.6 248.5 944.0 243.6 945.5 238.9 947.1 234.1 948.9 229.4 950.9 224.7 953.1 220.1 955.4 215.6 958.0 211.3 960.8 207.2 964.0 203.2 967.5 199.4 971.1 196.0 975.0 192.9 979.1 190.1 983.5 187.5 988.2 185.1M988.2 185.1 988.0 190.2 987.8 195.2 987.5 200.3 987.2 205.3 986.9 210.3 986.5 215.3 986.1 220.3 985.7 225.4 985.3 230.4 984.9 235.4 984.4 240.4 983.8 245.4 983.1 250.4 982.4 255.4 981.7 260.4 981.0 265.3 980.3 270.3 979.7 275.3 979.1 280.3 978.6 285.3 978.1 290.3 977.6 295.4 977.2 300.4 976.7 305.4 976.3 310.4 975.8 315.4 975.3 320.4 974.8 325.4 974.4 330.5 973.9 335.5 973.5 340.5 973.0 345.5 972.6 350.5 972.1 355.5 971.5 360.5 971.0 365.5 970.3 370.5 969.7 375.5 968.9 380.5 968.2 385.5 967.4 390.4 966.7 395.4 966.0 400.4 965.3 405.4 964.6 410.4 964.0 415.4 963.3 420.4 962.6 425.4 962.0 430.4 961.3 435.4 960.6 440.4 959.9 445.3 959.2 450.3 958.4 455.3 957.6 460.3 956.8 465.2 956.0 470.2 955.1 475.1 954.2 480.1 953.3 485.1 952.3 490.0 951.3 495.0 950.3 499.9 949.3 504.9 948.2 509.8 947.1 514.7 945.9 519.6 944.7 524.5 943.5 529.3 942.2 534.2 940.8 539.0 939.3 543.8 937.7 548.5 936.0 553.3 934.2 558.0 932.4 562.7 930.6 567.4 928.8 572.2 927.0 576.9 925.3 581.6 923.6 586.3 921.9 591.1 920.2 595.8 918.5 600.6 916.8 605.3 915.1 610.0 913.4 614.8 911.6 619.5 909.8 624.2 908.0 628.9 906.2 633.6 904.3 638.3 902.4 642.9 900.5 647.6 898.6 652.2 896.6 656.9 894.6 661.5 892.6 666.1 890.5 670.7 888.4 675.3 886.3 679.9 884.1 684.4 881.9 688.9 879.7 693.4 877.3 697.8 874.8 702.2 872.3 706.6 869.7 710.9 867.2 715.3 864.6 719.7 862.2 724.1 859.9 728.5 857.7 733.0 855.6 737.6 853.4 742.2 851.3 746.8 849.3 751.4 847.3 756.0 845.4 760.7 843.6 765.4 841.8 770.1 840.2 774.9 838.6 779.6 837.2 784.4 835.9 789.3 834.6 794.1 833.4 799.0 832.2 803.9 831.1 808.8 830.0 813.8 828.9 818.7 827.7 823.6 826.6 828.5 825.4 833.4 824.2 838.3 823.1 843.2 822.0 848.1 820.9 853.1 819.7 858.0 818.6 862.9 817.3 867.7 816.0 872.6 814.6 877.4 813.1 882.2 811.6 887.0 810.0 891.8 808.3 896.6 806.5 901.3 804.6 905.9 802.6 910.5 800.4 915.1 798.1 919.6 795.6 924.0 793.0 928.2 790.2 932.4 787.2 936.4 784.0 940.4 780.7 944.2 777.3 948.0 773.8 951.6 770.2 955.1 766.5 958.5 762.6 961.7 758.5 964.8M758.5 964.8 758.6 959.7 758.6 954.6 758.7 949.6 758.7 944.5 758.8 939.5 758.9 934.4 759.1 929.4 759.2 924.4 759.4 919.3 759.5 914.3 759.8 909.3 760.2 904.2 760.8 899.2 761.3 894.2 762.0 889.2 762.6 884.2 763.3 879.2 764.0 874.2 764.6 869.2 765.3 864.2 766.0 859.2 766.7 854.2 767.4 849.2 768.2 844.2 769.0 839.2 769.8 834.2 770.7 829.2 771.6 824.3 772.5 819.3 773.5 814.4 774.6 809.4 775.6 804.5 776.6 799.5 777.6 794.6 778.6 789.7 779.7 784.7 780.7 779.8 781.7 774.8 782.6 769.9 783.5 764.9 784.4 759.9 785.2 755.0 785.9 750.0 786.7 745.0 787.4 740.0 788.1 735.0 788.8 730.0 789.5 725.0 790.2 720.0 790.9 715.0 791.6 710.0 792.3 705.0 793.0 700.0 793.8 695.0 794.6 690.0 795.4 685.0 796.2 680.1 797.0 675.1 797.8 670.1 798.7 665.1 799.5 660.1 800.4 655.2 801.3 650.2 802.2 645.2 803.1 640.3 804.1 635.3 805.0 630.4 806.1 625.4 807.1 620.5 808.2 615.6 809.3 610.6 810.4 605.7 811.6 600.8 812.8 595.9 814.0 591.0 815.3 586.1 816.5 581.2 817.8 576.3 819.1 571.5 820.4 566.6 821.7 561.7 823.0 556.8 824.4 551.9 825.8 547.1 827.2 542.2 828.7 537.4 830.2 532.6 831.8 527.8 833.4 523.0 835.0 518.3 836.8 513.6 838.6 508.9 840.5 504.2 842.5 499.5 844.5 494.9 846.7 490.3 848.8 485.7 851.1 481.2 853.3 476.7 855.6 472.2 858.0 467.8 860.5 463.4 863.1 459.0 865.7 454.7 868.4 450.4 871.1 446.2 873.9 442.0 876.9 437.9 879.9 433.9 883.0 429.9 886.1 425.9 889.2 421.9 892.2 417.8 895.0 413.7 897.8 409.4 900.5 405.2 903.2 400.9 905.9 396.6 908.4 392.2 910.8 387.8 913.1 383.3 915.3 378.8 917.3 374.2 919.2 369.5 921.1 364.9 922.9 360.1 924.6 355.4 926.4 350.6 928.1 345.9 929.9 341.1 931.7 336.4 933.5 331.7 935.3 327.0 937.1 322.3 938.9 317.5 940.7 312.8 942.5 308.1 944.3 303.4 946.2 298.7 948.1 294.0 950.1 289.4 952.2 284.8 954.3 280.2 956.4 275.6 958.6 271.0 960.9 266.5 963.2 262.0 965.6 257.6 968.1 253.3 970.8 249.0 973.5 244.8 976.4 240.7 979.5 236.6 982.6 232.7 985.9 228.7M985.9 228.7 985.6 233.8 985.4 238.8 985.1 243.9 984.8 248.9 984.4 253.9 984.1 259.0 983.7 264.0 983.3 269.1 982.9 274.1 982.5 279.1 982.0 284.1 981.5 289.2 981.0 294.2 980.4 299.2 979.9 304.2 979.3 309.2 978.7 314.3 978.1 319.3 977.6 324.3 977.0 329.3 976.4 334.3 975.9 339.3 975.3 344.4 974.7 349.4 974.2 354.4 973.6 359.4 973.0 364.4 972.4 369.4 971.8 374.5 971.1 379.5 970.5 384.5 969.8 389.5 969.2 394.5 968.5 399.5 967.8 404.5 967.1 409.5 966.3 414.5 965.6 419.5 964.9 424.5 964.1 429.5 963.3 434.5 962.5 439.4 961.7 444.4 960.9 449.4 960.1 454.4 959.2 459.4 958.3 464.3 957.5 469.3 956.6 474.3 955.7 479.3 954.8 484.3 953.9 489.2 953.0 494.2 952.0 499.2 951.0 504.2 950.0 509.1 948.9 514.0 947.8 519.0 946.7 523.9 945.5 528.7 944.2 533.6 942.8 538.4 941.4 543.2 939.8 548.0 938.1 552.8 936.4 557.5 934.6 562.3 932.7 567.0 930.9 571.7 929.1 576.5 927.3 581.2 925.5 585.9 923.7 590.6 921.9 595.3 920.1 600.1 918.3 604.8 916.4 609.5 914.5 614.2 912.6 618.8 910.7 623.5 908.7 628.1 906.7 632.8 904.7 637.4 902.6 642.0 900.5 646.6 898.4 651.2 896.3 655.8 894.1 660.3 891.8 664.9 889.6 669.4 887.3 673.9 884.9 678.3 882.5 682.8 880.0 687.2 877.5 691.5 874.8 695.8 872.1 700.0 869.4 704.3 866.6 708.5 863.8 712.7 861.1 717.0 858.3 721.2 855.6 725.5 852.8 729.7 849.9 733.9 847.1 738.1 844.3 742.3 841.5 746.6 838.9 750.9 836.5 755.3 834.3 759.7 832.2 764.3 830.2 768.9 828.3 773.6 826.5 778.3 824.7 783.0 822.9 787.8 821.2 792.6 819.5 797.3 817.7 802.1 816.0 806.8 814.3 811.6 812.6 816.3 810.9 821.1 809.2 825.9 807.6 830.6 805.9 835.4 804.3 840.2 802.6 845.0 800.9 849.7 799.2 854.5 797.5 859.2 795.7 864.0 794.0 868.7 792.3 873.5 790.5 878.3 788.8 883.0 786.9 887.8 785.0 892.4 783.0 897.0 780.9 901.6 778.7 906.0 776.4 910.5 773.9 914.8 771.3 919.1 768.6 923.4 765.7 927.6 762.8 931.8 759.8 935.9 756.7 940.0M756.7 940.0 756.7 934.9 756.8 929.9 756.9 924.8 757.0 919.8 757.2 914.8 757.4 909.7 757.6 904.7 757.8 899.7 758.0 894.7 758.3 889.6 758.7 884.6 759.1 879.6 759.6 874.6 760.2 869.6 760.8 864.6 761.5 859.6 762.1 854.6 762.8 849.6 763.4 844.6 764.1 839.6 764.8 834.6 765.6 829.7 766.4 824.7 767.2 819.7 768.0 814.8 768.8 809.8 769.7 804.8 770.5 799.9 771.3 794.9 772.2 789.9 773.0 785.0 773.9 780.0 774.8 775.0 775.7 770.1 776.6 765.1 777.5 760.2 778.4 755.2 779.3 750.3 780.2 745.3 781.1 740.4 782.0 735.4 782.9 730.5 783.8 725.5 784.8 720.6 785.7 715.6 786.6 710.7 787.6 705.7 788.5 700.8 789.5 695.8 790.5 690.9 791.4 686.0 792.4 681.0 793.4 676.1 794.4 671.1 795.4 666.2 796.4 661.3 797.4 656.3 798.4 651.4 799.4 646.5 800.4 641.5 801.5 636.6 802.5 631.7 803.7 626.8 804.8 621.9 806.0 617.0 807.2 612.1 808.4 607.2 809.7 602.4 811.0 597.5 812.3 592.6 813.7 587.8 815.1 582.9 816.5 578.1 817.9 573.3 819.3 568.4 820.8 563.6 822.2 558.8 823.7 554.0 825.2 549.2 826.8 544.4 828.4 539.6 830.0 534.8 831.7 530.1 833.4 525.3 835.1 520.6 836.9 515.9 838.8 511.3 840.7 506.6 842.7 502.0 844.7 497.3 846.8 492.7 848.9 488.2 851.1 483.7 853.4 479.2 855.7 474.7 858.1 470.3 860.5 465.9 863.1 461.5 865.7 457.2 868.4 452.9 871.2 448.7 874.0 444.6 877.1 440.6 880.3 436.7 883.6 432.9 886.9 429.1 890.1 425.2 893.2 421.3 896.2 417.2 899.1 413.1 902.0 408.9 904.9 404.7 907.6 400.5 910.2 396.2 912.7 391.8 915.0 387.4 917.1 382.9 919.2 378.3 921.1 373.7 923.0 369.0 924.9 364.3 926.7 359.6 928.5 354.9 930.4 350.2 932.2 345.5 934.1 340.8 935.9 336.1 937.7 331.4 939.5 326.7 941.3 321.9 943.0 317.2 944.9 312.5 946.7 307.9 948.7 303.2 950.7 298.6 952.7 294.0 954.8 289.4 957.0 284.8 959.2 280.3 961.4 275.8 963.8 271.3 966.2 266.9 968.8 262.6 971.4 258.4 974.3 254.3 977.2 250.2 980.3 246.2 983.5 242.3 986.8 238.4M986.8 238.4 986.5 243.4 986.2 248.5 985.9 253.5 985.6 258.6 985.3 263.6 984.9 268.7 984.5 273.7 984.1 278.8 983.7 283.8 983.2 288.8 982.8 293.9 982.2 298.9 981.7 303.9 981.1 309.0 980.6 314.0 980.0 319.0 979.4 324.0 978.8 329.1 978.3 334.1 977.7 339.1 977.1 344.1 976.5 349.2 975.9 354.2 975.3 359.2 974.7 364.2 974.1 369.3 973.5 374.3 972.8 379.3 972.2 384.3 971.5 389.3 970.8 394.3 970.1 399.3 969.4 404.3 968.7 409.3 967.9 414.4 967.2 419.4 966.4 424.4 965.6 429.4 964.8 434.4 964.0 439.3 963.2 444.3 962.3 449.3 961.5 454.3 960.6 459.3 959.7 464.3 958.8 469.2 957.9 474.2 957.0 479.2 956.1 484.2 955.1 489.2 954.1 494.2 953.2 499.1 952.1 504.1 951.1 509.0 950.0 514.0 948.8 518.9 947.6 523.8 946.4 528.7 945.1 533.6 943.8 538.4 942.3 543.2 940.7 548.0 939.0 552.8 937.3 557.6 935.5 562.3 933.7 567.1 931.9 571.8 930.0 576.5 928.2 581.2 926.3 585.9 924.4 590.6 922.5 595.2 920.5 599.9 918.5 604.5 916.4 609.2 914.3 613.8 912.2 618.4 910.1 623.0 908.0 627.6 905.9 632.2 903.8 636.8 901.6 641.4 899.5 646.0 897.4 650.5 895.2 655.1 893.0 659.7 890.8 664.2 888.5 668.8 886.2 673.3 883.8 677.7 881.4 682.1 878.9 686.5 876.3 690.9 873.7 695.2 871.0 699.4 868.2 703.7 865.4 707.9 862.6 712.1 859.8 716.4 857.0 720.6 854.1 724.7 851.1 728.9 848.1 733.0 845.1 737.1 842.2 741.2 839.4 745.4 836.8 749.7 834.4 754.1 832.2 758.6 830.1 763.2 828.1 767.8 826.2 772.5 824.3 777.2 822.4 781.9 820.6 786.7 818.8 791.5 817.0 796.2 815.2 800.9 813.5 805.7 811.8 810.4 810.1 815.2 808.5 820.0 806.9 824.8 805.2 829.6 803.6 834.4 801.9 839.1 800.2 843.9 798.5 848.6 796.7 853.4 795.0 858.2 793.3 862.9 791.5 867.7 789.8 872.5 788.0 877.2 786.1 881.9 784.2 886.6 782.1 891.2 780.0 895.7 777.7 900.2 775.3 904.6 772.8 909.0 770.1 913.3 767.4 917.5 764.5 921.7 761.6 925.9 758.5 930.0M758.5 930.0 758.7 925.0 758.9 920.0 759.1 914.9 759.3 909.9 759.6 904.9 759.8 899.8 760.1 894.8 760.3 889.8 760.6 884.7 760.9 879.7 761.2 874.7 761.5 869.6 761.8 864.6 762.1 859.6 762.5 854.6 762.8 849.5 763.1 844.5 763.5 839.5 763.9 834.5 764.3 829.4 764.7 824.4 765.2 819.4 765.6 814.4 766.1 809.4 766.6 804.4 767.1 799.3 767.6 794.3 768.1 789.3 768.6 784.3 769.2 779.3 769.7 774.3 770.3 769.3 770.9 764.3 771.5 759.3 772.1 754.3 772.8 749.3 773.5 744.3 774.2 739.3 774.9 734.3 775.7 729.3 776.5 724.4 777.4 719.4 778.3 714.5 779.4 709.5 780.4 704.6 781.5 699.7 782.5 694.7 783.5 689.8 784.4 684.8 785.4 679.9 786.3 674.9 787.3 670.0 788.3 665.1 789.3 660.1 790.5 655.2 791.7 650.3 792.9 645.5 794.3 640.6 795.6 635.7 797.1 630.9 798.5 626.1 800.0 621.3 801.6 616.5 803.3 611.8 805.1 607.0 807.0 602.4 808.9 597.7 811.0 593.1 813.0 588.5 815.1 583.9 817.2 579.3 819.3 574.8 821.5 570.2 823.6 565.6 825.6 561.0 827.5 556.4 829.4 551.7 831.3 547.0 833.2 542.4 835.1 537.7 837.0 533.0 838.9 528.3 840.7 523.6 842.5 518.9 844.3 514.2 846.0 509.5 847.7 504.7 849.3 500.0 851.0 495.2 852.6 490.4 854.1 485.6 855.6 480.8 857.1 476.0 858.6 471.2 860.0 466.4 861.5 461.5 862.9 456.7 864.2 451.9 865.6 447.0 866.8 441.9 867.8 436.6 868.9 431.4 870.3 426.7 872.1 422.6 875.1 419.3 879.5 416.6 884.2 413.8 888.4 410.9 892.7 408.0 897.0 405.1 901.2 402.2 905.1 399.0 908.6 395.7 911.5 392.0 914.3 387.9 916.8 383.6 919.2 379.1 921.5 374.4 923.6 369.7 925.8 365.0 927.9 360.4 930.0 355.9 932.1 351.3 934.0 346.6 936.0 342.0 937.9 337.3 939.7 332.6 941.6 327.9 943.5 323.2 945.4 318.6 947.3 313.9 949.1 309.2 951.0 304.5 952.8 299.8 954.7 295.2 956.6 290.5 958.5 285.8 960.4 281.2 962.5 276.6 964.5 271.9 966.5 267.2 968.5 262.6 970.6 257.9 972.7 253.4 974.9 248.8 977.3 244.4 979.7 240.1 982.3 235.8 985.2 231.7 988.3 227.7 991.6 223.8 995.0 220.1 998.6 216.4 1002.4 212.4 1006.4 209.4 1010.8 208.5 1015.7 208.2 1020.9 208.0 1026.1 207.8 1031.1 207.4 1036.0 206.5 1040.9 205.2 1045.7 203.6 1050.5 201.8M1050.5 201.8 1050.3 206.9 1050.1 211.9 1049.8 216.9 1049.6 222.0 1049.3 227.0 1049.0 232.0 1048.7 237.1 1048.4 242.1 1048.0 247.1 1047.7 252.1 1047.3 257.2 1046.9 262.2 1046.6 267.2 1046.2 272.2 1045.8 277.2 1045.4 282.3 1045.0 287.3 1044.6 292.3 1044.1 297.3 1043.7 302.3 1043.2 307.3 1042.7 312.3 1042.1 317.4 1041.6 322.4 1041.0 327.4 1040.5 332.4 1039.9 337.4 1039.3 342.4 1038.6 347.4 1038.0 352.4 1037.4 357.4 1036.7 362.4 1036.0 367.3 1035.3 372.3 1034.6 377.3 1033.9 382.3 1033.1 387.3 1032.3 392.3 1031.5 397.3 1030.7 402.2 1029.8 407.2 1028.9 412.1 1028.0 417.1 1027.1 422.0 1026.0 426.9 1024.9 431.8 1023.7 436.7 1022.4 441.6 1021.1 446.5 1019.9 451.3 1018.6 456.2 1017.4 461.1 1016.2 466.0 1015.1 470.9 1013.9 475.8 1012.7 480.7 1011.6 485.6 1010.3 490.5 1009.0 495.4 1007.6 500.2 1006.1 505.0 1004.6 509.8 1003.0 514.6 1001.3 519.3 999.6 524.1 997.9 528.8 996.1 533.5 994.2 538.2 992.2 542.8 990.2 547.4 988.0 552.0 985.8 556.5 983.5 560.9 981.1 565.4 978.7 569.8 976.2 574.2 973.7 578.6 971.2 583.0 968.7 587.3 966.1 591.6 963.4 595.9 960.8 600.2 958.1 604.5 955.4 608.7 952.7 613.0 950.0 617.2 947.1 621.3 944.2 625.4 941.3 629.5 938.3 633.6 935.4 637.7 932.4 641.8 929.5 645.9 926.6 650.0 923.7 654.1 920.8 658.2 918.0 662.4 915.2 666.6 912.4 670.8 909.6 675.0 906.9 679.2 904.1 683.4 901.4 687.7 898.7 691.9 896.0 696.2 893.4 700.5 890.8 704.8 888.2 709.1 885.6 713.4 883.2 717.9 880.8 722.5 878.5 727.1 876.1 731.6 873.3 735.6 870.0 739.0 866.0 741.9 861.5 744.7 857.2 747.4 852.7 749.9 847.9 752.3 843.3 754.7 839.0 757.2 835.5 760.2 832.5 763.6 829.9 767.6 827.5 771.9 825.3 776.6 823.2 781.4 821.2 786.4 819.2 791.2 817.2 796.0 815.2 800.6 813.2 805.2 811.3 809.9 809.4 814.6 807.6 819.3 805.8 824.0 804.1 828.7 802.3 833.4 800.5 838.1 798.7 842.8 796.9 847.5 795.1 852.2 793.4 857.0 791.6 861.7 789.8 866.4 788.0 871.1 786.2 875.8 784.3 880.5 782.4 885.2 780.6 889.9 778.7 894.6 776.8 899.3 774.9 904.0 772.9 908.6 770.7 913.2 768.5 917.6 766.1 922.0 763.5 926.3 760.7 930.6 757.6 934.8 754.3 938.5 750.6 941.6 746.5 944.6 741.9 947.2 737.2 949.1 732.5 950.2 727.5 950.8 722.4 951.3 717.4 951.9 712.4 952.7 707.5 953.8 702.6 955.0 697.8 956.4 692.9 958.0M692.9 958.0 693.1 952.9 693.3 947.9 693.6 942.8 693.8 937.8 694.0 932.7 694.3 927.7 694.6 922.7 694.8 917.6 695.1 912.6 695.4 907.5 695.8 902.5 696.1 897.5 696.4 892.4 696.7 887.4 697.1 882.4 697.4 877.3 697.8 872.3 698.2 867.3 698.5 862.2 699.0 857.2 699.4 852.2 699.8 847.1 700.3 842.1 700.8 837.1 701.3 832.1 701.8 827.0 702.3 822.0 702.8 817.0 703.4 812.0 703.9 807.0 704.5 802.0 705.1 796.9 705.7 791.9 706.3 786.9 706.9 781.9 707.6 776.9 708.2 771.9 708.9 766.9 709.6 761.9 710.4 756.9 711.1 751.9 711.9 746.9 712.7 741.9 713.6 737.0 714.5 732.0 715.5 727.1 716.6 722.2 717.7 717.2 718.9 712.3 720.0 707.4 721.1 702.4 722.1 697.5 723.1 692.6 724.2 687.6 725.2 682.7 726.2 677.7 727.3 672.8 728.4 667.9 729.6 663.0 730.8 658.1 732.2 653.2 733.6 648.4 735.0 643.5 736.5 638.7 738.0 633.9 739.6 629.1 741.2 624.3 742.9 619.6 744.7 614.8 746.6 610.2 748.6 605.5 750.6 600.9 752.7 596.3 754.9 591.8 757.1 587.2 759.4 582.7 761.6 578.2 764.0 573.7 766.3 569.2 768.7 564.8 771.2 560.4 773.7 556.0 776.3 551.7 778.9 547.4 781.7 543.2 784.6 539.0 787.5 534.9 790.6 530.9 793.6 526.9 796.7 522.9 799.8 518.9 802.9 514.9 806.0 510.9 809.1 506.9 812.2 502.9 815.2 498.9 818.3 494.9 821.4 490.9 824.5 486.9 827.6 482.9 830.6 478.9 833.6 474.9 836.7 470.8 839.7 466.8 842.7 462.7 845.7 458.6 848.6 454.6 851.6 450.5 854.6 446.4 857.6 442.4 860.5 438.2 863.4 433.9 866.2 429.7 869.2 425.7 872.5 422.1 876.4 418.9 880.7 416.2 885.2 413.5 889.5 410.7 893.3 407.6 896.6 404.1 899.6 400.3 902.5 396.3 905.3 392.1 908.0 387.7 910.5 383.3 913.1 378.8 915.6 374.3 918.2 369.8 920.9 365.4 923.6 361.1 926.5 357.0 929.4 352.9 932.4 348.7 935.3 344.6 938.3 340.6 941.3 336.5 944.3 332.5 947.4 328.4 950.5 324.5 953.6 320.5 956.7 316.5 959.9 312.6 963.1 308.7 966.3 304.8 969.6 301.0 972.9 297.1 976.2 293.3 979.6 289.5 982.9 285.8 986.4 282.1 989.8 278.4 993.3 274.8 996.8 271.2 1000.4 267.6 1004.0 264.1 1007.7 260.6 1011.3 257.1 1015.1 253.7 1018.8 250.3 1022.6 247.1 1026.5 243.8 1030.4 240.6 1034.3 237.5 1038.3 234.4 1042.4 231.3 1046.4 228.3 1050.5 225.3M1050.5 225.3 1050.3 230.4 1050.1 235.4 1049.8 240.5 1049.5 245.5 1049.3 250.6 1048.9 255.6 1048.6 260.6 1048.3 265.7 1047.9 270.7 1047.6 275.7 1047.2 280.8 1046.8 285.8 1046.4 290.8 1046.0 295.9 1045.6 300.9 1045.2 305.9 1044.8 310.9 1044.3 316.0 1043.9 321.0 1043.4 326.0 1042.8 331.0 1042.3 336.1 1041.7 341.1 1041.2 346.1 1040.6 351.1 1040.0 356.1 1039.3 361.1 1038.7 366.1 1038.0 371.1 1037.4 376.1 1036.7 381.1 1036.0 386.2 1035.2 391.2 1034.5 396.1 1033.7 401.1 1032.9 406.1 1032.0 411.1 1031.2 416.1 1030.3 421.0 1029.4 426.0 1028.4 430.9 1027.4 435.9 1026.2 440.8 1025.0 445.7 1023.7 450.6 1022.4 455.4 1021.1 460.3 1019.9 465.2 1018.6 470.1 1017.5 475.0 1016.3 479.9 1015.1 484.9 1013.9 489.8 1012.7 494.7 1011.4 499.5 1010.0 504.4 1008.5 509.2 1006.9 514.0 1005.3 518.8 1003.6 523.5 1001.9 528.3 1000.1 533.0 998.3 537.7 996.3 542.4 994.3 547.0 992.2 551.6 990.0 556.1 987.7 560.6 985.3 565.0 982.8 569.4 980.3 573.8 977.8 578.2 975.3 582.6 972.7 586.9 970.1 591.2 967.4 595.5 964.7 599.8 962.0 604.0 959.2 608.3 956.4 612.5 953.6 616.6 950.6 620.7 947.6 624.8 944.6 628.8 941.5 632.8 938.5 636.8 935.5 640.9 932.4 644.9 929.4 649.0 926.5 653.1 923.6 657.2 920.6 661.3 917.7 665.4 914.8 669.6 912.0 673.7 909.1 677.9 906.3 682.1 903.5 686.3 900.7 690.5 898.0 694.8 895.3 699.0 892.6 703.3 889.9 707.6 887.3 711.9 884.7 716.2 882.2 720.7 879.8 725.3 877.3 729.8 874.6 733.9 871.5 737.6 867.7 740.7 863.4 743.5 858.8 746.2 854.5 748.9 850.8 752.1 847.5 755.6 844.5 759.5 841.7 763.5 839.0 767.7 836.4 772.1 833.8 776.6 831.4 781.1 828.9 785.7 826.4 790.2 823.8 794.7 821.1 799.0 818.3 803.2 815.5 807.4 812.6 811.6 809.7 815.7 806.8 819.8 803.8 823.9 800.9 828.0 797.9 832.1 794.9 836.1 791.8 840.2 788.7 844.2 785.6 848.1 782.5 852.1 779.4 856.0 776.2 860.0 773.0 863.9 769.7 867.7 766.4 871.6 763.1 875.4 759.8 879.2 756.4 882.9 753.0 886.6 749.5 890.3 746.0 893.9 742.5 897.6 738.9 901.2 735.3 904.7 731.7 908.2 728.0 911.7 724.3 915.0 720.5 918.4 716.7 921.7 712.9 924.9 709.0 928.1 705.0 931.3 701.0 934.4 697.0 937.5 692.9 940.5M692.9 940.5 693.1 935.4 693.3 930.4 693.6 925.3 693.8 920.3 694.0 915.2 694.3 910.2 694.6 905.1 694.8 900.1 695.1 895.0 695.4 890.0 695.8 884.9 696.1 879.9 696.4 874.8 696.8 869.8 697.1 864.7 697.5 859.7 697.8 854.7 698.2 849.6 698.6 844.6 699.0 839.5 699.5 834.5 699.9 829.5 700.4 824.4 700.9 819.4 701.4 814.4 701.9 809.3 702.4 804.3 703.0 799.3 703.5 794.2 704.1 789.2 704.7 784.2 705.3 779.2 705.9 774.1 706.5 769.1 707.2 764.1 707.9 759.1 708.6 754.1 709.3 749.1 710.1 744.1 710.8 739.1 711.7 734.1 712.5 729.1 713.4 724.2 714.5 719.2 715.5 714.3 716.6 709.3 717.8 704.4 718.9 699.5 719.9 694.5 721.0 689.6 722.0 684.6 723.0 679.6 724.0 674.7 725.0 669.7 726.1 664.8 727.3 659.9 728.5 655.0 729.8 650.1 731.2 645.2 732.7 640.4 734.1 635.6 735.7 630.7 737.2 625.9 738.9 621.1 740.6 616.4 742.4 611.7 744.3 607.0 746.3 602.3 748.3 597.7 750.5 593.1 752.6 588.5 754.9 584.0 757.1 579.5 759.4 575.0 761.7 570.5 764.1 566.0 766.6 561.6 769.1 557.2 771.7 552.9 774.4 548.6 777.2 544.4 780.2 540.3 783.2 536.2 786.3 532.2 789.4 528.3 792.6 524.3 795.8 520.4 799.0 516.5 802.1 512.5 805.4 508.6 808.6 504.7 811.8 500.8 815.0 496.9 818.2 493.0 821.4 489.1 824.6 485.2 827.8 481.3 831.0 477.3 834.1 473.4 837.3 469.5 840.5 465.5 843.7 461.6 846.9 457.7 850.1 453.7 853.3 449.8 856.5 445.9 859.6 441.9 862.7 437.8 865.7 433.7 868.9 429.8 872.3 426.2 876.2 423.1 880.5 420.3 884.9 417.6 889.2 414.8 893.0 411.7 896.4 408.2 899.5 404.5 902.5 400.5 905.4 396.3 908.1 392.0 910.7 387.6 913.4 383.2 916.0 378.7 918.7 374.3 921.4 369.9 924.3 365.7 927.3 361.6 930.3 357.6 933.3 353.5 936.3 349.5 939.4 345.4 942.5 341.4 945.6 337.4 948.7 333.5 951.9 329.5 955.1 325.6 958.4 321.8 961.6 317.9 964.9 314.1 968.2 310.2 971.6 306.4 975.0 302.7 978.4 298.9 981.8 295.2 985.3 291.6 988.8 288.0 992.4 284.4 996.0 280.8 999.6 277.3 1003.3 273.8 1007.0 270.3 1010.7 266.9 1014.5 263.6 1018.4 260.3 1022.2 257.1 1026.1 253.9 1030.1 250.7 1034.1 247.6 1038.1 244.6 1042.2 241.6 1046.4 238.7 1050.5 235.8M1050.5 235.8 1050.3 240.8 1050.1 245.8 1049.8 250.9 1049.6 255.9 1049.3 260.9 1049.0 266.0 1048.7 271.0 1048.3 276.0 1048.0 281.0 1047.6 286.1 1047.3 291.1 1046.9 296.1 1046.5 301.1 1046.1 306.1 1045.7 311.1 1045.3 316.2 1044.9 321.2 1044.4 326.2 1044.0 331.2 1043.5 336.2 1043.0 341.2 1042.4 346.2 1041.9 351.2 1041.3 356.2 1040.7 361.2 1040.1 366.2 1039.5 371.2 1038.8 376.2 1038.2 381.2 1037.5 386.2 1036.8 391.2 1036.1 396.2 1035.4 401.2 1034.6 406.2 1033.8 411.1 1033.0 416.1 1032.2 421.1 1031.3 426.0 1030.4 431.0 1029.5 435.9 1028.4 440.8 1027.3 445.7 1026.1 450.6 1024.9 455.5 1023.6 460.4 1022.3 465.2 1021.1 470.1 1019.9 475.0 1018.8 479.9 1017.6 484.8 1016.5 489.8 1015.3 494.6 1014.1 499.5 1012.7 504.4 1011.3 509.2 1009.8 514.0 1008.3 518.8 1006.7 523.6 1005.0 528.3 1003.2 533.0 1001.5 537.8 999.6 542.4 997.6 547.1 995.6 551.7 993.4 556.2 991.2 560.7 988.9 565.2 986.5 569.6 984.0 574.0 981.6 578.4 979.1 582.8 976.5 587.1 973.9 591.5 971.3 595.7 968.6 600.0 965.9 604.2 963.1 608.5 960.3 612.6 957.3 616.7 954.3 620.7 951.2 624.7 948.1 628.6 945.0 632.6 941.8 636.5 938.7 640.4 935.6 644.4 932.5 648.4 929.4 652.4 926.4 656.4 923.3 660.4 920.3 664.4 917.2 668.4 914.2 672.4 911.2 676.5 908.3 680.6 905.3 684.6 902.4 688.7 899.5 692.9 896.6 697.0 893.8 701.1 890.9 705.3 888.1 709.4 885.3 713.6 882.4 717.8 879.7 722.1 877.1 726.5 874.2 730.6 871.0 734.2 867.0 737.2 862.6 740.0 858.2 742.6 854.0 745.4 850.3 748.6 847.1 752.2 844.0 756.0 841.2 760.1 838.4 764.3 835.8 768.6 833.2 773.1 830.6 777.6 828.1 782.0 825.5 786.5 822.8 790.8 820.0 795.1 817.1 799.2 814.2 803.3 811.3 807.4 808.3 811.5 805.3 815.5 802.3 819.6 799.3 823.6 796.2 827.6 793.1 831.5 790.0 835.5 786.8 839.4 783.7 843.3 780.5 847.2 777.2 851.1 774.0 854.9 770.7 858.7 767.3 862.5 764.0 866.2 760.6 870.0 757.1 873.6 753.7 877.3 750.2 880.9 746.7 884.5 743.1 888.1 739.5 891.6 735.8 895.1 732.1 898.5 728.4 901.9 724.6 905.2 720.8 908.5 717.0 911.7 713.1 914.9 709.1 918.0 705.2 921.1 701.1 924.1 697.1 927.1 692.9 930.0M692.9 930.0 693.1 925.0 693.3 920.0 693.5 915.0 693.8 909.9 694.0 904.9 694.2 899.9 694.5 894.8 694.8 889.8 695.1 884.8 695.4 879.8 695.7 874.8 696.0 869.7 696.3 864.7 696.6 859.7 697.0 854.7 697.3 849.7 697.7 844.6 698.0 839.6 698.4 834.6 698.8 829.6 699.3 824.6 699.7 819.6 700.2 814.6 700.7 809.5 701.2 804.5 701.7 799.5 702.2 794.5 702.7 789.5 703.3 784.5 703.8 779.5 704.4 774.5 705.0 769.5 705.6 764.5 706.2 759.5 706.9 754.5 707.6 749.5 708.3 744.6 709.0 739.6 709.7 734.6 710.5 729.6 711.3 724.7 712.2 719.8 713.2 714.8 714.3 709.9 715.3 705.0 716.4 700.1 717.5 695.1 718.5 690.2 719.5 685.3 720.4 680.3 721.4 675.4 722.4 670.5 723.4 665.5 724.5 660.6 725.6 655.7 726.9 650.8 728.2 646.0 729.5 641.1 730.9 636.3 732.4 631.5 733.9 626.7 735.4 621.9 737.0 617.1 738.8 612.4 740.6 607.7 742.4 603.0 744.4 598.4 746.5 593.8 748.6 589.2 750.7 584.7 752.9 580.1 755.1 575.6 757.4 571.1 759.7 566.7 762.1 562.2 764.5 557.8 767.0 553.4 769.6 549.1 772.3 544.9 775.2 540.8 778.2 536.7 781.2 532.7 784.2 528.6 787.2 524.6 790.3 520.7 793.4 516.7 796.4 512.7 799.5 508.7 802.6 504.7 805.7 500.8 808.8 496.8 811.9 492.8 814.9 488.8 818.0 484.8 821.0 480.8 824.1 476.8 827.1 472.8 830.1 468.8 833.1 464.8 836.2 460.7 839.2 456.7 842.3 452.7 845.3 448.7 848.3 444.7 851.4 440.7 854.4 436.7 857.4 432.6 860.2 428.3 863.0 423.8 865.7 419.4 868.7 415.4 872.0 412.1 875.9 409.6 880.5 407.5 885.3 405.7 890.2 403.8 894.9 401.7 899.3 399.4 903.8 396.9 908.2 394.3 912.4 391.6 916.5 388.7 920.3 385.6 923.9 382.1 927.3 378.5 930.6 374.6 933.8 370.7 937.1 366.7 940.3 362.9 943.6 359.1 946.9 355.2 950.1 351.4 953.3 347.4 956.4 343.5 959.5 339.5 962.4 335.5 965.3 331.4 968.1 327.2 970.9 323.0 973.6 318.8 976.3 314.5 979.1 310.3 981.8 306.1 984.6 301.9 987.3 297.6 990.0 293.4 992.7 289.2 995.5 284.9 998.2 280.7 1001.0 276.6 1003.9 272.4 1006.7 268.2 1009.5 264.0 1012.4 259.9 1015.3 255.8 1018.2 251.7 1021.3 247.7 1024.4 243.8 1027.7 240.0 1031.1 236.3 1034.5 232.6 1038.0 228.9 1041.4 225.2 1044.8 221.3 1048.2 217.5 1051.8 214.3 1055.9 211.6 1060.3 209.3 1065.0 207.2 1069.8 205.2 1074.5 203.5 1079.2 201.9 1084.0 200.3 1088.8 198.8 1093.6 197.4 1098.5 196.1 1103.4 194.9 1108.4 193.9 1113.4 193.0M1113.4 193.0 1113.1 198.0 1112.9 203.1 1112.6 208.1 1112.3 213.1 1112.0 218.2 1111.7 223.2 1111.4 228.2 1111.0 233.2 1110.7 238.3 1110.3 243.3 1109.9 248.3 1109.5 253.3 1109.1 258.4 1108.7 263.4 1108.3 268.4 1107.8 273.4 1107.4 278.4 1107.0 283.5 1106.5 288.5 1106.0 293.5 1105.5 298.5 1104.9 303.5 1104.4 308.5 1103.8 313.5 1103.2 318.6 1102.6 323.6 1102.0 328.6 1101.3 333.6 1100.7 338.6 1100.0 343.5 1099.3 348.5 1098.6 353.5 1097.9 358.5 1097.1 363.5 1096.4 368.5 1095.6 373.5 1094.8 378.5 1094.0 383.5 1093.1 388.4 1092.2 393.4 1091.3 398.4 1090.4 403.3 1089.4 408.2 1088.5 413.2 1087.4 418.1 1086.3 423.0 1085.1 427.9 1083.8 432.7 1082.5 437.6 1081.1 442.5 1079.7 447.3 1078.3 452.2 1077.0 457.0 1075.7 461.9 1074.5 466.8 1073.3 471.7 1072.0 476.6 1070.7 481.5 1069.4 486.3 1068.0 491.2 1066.6 496.0 1065.0 500.8 1063.4 505.6 1061.7 510.3 1060.0 515.0 1058.2 519.8 1056.3 524.4 1054.4 529.1 1052.5 533.8 1050.4 538.4 1048.3 543.0 1046.1 547.5 1043.8 552.0 1041.5 556.4 1039.0 560.8 1036.5 565.2 1033.9 569.5 1031.3 573.8 1028.6 578.1 1025.9 582.4 1023.2 586.6 1020.4 590.8 1017.6 595.0 1014.8 599.2 1011.8 603.3 1008.9 607.4 1005.8 611.4 1002.7 615.3 999.4 619.1 996.1 622.9 992.6 626.6 989.2 630.3 985.7 633.9 982.1 637.5 978.5 641.0 974.9 644.5 971.4 648.1 967.8 651.7 964.2 655.2 960.6 658.7 957.0 662.3 953.4 665.8 949.8 669.3 946.2 672.9 942.6 676.4 939.1 679.9 935.5 683.5 931.9 687.1 928.4 690.6 924.8 694.2 921.3 697.8 917.7 701.4 914.2 705.0 910.6 708.5 907.1 712.1 903.5 715.7 900.0 719.2 896.4 722.8 892.8 726.4 889.3 730.0 885.9 733.9 882.5 737.8 879.1 741.5 875.4 744.9 871.5 747.8 867.3 750.1 862.7 752.2 857.9 754.1 853.2 756.0 848.5 758.1 843.7 760.0 838.9 761.9 834.1 763.8 829.6 766.0 825.6 768.5 822.0 771.6 818.7 775.2 815.5 779.2 812.5 783.5 809.5 787.8 806.5 792.0 803.4 796.0 800.3 799.9 797.1 803.9 794.0 807.8 790.9 811.8 787.8 815.8 784.8 819.9 781.9 824.0 779.1 828.1 776.2 832.3 773.5 836.5 770.7 840.7 768.0 845.0 765.2 849.2 762.5 853.4 759.7 857.6 756.9 861.8 754.1 866.0 751.4 870.2 748.6 874.4 745.8 878.6 743.0 882.8 740.2 887.0 737.4 891.2 734.6 895.4 731.7 899.6 728.9 903.8 726.0 907.9 723.0 911.9 719.9 915.9 716.8 919.8 713.5 923.7 710.2 927.5 706.7 931.2 703.2 934.8 699.7 938.4 696.0 941.9 692.1 945.0 687.9 947.7 683.6 950.2 679.1 952.6 674.4 954.7 669.7 956.7 665.0 958.5 660.3 960.1 655.6 961.7 650.8 963.2 645.9 964.6 641.0 965.8 636.0 966.9 631.0 967.9M631.0 967.9 631.3 962.9 631.5 957.8 631.7 952.8 632.0 947.8 632.3 942.7 632.6 937.7 632.9 932.7 633.2 927.7 633.5 922.6 633.9 917.6 634.2 912.6 634.6 907.6 635.0 902.6 635.4 897.5 635.7 892.5 636.1 887.5 636.5 882.5 637.0 877.5 637.4 872.5 637.8 867.5 638.3 862.4 638.8 857.4 639.3 852.4 639.9 847.4 640.4 842.4 641.0 837.4 641.6 832.4 642.1 827.4 642.8 822.4 643.4 817.4 644.0 812.4 644.7 807.4 645.3 802.4 646.0 797.5 646.7 792.5 647.4 787.5 648.2 782.5 648.9 777.5 649.7 772.5 650.5 767.6 651.4 762.6 652.2 757.6 653.1 752.7 654.0 747.7 655.0 742.8 656.0 737.9 657.1 733.0 658.3 728.1 659.6 723.2 660.9 718.4 662.1 713.5 663.4 708.6 664.6 703.7 665.8 698.8 667.0 693.9 668.1 689.0 669.3 684.1 670.5 679.2 671.7 674.3 673.0 669.5 674.3 664.6 675.7 659.8 677.3 655.0 678.8 650.2 680.5 645.5 682.2 640.7 683.9 636.0 685.6 631.3 687.5 626.6 689.4 621.9 691.3 617.3 693.4 612.7 695.6 608.2 697.8 603.7 700.1 599.2 702.5 594.7 704.9 590.3 707.4 585.9 709.9 581.6 712.5 577.2 715.1 572.9 717.7 568.6 720.4 564.4 723.2 560.2 726.0 556.0 728.9 551.9 731.8 547.8 735.0 543.8 738.2 540.0 741.6 536.3 745.0 532.6 748.5 528.9 752.0 525.3 755.5 521.7 759.1 518.2 762.7 514.7 766.3 511.2 769.9 507.7 773.6 504.2 777.2 500.8 780.9 497.3 784.6 493.9 788.3 490.5 792.0 487.1 795.7 483.6 799.4 480.2 803.1 476.8 806.7 473.4 810.5 469.9 814.2 466.5 817.9 463.2 821.6 459.8 825.4 456.4 829.2 453.1 832.9 449.8 836.7 446.5 840.5 443.1 844.3 439.8 848.1 436.5 851.8 433.1 855.5 429.7 859.1 426.0 862.7 422.4 866.4 419.0 870.3 415.9 874.4 413.3 878.9 411.1 883.7 409.2 888.6 407.3 893.4 405.5 898.0 403.5 902.2 401.1 906.0 398.4 909.6 395.2 913.0 391.8 916.3 388.1 919.5 384.2 922.6 380.2 925.6 376.0 928.7 371.7 931.7 367.4 934.7 363.2 937.8 359.0 940.9 354.9 944.2 351.0 947.6 347.3 950.9 343.5 954.3 339.8 957.7 336.1 961.2 332.4 964.6 328.8 968.1 325.1 971.6 321.5 975.1 317.9 978.6 314.3 982.2 310.7 985.7 307.2 989.3 303.7 993.0 300.2 996.6 296.7 1000.3 293.3 1004.0 289.8 1007.7 286.4 1011.4 283.0 1015.2 279.7 1019.0 276.4 1022.8 273.1 1026.6 269.8 1030.5 266.6 1034.4 263.4 1038.3 260.3 1042.2 257.1 1046.2 254.0 1050.2 250.9 1054.2 247.9 1058.3 244.9 1062.3 241.9 1066.4 239.0 1070.5 236.1 1074.7 233.3 1078.9 230.5 1083.1 227.8 1087.3 225.1 1091.6 222.4 1095.9 219.8 1100.2 217.2 1104.6 214.7 1109.0 212.1 1113.4 209.7M1113.4 209.7 1113.1 214.7 1112.9 219.7 1112.6 224.8 1112.3 229.8 1112.0 234.8 1111.7 239.8 1111.4 244.8 1111.0 249.8 1110.6 254.9 1110.3 259.9 1109.9 264.9 1109.5 269.9 1109.1 274.9 1108.7 279.9 1108.2 284.9 1107.8 289.9 1107.4 294.9 1106.9 299.9 1106.4 304.9 1105.9 309.9 1105.4 314.9 1104.8 319.9 1104.3 324.9 1103.7 329.9 1103.0 334.9 1102.4 339.9 1101.8 344.9 1101.1 349.9 1100.4 354.9 1099.8 359.8 1099.0 364.8 1098.3 369.8 1097.6 374.8 1096.8 379.8 1096.0 384.7 1095.2 389.7 1094.4 394.7 1093.5 399.6 1092.6 404.6 1091.7 409.5 1090.8 414.5 1089.8 419.4 1088.8 424.3 1087.7 429.2 1086.5 434.1 1085.2 438.9 1083.9 443.8 1082.5 448.6 1081.1 453.5 1079.7 458.3 1078.4 463.2 1077.2 468.0 1075.9 472.9 1074.7 477.8 1073.5 482.7 1072.2 487.5 1070.8 492.4 1069.4 497.2 1067.9 502.0 1066.4 506.7 1064.7 511.5 1063.0 516.2 1061.2 520.9 1059.4 525.6 1057.5 530.3 1055.6 534.9 1053.6 539.5 1051.5 544.1 1049.3 548.6 1047.0 553.1 1044.6 557.5 1042.2 561.9 1039.7 566.3 1037.1 570.6 1034.5 574.9 1031.8 579.2 1029.1 583.4 1026.4 587.7 1023.6 591.9 1020.8 596.0 1017.9 600.1 1015.0 604.2 1012.0 608.2 1008.9 612.2 1005.6 616.0 1002.3 619.8 998.8 623.4 995.3 627.1 991.8 630.7 988.2 634.2 984.6 637.7 981.0 641.2 977.4 644.7 973.8 648.2 970.1 651.7 966.5 655.1 962.8 658.6 959.2 662.0 955.5 665.4 951.8 668.9 948.2 672.3 944.5 675.8 940.9 679.3 937.3 682.8 933.6 686.2 930.0 689.7 926.4 693.2 922.7 696.6 919.1 700.1 915.4 703.6 911.8 707.0 908.1 710.4 904.4 713.9 900.7 717.3 897.1 720.7 893.4 724.2 889.8 727.7 886.3 731.5 882.8 735.2 879.3 738.9 875.6 742.2 871.7 745.1 867.4 747.4 862.7 749.4 857.8 751.3 852.9 753.1 848.2 755.0 843.8 757.2 839.9 759.8 836.3 762.8 832.8 766.1 829.5 769.7 826.3 773.5 823.2 777.5 820.2 781.7 817.2 786.0 814.3 790.3 811.3 794.6 808.3 798.9 805.2 803.0 802.1 807.0 798.8 810.9 795.5 814.7 792.1 818.4 788.8 822.2 785.4 825.9 782.0 829.6 778.6 833.3 775.2 837.0 771.7 840.6 768.2 844.3 764.7 847.9 761.2 851.5 757.7 855.0 754.1 858.6 750.5 862.1 746.9 865.6 743.3 869.1 739.6 872.5 735.9 876.0 732.2 879.4 728.5 882.7 724.7 886.1 720.9 889.4 717.1 892.7 713.3 895.9 709.5 899.1 705.6 902.3 701.7 905.5 697.7 908.7 693.8 911.8 689.8 914.9 685.8 917.9 681.7 920.9 677.7 923.8 673.6 926.7 669.4 929.6 665.3 932.4 661.1 935.2 656.9 937.9 652.7 940.6 648.4 943.3 644.1 945.9 639.8 948.5 635.4 951.0 631.0 953.5M631.0 953.5 631.2 948.5 631.5 943.5 631.7 938.4 632.0 933.4 632.3 928.4 632.6 923.3 632.9 918.3 633.2 913.3 633.5 908.2 633.9 903.2 634.2 898.2 634.6 893.2 635.0 888.1 635.3 883.1 635.7 878.1 636.1 873.1 636.5 868.0 637.0 863.0 637.4 858.0 637.9 853.0 638.3 848.0 638.9 843.0 639.4 837.9 639.9 832.9 640.5 827.9 641.1 822.9 641.6 817.9 642.3 812.9 642.9 807.9 643.5 802.9 644.1 797.9 644.8 792.9 645.5 787.9 646.2 782.9 646.9 777.9 647.7 772.9 648.4 768.0 649.2 763.0 650.0 758.0 650.9 753.0 651.7 748.1 652.6 743.1 653.6 738.2 654.5 733.3 655.6 728.3 656.8 723.4 658.0 718.6 659.3 713.7 660.6 708.8 661.8 703.9 663.0 699.0 664.2 694.1 665.3 689.2 666.5 684.3 667.6 679.4 668.8 674.5 670.0 669.6 671.3 664.7 672.7 659.9 674.1 655.0 675.7 650.2 677.2 645.5 678.9 640.7 680.6 635.9 682.3 631.2 684.1 626.5 685.9 621.8 687.9 617.1 689.9 612.5 692.0 608.0 694.2 603.4 696.5 598.9 698.9 594.5 701.3 590.0 703.7 585.6 706.2 581.3 708.8 576.9 711.4 572.6 714.0 568.3 716.7 564.1 719.5 559.8 722.3 555.7 725.2 551.5 728.2 547.5 731.5 543.6 734.8 539.9 738.2 536.2 741.7 532.5 745.3 528.9 748.8 525.4 752.5 521.9 756.1 518.4 759.8 515.0 763.5 511.6 767.2 508.2 771.0 504.8 774.8 501.5 778.6 498.2 782.4 494.9 786.2 491.6 790.0 488.3 793.8 485.0 797.6 481.7 801.5 478.4 805.3 475.2 809.2 471.9 813.1 468.8 817.0 465.6 820.9 462.5 824.9 459.3 828.8 456.2 832.8 453.1 836.7 449.9 840.7 446.8 844.6 443.7 848.6 440.5 852.5 437.4 856.4 434.2 860.3 431.0 864.1 427.5 867.9 424.2 871.9 421.3 876.2 418.9 880.9 416.8 885.8 414.9 890.6 413.1 895.3 411.2 899.8 409.1 903.8 406.5 907.5 403.6 911.1 400.4 914.5 396.9 917.8 393.1 921.0 389.1 924.1 385.0 927.2 380.9 930.2 376.6 933.3 372.4 936.4 368.2 939.6 364.1 942.8 360.2 946.2 356.4 949.6 352.7 953.0 349.0 956.4 345.3 959.9 341.7 963.4 338.0 966.9 334.4 970.4 330.8 974.0 327.2 977.5 323.6 981.1 320.1 984.7 316.6 988.4 313.1 992.0 309.6 995.7 306.2 999.4 302.8 1003.1 299.4 1006.9 296.0 1010.7 292.6 1014.5 289.3 1018.3 286.0 1022.1 282.8 1026.0 279.6 1029.9 276.4 1033.8 273.2 1037.8 270.1 1041.7 267.0 1045.7 263.9 1049.8 260.8 1053.8 257.8 1057.9 254.9 1062.0 251.9 1066.1 249.1 1070.3 246.2 1074.5 243.4 1078.7 240.7 1082.9 238.0 1087.2 235.3 1091.5 232.7 1095.8 230.1 1100.1 227.5 1104.5 225.0 1108.9 222.5 1113.4 220.1M1113.4 220.1 1113.1 225.2 1112.9 230.2 1112.6 235.3 1112.3 240.3 1112.0 245.4 1111.7 250.4 1111.4 255.5 1111.0 260.5 1110.7 265.5 1110.3 270.6 1109.9 275.6 1109.5 280.6 1109.1 285.7 1108.7 290.7 1108.3 295.7 1107.8 300.8 1107.4 305.8 1106.9 310.8 1106.4 315.9 1105.9 320.9 1105.4 325.9 1104.8 331.0 1104.2 336.0 1103.6 341.0 1103.0 346.0 1102.4 351.0 1101.7 356.0 1101.1 361.0 1100.4 366.0 1099.7 371.1 1099.0 376.1 1098.2 381.1 1097.5 386.1 1096.7 391.1 1095.9 396.1 1095.1 401.1 1094.2 406.0 1093.3 411.0 1092.4 416.0 1091.5 420.9 1090.5 425.9 1089.5 430.8 1088.4 435.7 1087.1 440.6 1085.8 445.5 1084.5 450.4 1083.1 455.3 1081.8 460.1 1080.5 465.0 1079.2 469.9 1078.0 474.8 1076.8 479.7 1075.5 484.7 1074.3 489.5 1073.0 494.4 1071.6 499.3 1070.1 504.1 1068.6 508.9 1066.9 513.7 1065.2 518.5 1063.4 523.2 1061.6 527.9 1059.8 532.6 1057.9 537.3 1055.8 541.9 1053.8 546.5 1051.6 551.1 1049.3 555.6 1046.9 560.0 1044.4 564.5 1041.9 568.8 1039.3 573.2 1036.7 577.5 1034.1 581.8 1031.4 586.1 1028.6 590.3 1025.8 594.5 1022.9 598.7 1020.0 602.8 1017.0 606.9 1013.9 610.9 1010.6 614.7 1007.2 618.5 1003.7 622.1 1000.2 625.7 996.6 629.3 993.0 632.8 989.3 636.3 985.6 639.7 981.9 643.1 978.2 646.5 974.4 649.9 970.6 653.3 966.9 656.7 963.1 660.0 959.3 663.3 955.5 666.7 951.7 670.0 947.9 673.3 944.1 676.7 940.3 680.0 936.5 683.3 932.7 686.6 928.8 689.9 925.0 693.2 921.1 696.5 917.3 699.7 913.4 703.0 909.5 706.2 905.6 709.4 901.7 712.7 897.9 715.9 894.0 719.2 890.2 722.5 886.5 726.0 882.8 729.6 879.0 733.0 875.2 736.2 871.1 738.9 866.6 741.2 861.8 743.1 856.9 745.0 852.1 746.8 847.4 748.8 843.1 751.1 839.2 753.8 835.6 756.8 832.1 760.2 828.8 763.9 825.5 767.7 822.4 771.8 819.4 776.0 816.3 780.2 813.3 784.5 810.3 788.8 807.2 793.0 804.0 797.1 800.8 801.1 797.4 804.9 794.0 808.6 790.6 812.3 787.2 816.1 783.8 819.8 780.3 823.5 776.8 827.1 773.3 830.8 769.8 834.4 766.3 838.0 762.7 841.6 759.1 845.1 755.5 848.7 751.9 852.2 748.2 855.7 744.5 859.1 740.8 862.6 737.1 866.0 733.3 869.4 729.6 872.8 725.8 876.1 721.9 879.4 718.1 882.7 714.2 885.9 710.3 889.1 706.4 892.3 702.4 895.4 698.5 898.6 694.4 901.7 690.4 904.7 686.4 907.7 682.3 910.7 678.2 913.6 674.0 916.5 669.8 919.4 665.7 922.1 661.4 924.9 657.2 927.6 652.9 930.3 648.6 932.9 644.2 935.5 639.9 938.1 635.5 940.6 631.0 943.1M631.0 943.1 631.2 938.1 631.5 933.0 631.7 928.0 632.0 923.0 632.2 918.0 632.5 912.9 632.8 907.9 633.1 902.9 633.5 897.9 633.8 892.8 634.2 887.8 634.5 882.8 634.9 877.8 635.3 872.8 635.6 867.8 636.0 862.8 636.4 857.7 636.9 852.7 637.3 847.7 637.8 842.7 638.2 837.7 638.7 832.7 639.3 827.7 639.8 822.7 640.4 817.7 640.9 812.7 641.5 807.7 642.1 802.7 642.7 797.7 643.4 792.7 644.0 787.7 644.7 782.7 645.3 777.7 646.0 772.8 646.8 767.8 647.5 762.8 648.3 757.8 649.1 752.8 649.9 747.9 650.7 742.9 651.6 738.0 652.5 733.0 653.5 728.1 654.6 723.2 655.8 718.3 657.0 713.4 658.2 708.6 659.4 703.7 660.7 698.8 661.8 693.9 662.9 689.0 664.1 684.1 665.2 679.2 666.3 674.3 667.5 669.4 668.7 664.5 670.0 659.6 671.4 654.8 672.8 650.0 674.4 645.2 675.9 640.4 677.6 635.7 679.3 630.9 681.0 626.2 682.8 621.5 684.7 616.8 686.6 612.2 688.7 607.6 690.9 603.1 693.1 598.6 695.4 594.1 697.7 589.6 700.2 585.2 702.6 580.8 705.1 576.5 707.7 572.1 710.3 567.8 713.0 563.5 715.7 559.3 718.5 555.1 721.4 551.0 724.3 546.9 727.5 543.1 730.9 539.3 734.2 535.6 737.7 531.9 741.1 528.2 744.6 524.6 748.2 521.0 751.7 517.5 755.3 514.0 758.9 510.5 762.6 507.0 766.2 503.5 769.9 500.1 773.5 496.6 777.2 493.2 780.9 489.8 784.6 486.3 788.3 482.9 792.0 479.5 795.7 476.1 799.4 472.7 803.1 469.3 806.9 466.0 810.7 462.7 814.4 459.4 818.2 456.1 822.0 452.8 825.8 449.4 829.6 446.1 833.4 442.8 837.1 439.4 840.9 436.1 844.6 432.7 848.3 429.3 852.0 425.9 855.5 422.1 859.0 418.2 862.6 414.3 866.2 410.8 870.0 407.9 874.2 405.8 878.7 404.2 883.4 402.8 888.4 401.6 893.5 400.5 898.6 399.4 903.6 398.1 908.4 396.6 913.0 394.8 917.8 393.0 922.5 391.0 927.3 388.9 932.0 386.7 936.7 384.4 941.3 382.0 945.8 379.5 950.2 376.9 954.4 374.1 958.4 371.3 962.1 368.4 965.6 365.4 968.9 362.1 972.0 358.4 975.0 354.6 977.8 350.5 980.5 346.2 983.2 341.8 985.8 337.3 988.4 332.7 991.0 328.2 993.6 323.7 996.3 319.3 999.1 315.0 1002.0 310.8 1005.0 306.8 1008.0 302.7 1011.0 298.7 1014.0 294.6 1017.1 290.6 1020.1 286.6 1023.3 282.7 1026.4 278.7 1029.6 274.9 1032.8 271.0 1036.1 267.2 1039.4 263.5 1042.8 259.8 1046.2 256.1 1049.7 252.4 1053.2 248.8 1056.8 245.2 1060.4 241.7 1064.1 238.2 1067.8 234.8 1071.5 231.4 1075.3 228.1 1079.0 224.8 1082.9 221.4 1086.7 218.0 1090.6 214.6 1094.5 211.3 1098.6 208.1 1102.7 205.2 1106.8 202.5 1111.1 200.3 1115.6 198.3 1120.2 196.7 1125.0 195.1 1129.9 193.7 1134.8 192.5 1139.8 191.3 1144.7 190.1 1149.6 189.0 1154.5 187.9 1159.5 186.9 1164.4 186.0 1169.4 185.1 1174.3 184.4M1174.3 184.4 1174.1 189.4 1173.8 194.5 1173.5 199.5 1173.2 204.5 1172.9 209.6 1172.6 214.6 1172.2 219.6 1171.8 224.7 1171.5 229.7 1171.1 234.7 1170.6 239.8 1170.2 244.8 1169.8 249.8 1169.4 254.8 1168.9 259.9 1168.4 264.9 1168.0 269.9 1167.5 274.9 1167.0 280.0 1166.5 285.0 1166.0 290.0 1165.4 295.0 1164.8 300.0 1164.2 305.0 1163.6 310.0 1162.9 315.0 1162.2 320.0 1161.6 325.0 1160.9 330.0 1160.2 335.0 1159.4 340.0 1158.7 345.0 1157.9 350.0 1157.1 355.0 1156.3 360.0 1155.5 365.0 1154.7 370.0 1153.8 374.9 1152.9 379.9 1152.0 384.9 1151.1 389.8 1150.1 394.8 1149.1 399.7 1148.1 404.7 1147.0 409.6 1145.9 414.5 1144.7 419.4 1143.4 424.3 1142.0 429.1 1140.6 434.0 1139.1 438.8 1137.7 443.6 1136.2 448.5 1134.8 453.3 1133.4 458.2 1132.1 463.0 1130.7 467.9 1129.4 472.8 1128.1 477.7 1126.7 482.5 1125.2 487.3 1123.7 492.1 1122.1 496.9 1120.4 501.7 1118.6 506.4 1116.8 511.1 1114.9 515.8 1113.0 520.4 1111.0 525.1 1109.0 529.7 1106.9 534.3 1104.7 538.9 1102.4 543.4 1100.1 547.8 1097.6 552.2 1095.1 556.6 1092.5 560.9 1089.8 565.2 1087.1 569.5 1084.3 573.7 1081.5 577.9 1078.7 582.1 1075.8 586.2 1072.9 590.3 1069.9 594.4 1066.9 598.4 1063.8 602.4 1060.6 606.4 1057.4 610.3 1054.1 614.1 1050.7 617.8 1047.1 621.3 1043.4 624.7 1039.7 628.1 1035.9 631.5 1032.1 634.8 1028.2 638.1 1024.4 641.3 1020.4 644.5 1016.5 647.7 1012.6 650.8 1008.6 654.0 1004.7 657.1 1000.7 660.2 996.7 663.2 992.6 666.3 988.6 669.3 984.6 672.3 980.5 675.4 976.5 678.4 972.4 681.4 968.4 684.4 964.3 687.4 960.2 690.4 956.2 693.4 952.1 696.3 948.0 699.3 943.8 702.1 939.7 705.0 935.5 707.9 931.4 710.8 927.2 713.6 923.1 716.5 918.9 719.4 914.8 722.2 910.6 725.1 906.5 728.0 902.3 730.8 898.2 733.7 894.1 736.7 890.0 739.6 886.0 742.8 882.0 746.1 878.0 749.2 873.8 751.8 869.3 753.7 864.7 755.3 859.8 756.6 854.9 757.9 849.8 759.0 844.8 760.2 839.9 761.5 835.1 763.0 830.3 764.7 825.5 766.5 820.6 768.3 815.6 770.1 810.7 772.1 805.9 774.2 801.1 776.3 796.5 778.6 792.1 780.9 787.9 783.4 783.9 786.0 780.2 788.8 776.8 791.8 773.6 795.1 770.6 798.8 767.7 802.8 764.9 807.1 762.2 811.5 759.6 816.0 757.0 820.6 754.4 825.2 751.8 829.8 749.1 834.4 746.4 838.8 743.5 843.0 740.5 847.1 737.5 851.2 734.5 855.2 731.5 859.3 728.4 863.3 725.4 867.3 722.2 871.3 719.1 875.3 715.9 879.2 712.7 883.1 709.4 886.9 706.1 890.6 702.7 894.4 699.3 898.1 695.8 901.8 692.3 905.4 688.8 909.0 685.2 912.6 681.5 916.1 677.8 919.5 674.1 922.9 670.3 926.2 666.5 929.5 662.6 932.8 658.8 936.2 654.8 939.5 650.8 942.7 646.8 945.8 642.7 948.8 638.5 951.6 634.2 954.1 629.8 956.3 625.3 958.2 620.6 960.0 615.8 961.7 610.9 963.2 606.0 964.7 601.2 966.1 596.3 967.5 591.5 968.9 586.6 970.3 581.7 971.5 576.8 972.7 571.9 973.9M571.9 973.9 572.1 968.9 572.4 963.8 572.7 958.8 573.0 953.8 573.3 948.7 573.6 943.7 573.9 938.7 574.3 933.7 574.6 928.6 575.0 923.6 575.4 918.6 575.8 913.6 576.2 908.6 576.6 903.6 577.1 898.5 577.5 893.5 577.9 888.5 578.4 883.5 578.8 878.5 579.3 873.5 579.8 868.5 580.4 863.5 580.9 858.5 581.5 853.5 582.1 848.5 582.7 843.5 583.4 838.5 584.0 833.5 584.7 828.5 585.3 823.5 586.0 818.5 586.7 813.5 587.5 808.6 588.2 803.6 589.0 798.6 589.7 793.6 590.5 788.6 591.4 783.7 592.2 778.7 593.1 773.7 594.0 768.8 594.9 763.8 595.8 758.9 596.8 754.0 597.8 749.0 598.9 744.1 600.0 739.2 601.3 734.4 602.6 729.5 604.0 724.7 605.4 719.8 606.8 715.0 608.2 710.1 609.5 705.3 610.8 700.4 612.0 695.5 613.3 690.7 614.6 685.8 615.9 680.9 617.2 676.1 618.6 671.2 620.0 666.4 621.6 661.6 623.2 656.9 624.9 652.1 626.7 647.4 628.5 642.7 630.4 638.0 632.3 633.4 634.2 628.7 636.3 624.1 638.4 619.6 640.6 615.0 642.9 610.6 645.2 606.1 647.7 601.7 650.2 597.3 652.8 593.0 655.4 588.7 658.1 584.4 660.8 580.2 663.6 576.0 666.4 571.9 669.3 567.7 672.2 563.6 675.2 559.5 678.3 555.5 681.4 551.5 684.5 547.6 687.8 543.9 691.4 540.3 695.0 536.8 698.7 533.4 702.5 530.0 706.2 526.7 710.0 523.4 713.9 520.1 717.7 516.9 721.7 513.8 725.6 510.6 729.6 507.6 733.6 504.5 737.6 501.4 741.6 498.4 745.7 495.4 749.8 492.5 753.8 489.5 757.9 486.6 762.0 483.7 766.1 480.7 770.2 477.9 774.4 475.0 778.5 472.2 782.7 469.3 786.9 466.6 791.1 463.8 795.4 461.1 799.6 458.4 803.9 455.7 808.1 453.1 812.4 450.4 816.7 447.7 820.9 445.0 825.2 442.3 829.4 439.7 833.7 437.0 837.9 434.3 842.2 431.5 846.4 428.8 850.6 425.9 854.7 422.9 858.8 419.9 863.0 417.0 867.3 414.4 871.7 412.2 876.3 410.4 881.1 409.0 886.1 407.7 891.2 406.5 896.4 405.4 901.4 404.3 906.3 403.0 911.0 401.6 915.4 399.9 919.5 397.9 923.4 395.5 927.1 392.6 930.7 389.4 934.2 385.9 937.7 382.2 941.0 378.2 944.3 374.1 947.6 370.0 950.9 365.8 954.1 361.6 957.4 357.4 960.8 353.4 964.2 349.5 967.8 345.9 971.4 342.4 975.0 338.9 978.6 335.4 982.3 331.9 985.9 328.4 989.6 325.0 993.3 321.6 997.0 318.2 1000.8 314.8 1004.5 311.4 1008.3 308.1 1012.1 304.8 1015.9 301.5 1019.7 298.2 1023.5 294.9 1027.4 291.7 1031.2 288.5 1035.1 285.3 1039.0 282.1 1043.0 278.9 1046.9 275.8 1050.9 272.7 1054.8 269.6 1058.8 266.6 1062.9 263.5 1066.9 260.5 1071.0 257.6 1075.0 254.6 1079.1 251.7 1083.3 248.8 1087.4 245.9 1091.6 243.1 1095.7 240.3 1099.9 237.5 1104.1 234.7 1108.4 232.0 1112.6 229.3 1116.9 226.6 1121.2 224.0 1125.5 221.5 1129.9 218.9 1134.2 216.4 1138.6 213.9 1143.0 211.5 1147.4 209.1 1151.8 206.7 1156.3 204.4 1160.8 202.1 1165.3 199.8 1169.8 197.5 1174.3 195.3M1174.3 195.3 1174.1 200.4 1173.8 205.4 1173.5 210.4 1173.2 215.5 1172.9 220.5 1172.6 225.5 1172.2 230.6 1171.9 235.6 1171.5 240.6 1171.1 245.6 1170.7 250.7 1170.3 255.7 1169.8 260.7 1169.4 265.7 1168.9 270.7 1168.5 275.7 1168.0 280.8 1167.6 285.8 1167.1 290.8 1166.5 295.8 1166.0 300.8 1165.4 305.8 1164.8 310.8 1164.2 315.8 1163.6 320.8 1162.9 325.8 1162.3 330.8 1161.6 335.8 1160.9 340.8 1160.2 345.8 1159.4 350.8 1158.7 355.8 1157.9 360.7 1157.1 365.7 1156.3 370.7 1155.5 375.7 1154.7 380.7 1153.8 385.6 1152.9 390.6 1151.9 395.6 1151.0 400.5 1150.0 405.4 1149.0 410.4 1147.9 415.3 1146.8 420.2 1145.6 425.1 1144.3 429.9 1142.9 434.8 1141.5 439.6 1140.1 444.4 1138.6 449.3 1137.2 454.1 1135.8 459.0 1134.5 463.8 1133.2 468.7 1131.8 473.6 1130.5 478.4 1129.2 483.3 1127.8 488.1 1126.3 492.9 1124.7 497.7 1123.1 502.5 1121.4 507.2 1119.6 511.9 1117.7 516.6 1115.8 521.3 1113.9 525.9 1111.9 530.6 1109.8 535.2 1107.7 539.7 1105.4 544.3 1103.1 548.7 1100.7 553.1 1098.2 557.5 1095.6 561.9 1093.0 566.2 1090.3 570.4 1087.6 574.7 1084.8 578.9 1081.9 583.0 1079.1 587.1 1076.1 591.3 1073.1 595.3 1070.1 599.4 1067.0 603.4 1063.8 607.3 1060.6 611.2 1057.3 615.0 1053.7 618.5 1050.1 621.9 1046.3 625.3 1042.6 628.7 1038.8 632.0 1034.9 635.2 1031.0 638.5 1027.1 641.7 1023.2 644.8 1019.2 647.9 1015.2 650.9 1011.2 654.0 1007.1 657.0 1003.1 660.0 999.0 663.0 994.9 665.9 990.8 668.8 986.7 671.8 982.6 674.7 978.5 677.6 974.4 680.5 970.2 683.4 966.1 686.2 961.9 689.0 957.7 691.9 953.5 694.6 949.3 697.4 945.1 700.1 940.8 702.8 936.6 705.5 932.3 708.2 928.0 710.9 923.8 713.6 919.5 716.3 915.3 719.0 911.0 721.7 906.8 724.4 902.6 727.2 898.4 729.9 894.2 732.9 890.1 735.9 886.0 739.0 881.8 741.9 877.6 744.6 873.3 746.9 868.7 748.7 863.9 750.2 858.9 751.5 853.8 752.7 848.6 753.8 843.6 754.9 838.6 756.1 833.9 757.5 829.5 759.2 825.3 761.1 821.4 763.6 817.6 766.4 813.9 769.5 810.4 773.0 806.9 776.7 803.5 780.6 800.2 784.6 796.8 788.8 793.5 792.9 790.2 797.1 786.8 801.2 783.4 805.1 779.9 808.9 776.3 812.5 772.7 816.0 769.0 819.4 765.3 822.9 761.6 826.3 757.9 829.7 754.2 833.1 750.4 836.5 746.7 839.9 742.9 843.2 739.1 846.5 735.3 849.8 731.5 853.1 727.6 856.3 723.8 859.5 719.9 862.8 716.0 865.9 712.1 869.1 708.1 872.3 704.2 875.4 700.2 878.5 696.2 881.6 692.2 884.6 688.1 887.7 684.1 890.7 680.0 893.6 675.9 896.6 671.8 899.5 667.7 902.4 663.6 905.2 659.4 908.1 655.2 910.9 651.0 913.7 646.8 916.4 642.5 919.2 638.3 921.9 634.0 924.5 629.7 927.1 625.3 929.7 621.0 932.2 616.6 934.7 612.3 937.2 607.9 939.6 603.4 942.1 599.0 944.4 594.5 946.8 590.0 949.1 585.5 951.4 581.0 953.6 576.5 955.8 571.9 958.0M571.9 958.0 572.1 952.9 572.4 947.9 572.7 942.9 573.0 937.9 573.3 932.9 573.6 927.8 573.9 922.8 574.3 917.8 574.6 912.8 575.0 907.8 575.4 902.8 575.8 897.8 576.2 892.8 576.6 887.8 577.1 882.8 577.5 877.8 578.0 872.7 578.4 867.7 578.9 862.7 579.4 857.7 579.9 852.7 580.5 847.7 581.1 842.8 581.6 837.8 582.3 832.8 582.9 827.8 583.5 822.8 584.2 817.8 584.9 812.8 585.6 807.9 586.3 802.9 587.0 797.9 587.7 792.9 588.5 788.0 589.3 783.0 590.1 778.0 590.9 773.1 591.8 768.1 592.6 763.1 593.6 758.2 594.5 753.3 595.5 748.3 596.5 743.4 597.5 738.5 598.6 733.6 599.8 728.8 601.1 723.9 602.5 719.1 603.9 714.2 605.3 709.4 606.7 704.6 608.0 699.7 609.3 694.9 610.5 690.0 611.8 685.1 613.0 680.2 614.3 675.4 615.7 670.5 617.1 665.7 618.6 660.9 620.2 656.2 621.8 651.4 623.6 646.7 625.4 642.0 627.2 637.3 629.1 632.7 631.0 628.0 633.0 623.4 635.1 618.8 637.3 614.3 639.5 609.8 641.9 605.4 644.3 601.0 646.8 596.6 649.4 592.3 652.0 588.0 654.7 583.7 657.4 579.5 660.2 575.3 663.0 571.2 665.9 567.0 668.8 563.0 671.8 558.9 674.9 554.9 678.1 551.0 681.3 547.2 684.7 543.5 688.4 540.0 692.1 536.7 695.8 533.3 699.6 530.0 703.5 526.8 707.4 523.6 711.2 520.4 715.2 517.3 719.2 514.3 723.3 511.3 727.3 508.3 731.4 505.4 735.5 502.5 739.6 499.6 743.8 496.8 747.9 494.0 752.1 491.2 756.3 488.4 760.5 485.6 764.7 482.9 769.0 480.2 773.2 477.6 777.5 475.0 781.9 472.4 786.2 469.9 790.6 467.4 794.9 464.9 799.3 462.4 803.7 460.0 808.1 457.5 812.5 455.1 816.9 452.6 821.3 450.2 825.6 447.7 830.0 445.2 834.4 442.8 838.8 440.3 843.1 437.8 847.5 435.3 851.8 432.6 856.1 429.9 860.4 427.2 864.7 424.7 869.2 422.4 873.7 420.5 878.5 418.9 883.4 417.6 888.5 416.4 893.6 415.2 898.7 414.1 903.7 412.9 908.4 411.6 913.0 410.1 917.2 408.3 921.2 406.0 925.0 403.4 928.6 400.4 932.2 397.0 935.6 393.4 939.0 389.6 942.3 385.6 945.5 381.4 948.8 377.2 952.0 373.0 955.3 368.8 958.6 364.7 961.9 360.7 965.4 356.8 968.9 353.2 972.5 349.7 976.1 346.2 979.7 342.7 983.3 339.2 986.9 335.7 990.6 332.3 994.3 328.8 998.0 325.4 1001.7 322.0 1005.4 318.6 1009.1 315.3 1012.9 312.0 1016.7 308.6 1020.5 305.4 1024.3 302.1 1028.1 298.8 1031.9 295.6 1035.8 292.4 1039.7 289.2 1043.6 286.0 1047.5 282.9 1051.5 279.7 1055.4 276.6 1059.4 273.6 1063.4 270.5 1067.4 267.5 1071.5 264.5 1075.5 261.6 1079.6 258.6 1083.7 255.7 1087.8 252.8 1091.9 250.0 1096.1 247.1 1100.3 244.3 1104.5 241.5 1108.7 238.8 1112.9 236.1 1117.2 233.4 1121.4 230.8 1125.7 228.2 1130.0 225.6 1134.4 223.1 1138.7 220.6 1143.1 218.2 1147.5 215.7 1151.9 213.3 1156.4 211.0 1160.8 208.6 1165.3 206.3 1169.8 204.1 1174.3 201.8M1174.3 201.8 1174.1 206.9 1173.8 211.9 1173.6 217.0 1173.3 222.0 1173.0 227.0 1172.6 232.1 1172.3 237.1 1171.9 242.1 1171.5 247.2 1171.2 252.2 1170.8 257.2 1170.4 262.2 1169.9 267.3 1169.5 272.3 1169.1 277.3 1168.6 282.3 1168.2 287.3 1167.7 292.4 1167.2 297.4 1166.7 302.4 1166.1 307.4 1165.6 312.4 1165.0 317.4 1164.4 322.4 1163.8 327.5 1163.1 332.5 1162.5 337.5 1161.8 342.4 1161.1 347.4 1160.4 352.4 1159.7 357.4 1158.9 362.4 1158.2 367.4 1157.4 372.4 1156.6 377.4 1155.8 382.4 1154.9 387.3 1154.1 392.3 1153.2 397.3 1152.2 402.2 1151.3 407.2 1150.3 412.1 1149.3 417.1 1148.2 422.0 1147.1 426.9 1145.8 431.7 1144.5 436.6 1143.1 441.5 1141.7 446.3 1140.2 451.1 1138.8 456.0 1137.5 460.9 1136.2 465.7 1134.9 470.6 1133.6 475.5 1132.3 480.4 1131.0 485.2 1129.7 490.1 1128.2 494.9 1126.7 499.7 1125.1 504.5 1123.4 509.2 1121.6 514.0 1119.8 518.7 1117.9 523.4 1116.0 528.0 1114.0 532.7 1112.0 537.3 1109.8 541.9 1107.6 546.4 1105.3 550.9 1102.9 555.3 1100.5 559.7 1097.9 564.1 1095.3 568.4 1092.6 572.7 1089.9 576.9 1087.1 581.1 1084.3 585.3 1081.5 589.4 1078.5 593.6 1075.5 597.6 1072.5 601.7 1069.4 605.7 1066.2 609.6 1062.9 613.4 1059.5 617.0 1055.8 620.5 1052.0 623.9 1048.2 627.2 1044.4 630.5 1040.5 633.7 1036.6 636.9 1032.7 640.1 1028.7 643.1 1024.6 646.1 1020.6 649.1 1016.5 652.1 1012.4 655.0 1008.3 657.9 1004.1 660.8 999.9 663.6 995.7 666.4 991.5 669.2 987.3 671.9 983.1 674.7 978.8 677.4 974.6 680.1 970.3 682.7 966.0 685.3 961.6 687.9 957.3 690.4 952.9 692.9 948.5 695.4 944.1 697.8 939.7 700.3 935.2 702.7 930.8 705.2 926.4 707.6 922.0 710.1 917.6 712.5 913.2 715.0 908.8 717.4 904.4 719.9 900.0 722.4 895.7 724.9 891.3 727.6 887.0 730.3 882.7 733.0 878.3 735.4 873.8 737.6 869.2 739.3 864.3 740.8 859.3 742.1 854.2 743.3 849.1 744.4 844.0 745.6 839.1 746.8 834.4 748.2 829.9 749.8 825.8 751.8 821.8 754.2 818.0 756.9 814.3 760.1 810.7 763.5 807.2 767.2 803.8 771.0 800.5 775.1 797.1 779.2 793.8 783.3 790.5 787.5 787.1 791.6 783.7 795.5 780.2 799.4 776.6 803.0 772.9 806.4 769.3 809.9 765.6 813.3 761.9 816.8 758.2 820.2 754.4 823.6 750.7 826.9 746.9 830.3 743.1 833.6 739.3 837.0 735.5 840.3 731.7 843.5 727.8 846.8 724.0 850.0 720.1 853.2 716.2 856.4 712.2 859.5 708.3 862.7 704.3 865.8 700.3 868.9 696.3 872.0 692.3 875.1 688.3 878.1 684.2 881.1 680.2 884.0 676.1 887.0 672.0 889.9 667.8 892.8 663.7 895.6 659.5 898.5 655.3 901.3 651.1 904.1 646.9 906.8 642.6 909.6 638.3 912.2 634.0 914.9 629.7 917.5 625.4 920.1 621.1 922.6 616.7 925.1 612.3 927.6 607.9 930.0 603.5 932.4 599.0 934.8 594.6 937.1 590.1 939.4 585.5 941.7 581.0 943.9 576.5 946.1 571.9 948.3M571.9 948.3 572.1 943.3 572.4 938.2 572.7 933.2 572.9 928.2 573.2 923.2 573.6 918.1 573.9 913.1 574.2 908.1 574.6 903.0 575.0 898.0 575.4 893.0 575.8 888.0 576.2 883.0 576.6 878.0 577.0 872.9 577.5 867.9 577.9 862.9 578.3 857.9 578.8 852.9 579.3 847.9 579.9 842.9 580.4 837.9 581.0 832.8 581.6 827.8 582.2 822.8 582.8 817.8 583.5 812.9 584.1 807.9 584.8 802.9 585.5 797.9 586.2 792.9 586.9 787.9 587.7 782.9 588.5 777.9 589.2 773.0 590.1 768.0 590.9 763.0 591.8 758.0 592.7 753.1 593.6 748.1 594.5 743.2 595.5 738.3 596.6 733.4 597.7 728.5 598.9 723.6 600.2 718.7 601.6 713.9 602.9 709.0 604.3 704.2 605.6 699.3 606.9 694.4 608.2 689.5 609.4 684.6 610.6 679.8 611.9 674.9 613.2 670.0 614.5 665.2 616.0 660.4 617.5 655.6 619.1 650.8 620.8 646.0 622.6 641.3 624.4 636.6 626.2 631.9 628.1 627.3 630.1 622.6 632.1 618.0 634.3 613.4 636.5 608.9 638.8 604.5 641.2 600.1 643.7 595.7 646.2 591.3 648.9 587.0 651.5 582.7 654.2 578.5 657.0 574.2 659.8 570.1 662.6 565.9 665.5 561.8 668.5 557.7 671.6 553.7 674.8 549.8 678.0 545.9 681.5 542.3 685.1 538.8 688.8 535.4 692.6 532.1 696.4 528.7 700.2 525.5 704.0 522.2 707.9 519.0 711.8 515.8 715.8 512.7 719.8 509.7 723.8 506.6 727.9 503.6 731.9 500.6 736.0 497.7 740.1 494.7 744.2 491.8 748.3 488.9 752.4 486.0 756.6 483.1 760.7 480.3 764.9 477.5 769.1 474.8 773.4 472.1 777.6 469.4 781.9 466.7 786.2 464.0 790.5 461.4 794.7 458.7 799.0 456.1 803.3 453.5 807.6 450.8 811.9 448.2 816.2 445.5 820.4 442.8 824.7 440.1 828.9 437.5 833.2 434.8 837.5 432.1 841.7 429.4 845.9 426.6 850.2 423.9 854.4 421.2 858.6 418.4 862.8 415.6 867.0 412.6 871.1 409.8 875.6 408.2 880.3 406.9 885.2 405.8 890.2 404.9 895.3 404.1 900.4 403.4 905.5 402.7 910.6 401.9 915.7 401.1 920.6 400.2 925.5 399.0 930.1 397.6 934.8 396.0 939.4 394.1 943.9 392.1 948.5 389.9 953.0 387.5 957.5 385.0 961.9 382.3 966.3 379.6 970.6 376.8 974.9 373.9 979.0 370.9 983.2 367.9 987.2 364.9 991.2 361.9 995.0 358.9 998.8 355.7 1002.5 352.4 1006.1 348.9 1009.6 345.3 1013.1 341.6 1016.5 337.9 1019.9 334.1 1023.3 330.3 1026.7 326.5 1030.2 322.8 1033.6 319.0 1037.2 315.4 1040.7 311.9 1044.3 308.3 1047.9 304.8 1051.5 301.2 1055.0 297.7 1058.6 294.1 1062.2 290.6 1065.9 287.1 1069.5 283.6 1073.2 280.1 1076.9 276.7 1080.6 273.4 1084.4 270.0 1088.2 266.7 1092.0 263.5 1095.8 260.3 1099.7 257.1 1103.7 253.9 1107.6 250.7 1111.6 247.6 1115.6 244.5 1119.6 241.5 1123.6 238.5 1127.7 235.5 1131.8 232.6 1135.8 229.5 1139.9 226.4 1144.0 223.2 1148.1 220.0 1152.2 217.0 1156.4 214.0 1160.7 211.3 1165.0 208.8 1169.4 206.6 1173.9 204.9 1178.5 203.4 1183.3 202.2 1188.3 201.1 1193.3 200.1 1198.3 199.1 1203.3 198.2 1208.3 197.3 1213.2 196.4 1218.2 195.5 1223.2 194.7 1228.1 193.9 1233.1 193.2 1238.1 192.5M1238.1 192.5 1237.8 197.5 1237.5 202.5 1237.2 207.5 1236.8 212.5 1236.5 217.5 1236.1 222.5 1235.7 227.6 1235.2 232.6 1234.8 237.6 1234.4 242.6 1233.9 247.6 1233.4 252.6 1232.9 257.6 1232.4 262.6 1231.9 267.5 1231.4 272.5 1230.8 277.5 1230.3 282.5 1229.7 287.5 1229.2 292.5 1228.5 297.5 1227.9 302.5 1227.2 307.4 1226.5 312.4 1225.8 317.4 1225.0 322.4 1224.3 327.3 1223.5 332.3 1222.7 337.2 1221.9 342.2 1221.1 347.1 1220.2 352.1 1219.3 357.0 1218.4 362.0 1217.5 366.9 1216.6 371.9 1215.6 376.8 1214.6 381.8 1213.6 386.7 1212.6 391.6 1211.5 396.5 1210.4 401.4 1209.2 406.3 1208.0 411.1 1206.8 416.0 1205.5 420.8 1204.1 425.6 1202.6 430.4 1201.0 435.2 1199.4 439.9 1197.7 444.7 1196.1 449.5 1194.4 454.2 1192.9 459.0 1191.4 463.8 1189.9 468.6 1188.4 473.4 1186.9 478.2 1185.3 483.0 1183.7 487.7 1182.1 492.4 1180.3 497.1 1178.4 501.8 1176.5 506.4 1174.5 511.0 1172.4 515.6 1170.2 520.2 1168.1 524.7 1165.8 529.2 1163.5 533.6 1161.1 538.1 1158.7 542.5 1156.1 546.8 1153.5 551.0 1150.8 555.3 1148.0 559.4 1145.1 563.6 1142.2 567.7 1139.2 571.7 1136.1 575.7 1133.1 579.7 1130.0 583.6 1126.8 587.5 1123.6 591.4 1120.3 595.2 1117.0 599.0 1113.6 602.8 1110.2 606.4 1106.7 610.1 1103.2 613.6 1099.5 617.0 1095.6 620.2 1091.7 623.3 1087.7 626.4 1083.7 629.4 1079.6 632.3 1075.5 635.3 1071.4 638.2 1067.3 641.1 1063.2 643.9 1059.0 646.6 1054.7 649.3 1050.5 652.0 1046.3 654.7 1042.0 657.4 1037.7 660.0 1033.5 662.7 1029.2 665.3 1024.8 667.8 1020.5 670.4 1016.2 673.0 1011.9 675.5 1007.5 678.0 1003.2 680.5 998.8 683.0 994.5 685.5 990.1 687.9 985.7 690.4 981.2 692.7 976.8 695.1 972.4 697.4 967.9 699.7 963.4 702.1 959.0 704.3 954.5 706.6 950.0 708.9 945.6 711.2 941.1 713.5 936.6 715.8 932.2 718.1 927.7 720.4 923.3 722.7 918.8 725.0 914.4 727.4 909.9 729.7 905.5 732.1 901.1 734.5 896.7 737.1 892.3 739.8 888.0 742.5 883.6 745.0 879.1 747.2 874.6 749.1 870.0 750.6 865.2 751.8 860.3 752.9 855.3 753.8 850.3 754.6 845.2 755.4 840.2 756.2 835.1 757.0 830.1 757.8 825.2 758.8 820.4 759.9 815.7 761.2 811.1 762.8 806.4 764.5 801.8 766.4 797.2 768.5 792.7 770.8 788.2 773.2 783.7 775.7 779.3 778.3 774.9 781.0 770.6 783.8 766.3 786.7 762.2 789.6 758.1 792.5 754.1 795.4 750.2 798.4 746.4 801.5 742.7 804.8 739.1 808.2 735.6 811.7 732.1 815.4 728.7 819.1 725.3 822.9 721.9 826.7 718.5 830.5 715.1 834.3 711.6 838.0 708.1 841.6 704.6 845.2 701.0 848.7 697.5 852.3 693.9 855.8 690.3 859.4 686.7 862.9 683.2 866.4 679.6 869.9 675.9 873.4 672.3 876.9 668.6 880.3 664.9 883.7 661.2 887.0 657.4 890.3 653.6 893.5 649.7 896.7 645.8 899.9 641.9 903.0 638.0 906.2 634.0 909.3 630.0 912.3 626.0 915.4 622.0 918.4 618.0 921.4 614.0 924.5 610.0 927.5 606.0 930.8 602.0 934.1 598.1 937.5 594.1 940.8 590.0 944.0 585.9 947.0 581.8 949.8 577.5 952.1 573.1 954.1 568.6 955.6 563.9 956.8 559.0 957.9 554.0 958.9 548.9 959.8 543.9 960.6 538.9 961.5 534.0 962.3 529.0 963.0 524.0 963.7 519.1 964.4 514.1 965.0 509.1 965.5M509.1 965.5 509.3 960.5 509.6 955.5 510.0 950.5 510.3 945.5 510.6 940.4 511.0 935.4 511.4 930.4 511.8 925.4 512.2 920.4 512.7 915.4 513.1 910.4 513.6 905.4 514.1 900.4 514.6 895.4 515.1 890.4 515.6 885.4 516.1 880.4 516.6 875.4 517.1 870.4 517.7 865.4 518.3 860.5 518.9 855.5 519.6 850.5 520.3 845.5 521.0 840.5 521.7 835.5 522.4 830.6 523.2 825.6 524.0 820.7 524.8 815.7 525.6 810.7 526.4 805.8 527.2 800.8 528.1 795.9 529.0 790.9 529.9 786.0 530.8 781.0 531.8 776.1 532.8 771.1 533.8 766.2 534.9 761.3 536.0 756.4 537.1 751.5 538.2 746.6 539.4 741.8 540.7 736.9 542.1 732.1 543.6 727.3 545.2 722.6 546.8 717.8 548.4 713.0 550.0 708.2 551.5 703.4 553.0 698.6 554.4 693.8 555.9 689.0 557.3 684.2 558.8 679.4 560.3 674.6 561.9 669.8 563.5 665.1 565.3 660.4 567.1 655.7 569.1 651.1 571.1 646.5 573.1 641.9 575.2 637.3 577.4 632.8 579.6 628.3 581.9 623.8 584.2 619.3 586.7 614.9 589.2 610.6 591.8 606.4 594.5 602.1 597.3 597.9 600.2 593.8 603.1 589.6 606.0 585.6 609.0 581.6 612.1 577.6 615.1 573.6 618.3 569.7 621.5 565.8 624.7 561.9 628.0 558.1 631.4 554.4 634.8 550.7 638.3 547.1 642.0 543.6 645.8 540.5 649.8 537.3 653.7 534.3 657.8 531.3 661.8 528.3 665.9 525.4 670.0 522.5 674.2 519.6 678.3 516.8 682.6 514.1 686.8 511.4 691.1 508.8 695.4 506.1 699.7 503.5 704.0 500.9 708.3 498.4 712.6 495.8 717.0 493.4 721.3 490.9 725.7 488.4 730.1 485.9 734.5 483.5 738.9 481.1 743.3 478.8 747.8 476.4 752.3 474.2 756.8 471.9 761.3 469.7 765.8 467.5 770.3 465.3 774.9 463.2 779.4 461.0 784.0 458.9 788.5 456.8 793.1 454.7 797.6 452.6 802.2 450.4 806.7 448.3 811.3 446.2 815.8 444.0 820.4 441.9 824.9 439.7 829.5 437.6 834.0 435.4 838.5 433.3 843.1 431.1 847.6 428.7 852.0 426.3 856.5 423.9 861.0 421.6 865.6 419.6 870.2 417.8 874.9 416.4 879.8 415.2 884.8 414.2 889.8 413.3 895.0 412.5 900.1 411.7 905.3 410.9 910.4 410.2 915.4 409.4 920.4 408.5 925.2 407.5 929.8 406.3 934.3 405.0 938.5 403.4 942.6 401.3 946.7 398.9 950.6 396.1 954.4 393.0 958.1 389.6 961.8 386.1 965.5 382.4 969.1 378.5 972.7 374.6 976.3 370.7 979.9 366.8 983.5 363.0 987.2 359.2 991.0 355.7 994.8 352.3 998.7 349.1 1002.5 346.0 1006.5 342.8 1010.4 339.7 1014.3 336.5 1018.3 333.4 1022.2 330.3 1026.2 327.2 1030.2 324.2 1034.2 321.1 1038.2 318.1 1042.2 315.1 1046.3 312.1 1050.3 309.2 1054.4 306.2 1058.5 303.3 1062.6 300.4 1066.7 297.5 1070.8 294.7 1074.9 291.8 1079.1 289.0 1083.3 286.1 1087.5 283.4 1091.7 280.6 1095.9 277.8 1100.1 275.1 1104.3 272.4 1108.6 269.7 1112.8 267.1 1117.1 264.5 1121.4 261.9 1125.7 259.3 1130.0 256.7 1134.4 254.2 1138.7 251.7 1143.1 249.2 1147.5 246.7 1151.9 244.3 1156.3 241.9 1160.7 239.5 1165.2 237.1 1169.6 234.8 1174.1 232.5 1178.6 230.3 1183.1 228.0 1187.6 225.8 1192.1 223.7 1196.6 221.5 1201.2 219.4 1205.7 217.3 1210.3 215.2 1214.9 213.2 1219.5 211.2 1224.2 209.2 1228.8 207.2 1233.4 205.3 1238.1 203.4M1238.1 203.4 1237.8 208.5 1237.5 213.5 1237.2 218.5 1236.8 223.6 1236.5 228.6 1236.1 233.6 1235.7 238.7 1235.2 243.7 1234.8 248.7 1234.3 253.7 1233.9 258.8 1233.4 263.8 1232.9 268.8 1232.4 273.8 1231.9 278.8 1231.4 283.8 1230.8 288.8 1230.3 293.9 1229.7 298.9 1229.1 303.9 1228.4 308.9 1227.8 313.9 1227.1 318.9 1226.4 323.9 1225.6 328.9 1224.9 333.8 1224.1 338.8 1223.3 343.8 1222.5 348.8 1221.7 353.8 1220.8 358.7 1220.0 363.7 1219.1 368.7 1218.2 373.6 1217.2 378.6 1216.3 383.6 1215.3 388.5 1214.2 393.5 1213.2 398.4 1212.1 403.3 1211.0 408.3 1209.8 413.1 1208.6 418.0 1207.4 422.9 1206.0 427.7 1204.6 432.6 1203.0 437.4 1201.4 442.1 1199.7 446.9 1198.1 451.7 1196.5 456.5 1194.9 461.3 1193.4 466.1 1191.9 470.9 1190.4 475.7 1188.9 480.6 1187.4 485.4 1185.8 490.2 1184.1 494.9 1182.4 499.6 1180.5 504.3 1178.6 509.0 1176.5 513.6 1174.4 518.2 1172.3 522.8 1170.1 527.3 1167.9 531.8 1165.6 536.3 1163.2 540.7 1160.7 545.1 1158.1 549.5 1155.4 553.7 1152.7 557.9 1149.8 562.1 1146.9 566.3 1144.0 570.4 1141.0 574.4 1137.9 578.4 1134.8 582.4 1131.7 586.3 1128.5 590.2 1125.2 594.1 1121.9 597.9 1118.5 601.7 1115.1 605.4 1111.6 609.1 1108.1 612.6 1104.4 616.1 1100.5 619.2 1096.5 622.3 1092.5 625.4 1088.4 628.4 1084.3 631.3 1080.1 634.2 1076.0 637.0 1071.8 639.8 1067.6 642.6 1063.3 645.3 1059.1 648.0 1054.7 650.6 1050.4 653.2 1046.1 655.8 1041.7 658.3 1037.4 660.9 1033.0 663.4 1028.6 665.8 1024.2 668.3 1019.8 670.7 1015.3 673.2 1010.9 675.6 1006.5 678.0 1002.0 680.3 997.5 682.6 993.0 684.9 988.5 687.1 984.0 689.3 979.4 691.5 974.9 693.7 970.3 695.8 965.7 698.0 961.2 700.1 956.6 702.2 952.0 704.3 947.4 706.4 942.8 708.6 938.3 710.7 933.7 712.8 929.1 715.0 924.6 717.1 920.0 719.3 915.5 721.4 910.9 723.6 906.3 725.7 901.8 728.0 897.3 730.3 892.8 732.8 888.3 735.2 883.8 737.5 879.2 739.6 874.6 741.4 869.9 742.8 865.0 744.0 860.0 745.0 854.9 746.0 849.8 746.8 844.6 747.6 839.4 748.3 834.3 749.1 829.2 749.9 824.3 750.8 819.4 751.8 814.7 752.9 810.3 754.2 806.0 755.9 801.8 757.9 797.8 760.4 793.9 763.2 790.1 766.3 786.3 769.7 782.6 773.2 778.9 777.0 775.3 780.8 771.7 784.7 768.0 788.7 764.4 792.6 760.7 796.4 757.0 800.1 753.2 803.6 749.4 806.9 745.5 810.1 741.6 813.3 737.6 816.5 733.7 819.6 729.7 822.7 725.8 825.8 721.8 828.9 717.8 832.0 713.8 835.1 709.7 838.1 705.7 841.1 701.6 844.1 697.6 847.1 693.5 850.1 689.4 853.0 685.3 855.9 681.2 858.8 677.0 861.7 672.9 864.6 668.7 867.4 664.5 870.2 660.3 873.1 656.1 875.8 651.9 878.6 647.6 881.3 643.4 884.1 639.1 886.7 634.8 889.4 630.5 892.0 626.2 894.6 621.9 897.2 617.6 899.8 613.2 902.3 608.8 904.9 604.5 907.4 600.1 909.9 595.6 912.3 591.2 914.7 586.8 917.1 582.3 919.5 577.8 921.8 573.4 924.1 568.9 926.4 564.4 928.6 559.8 930.8 555.3 933.0 550.7 935.1 546.2 937.3 541.6 939.4 537.0 941.4 532.4 943.5 527.7 945.5 523.1 947.5 518.4 949.4 513.8 951.4 509.1 953.3M509.1 953.3 509.3 948.2 509.6 943.2 510.0 938.2 510.3 933.1 510.6 928.1 511.0 923.1 511.4 918.1 511.8 913.1 512.3 908.0 512.7 903.0 513.1 898.0 513.6 893.0 514.1 888.0 514.6 883.0 515.1 878.0 515.6 873.0 516.1 868.0 516.6 863.0 517.2 858.0 517.8 853.0 518.4 848.0 519.1 843.0 519.7 838.0 520.4 833.0 521.1 828.0 521.9 823.0 522.6 818.0 523.4 813.1 524.2 808.1 525.0 803.1 525.8 798.1 526.6 793.2 527.5 788.2 528.4 783.2 529.3 778.3 530.2 773.3 531.2 768.4 532.2 763.4 533.2 758.5 534.3 753.6 535.4 748.7 536.5 743.8 537.7 738.9 538.9 734.0 540.3 729.2 541.7 724.4 543.3 719.6 544.8 714.8 546.4 710.0 548.0 705.2 549.6 700.4 551.1 695.6 552.5 690.8 553.9 685.9 555.4 681.1 556.8 676.3 558.4 671.5 559.9 666.7 561.6 662.0 563.4 657.3 565.2 652.6 567.2 647.9 569.2 643.3 571.2 638.7 573.3 634.1 575.5 629.6 577.7 625.1 580.0 620.6 582.4 616.1 584.9 611.8 587.5 607.5 590.1 603.2 592.9 598.9 595.7 594.7 598.6 590.6 601.5 586.5 604.5 582.4 607.5 578.4 610.6 574.5 613.7 570.5 616.9 566.6 620.1 562.7 623.4 558.9 626.8 555.1 630.3 551.5 633.8 547.9 637.4 544.4 641.3 541.3 645.3 538.2 649.3 535.1 653.4 532.2 657.5 529.3 661.7 526.4 665.8 523.6 670.0 520.8 674.3 518.1 678.6 515.4 682.9 512.8 687.2 510.3 691.6 507.7 695.9 505.2 700.3 502.7 704.7 500.3 709.1 497.9 713.6 495.5 718.0 493.2 722.5 490.8 727.0 488.5 731.5 486.3 736.0 484.0 740.5 481.8 745.1 479.7 749.7 477.7 754.3 475.6 758.9 473.6 763.5 471.6 768.1 469.6 772.8 467.6 777.4 465.7 782.1 463.7 786.7 461.8 791.4 459.9 796.0 458.0 800.7 456.0 805.3 454.1 810.0 452.2 814.6 450.2 819.3 448.3 823.9 446.4 828.6 444.5 833.2 442.6 837.9 440.6 842.5 438.7 847.2 436.8 851.8 434.9 856.5 432.9 861.1 430.9 865.7 428.8 870.4 426.9 875.1 425.5 880.1 424.3 885.1 423.3 890.2 422.4 895.3 421.6 900.5 420.8 905.6 420.0 910.8 419.3 915.8 418.5 920.7 417.6 925.5 416.6 930.1 415.4 934.6 414.0 938.8 412.4 942.9 410.3 946.9 407.8 950.8 405.0 954.6 401.8 958.4 398.4 962.0 394.8 965.7 391.1 969.3 387.2 972.9 383.3 976.4 379.3 980.1 375.4 983.7 371.5 987.4 367.8 991.1 364.2 994.9 360.8 998.8 357.6 1002.7 354.4 1006.6 351.2 1010.5 348.0 1014.4 344.9 1018.4 341.7 1022.3 338.6 1026.3 335.5 1030.3 332.4 1034.3 329.4 1038.3 326.3 1042.3 323.3 1046.3 320.3 1050.4 317.3 1054.4 314.3 1058.5 311.4 1062.6 308.4 1066.7 305.5 1070.8 302.6 1075.0 299.7 1079.1 296.9 1083.3 294.0 1087.5 291.2 1091.7 288.4 1095.9 285.7 1100.1 282.9 1104.3 280.2 1108.6 277.5 1112.8 274.8 1117.1 272.2 1121.4 269.5 1125.7 266.9 1130.0 264.4 1134.4 261.8 1138.7 259.2 1143.1 256.7 1147.5 254.2 1151.9 251.8 1156.3 249.3 1160.7 246.9 1165.1 244.5 1169.6 242.2 1174.1 239.9 1178.5 237.6 1183.0 235.4 1187.5 233.1 1192.1 230.9 1196.6 228.8 1201.2 226.6 1205.7 224.5 1210.3 222.4 1214.9 220.4 1219.5 218.3 1224.1 216.3 1228.8 214.3 1233.4 212.4 1238.1 210.5M1238.1 210.5 1237.8 215.5 1237.5 220.5 1237.2 225.5 1236.9 230.6 1236.5 235.6 1236.1 240.6 1235.7 245.6 1235.3 250.6 1234.9 255.6 1234.4 260.7 1234.0 265.7 1233.5 270.7 1233.0 275.7 1232.5 280.7 1232.0 285.7 1231.5 290.7 1231.0 295.7 1230.4 300.7 1229.8 305.7 1229.2 310.7 1228.6 315.7 1227.9 320.7 1227.3 325.6 1226.5 330.6 1225.8 335.6 1225.1 340.6 1224.3 345.6 1223.5 350.5 1222.7 355.5 1221.9 360.4 1221.1 365.4 1220.2 370.4 1219.3 375.3 1218.4 380.3 1217.5 385.2 1216.5 390.2 1215.5 395.1 1214.5 400.1 1213.4 405.0 1212.4 409.9 1211.2 414.8 1210.1 419.7 1208.9 424.5 1207.6 429.4 1206.2 434.2 1204.7 439.0 1203.1 443.8 1201.5 448.6 1199.9 453.3 1198.3 458.1 1196.7 462.9 1195.3 467.7 1193.8 472.5 1192.3 477.4 1190.9 482.2 1189.4 487.0 1187.8 491.8 1186.2 496.5 1184.5 501.2 1182.6 505.9 1180.7 510.6 1178.7 515.2 1176.7 519.8 1174.6 524.4 1172.4 528.9 1170.2 533.4 1167.9 537.9 1165.5 542.4 1163.1 546.8 1160.5 551.1 1157.9 555.3 1155.2 559.6 1152.3 563.8 1149.5 567.9 1146.5 572.0 1143.6 576.1 1140.5 580.1 1137.5 584.0 1134.3 588.0 1131.1 591.9 1127.9 595.8 1124.6 599.6 1121.2 603.3 1117.8 607.0 1114.3 610.6 1110.7 614.1 1106.9 617.4 1102.9 620.5 1098.9 623.5 1094.8 626.5 1090.7 629.4 1086.6 632.2 1082.4 635.0 1078.2 637.8 1074.0 640.6 1069.7 643.2 1065.4 645.8 1061.0 648.3 1056.7 650.9 1052.3 653.3 1047.9 655.8 1043.5 658.3 1039.1 660.7 1034.7 663.0 1030.2 665.3 1025.7 667.6 1021.2 669.9 1016.7 672.2 1012.2 674.4 1007.7 676.6 1003.2 678.7 998.6 680.8 994.0 682.8 989.3 684.8 984.7 686.8 980.1 688.8 975.5 690.7 970.8 692.7 966.2 694.6 961.5 696.5 956.9 698.4 952.2 700.3 947.5 702.2 942.9 704.1 938.2 706.0 933.6 707.9 928.9 709.8 924.3 711.7 919.6 713.6 914.9 715.5 910.3 717.4 905.6 719.3 900.9 721.2 896.3 723.1 891.6 725.0 887.0 726.9 882.3 728.9 877.7 730.9 873.0 732.7 868.2 734.1 863.3 735.2 858.3 736.2 853.2 737.1 848.0 737.9 842.9 738.6 837.7 739.4 832.6 740.2 827.6 741.0 822.7 741.9 818.0 743.0 813.4 744.1 809.0 745.5 804.8 747.3 800.7 749.5 796.7 752.0 792.8 754.9 789.0 758.1 785.3 761.5 781.6 765.2 778.0 768.9 774.4 772.8 770.8 776.7 767.2 780.7 763.5 784.5 759.9 788.4 756.2 792.0 752.4 795.5 748.5 798.8 744.6 802.0 740.7 805.1 736.8 808.3 732.9 811.4 728.9 814.6 725.0 817.7 721.0 820.8 717.0 823.9 713.0 826.9 709.0 830.0 705.0 833.0 701.0 836.0 696.9 839.0 692.8 841.9 688.8 844.8 684.7 847.8 680.6 850.7 676.4 853.5 672.3 856.4 668.1 859.3 664.0 862.1 659.8 864.9 655.6 867.7 651.4 870.4 647.2 873.2 642.9 875.9 638.7 878.6 634.4 881.2 630.1 883.9 625.8 886.5 621.5 889.1 617.2 891.6 612.9 894.2 608.5 896.7 604.1 899.2 599.8 901.7 595.4 904.2 590.9 906.6 586.5 909.0 582.1 911.4 577.6 913.7 573.1 916.0 568.7 918.2 564.2 920.5 559.7 922.7 555.1 924.9 550.6 927.0 546.0 929.1 541.5 931.2 536.9 933.3 532.3 935.4 527.7 937.4 523.0 939.4 518.4 941.3 513.7 943.3 509.1 945.2M509.1 945.2 509.3 940.1 509.6 935.1 509.9 930.1 510.3 925.1 510.6 920.1 511.0 915.0 511.4 910.0 511.8 905.0 512.2 900.0 512.6 895.0 513.1 890.0 513.5 885.0 514.0 880.0 514.5 874.9 515.0 869.9 515.5 864.9 516.0 859.9 516.5 854.9 517.1 849.9 517.7 844.9 518.3 839.9 519.0 835.0 519.6 830.0 520.3 825.0 521.0 820.0 521.8 815.0 522.5 810.0 523.3 805.1 524.0 800.1 524.8 795.1 525.7 790.2 526.5 785.2 527.4 780.2 528.3 775.3 529.2 770.3 530.1 765.4 531.1 760.4 532.1 755.5 533.1 750.6 534.2 745.7 535.3 740.8 536.4 735.9 537.6 731.0 539.0 726.2 540.4 721.4 541.9 716.6 543.5 711.8 545.0 707.0 546.6 702.2 548.1 697.4 549.5 692.6 551.0 687.7 552.4 682.9 553.8 678.0 555.2 673.2 556.7 668.4 558.3 663.7 560.0 658.9 561.7 654.2 563.6 649.5 565.5 644.9 567.5 640.2 569.5 635.6 571.6 631.1 573.8 626.5 576.0 622.0 578.3 617.5 580.7 613.1 583.2 608.8 585.8 604.5 588.5 600.2 591.2 596.0 594.0 591.8 596.9 587.6 599.8 583.5 602.8 579.5 605.8 575.5 608.9 571.5 612.0 567.5 615.2 563.6 618.5 559.7 621.8 556.0 625.2 552.2 628.7 548.6 632.3 545.1 636.1 541.9 640.0 538.7 644.0 535.7 648.0 532.7 652.1 529.7 656.2 526.8 660.4 523.9 664.5 521.0 668.7 518.3 672.9 515.6 677.2 512.9 681.5 510.3 685.8 507.7 690.1 505.1 694.5 502.5 698.8 500.0 703.2 497.5 707.6 495.1 712.0 492.7 716.4 490.2 720.8 487.9 725.3 485.5 729.7 483.2 734.2 480.9 738.7 478.7 743.3 476.5 747.8 474.4 752.4 472.3 757.0 470.2 761.5 468.1 766.1 466.0 770.7 463.9 775.3 461.8 779.9 459.7 784.4 457.7 789.0 455.6 793.6 453.5 798.2 451.4 802.8 449.3 807.3 447.2 811.9 445.2 816.5 443.1 821.1 441.0 825.6 438.9 830.2 436.8 834.8 434.7 839.4 432.6 843.9 430.5 848.5 428.3 853.0 425.8 857.5 423.4 862.0 421.1 866.5 419.1 871.2 417.4 876.0 416.3 880.8 415.3 885.8 414.4 890.8 413.6 895.8 412.9 900.9 412.3 906.0 411.8 911.2 411.2 916.3 410.6 921.4 410.0 926.4 409.4 931.4 408.7 936.3 407.8 941.1 406.9 945.7 405.8 950.3 404.5 954.9 402.8 959.3 400.9 963.8 398.7 968.2 396.3 972.5 393.7 976.8 390.9 981.1 388.0 985.3 385.0 989.5 381.9 993.7 378.8 997.9 375.7 1002.0 372.6 1006.1 369.6 1010.2 366.7 1014.3 363.8 1018.3 360.8 1022.3 357.7 1026.3 354.6 1030.2 351.5 1034.0 348.2 1037.9 345.0 1041.8 341.8 1045.6 338.5 1049.5 335.3 1053.4 332.1 1057.3 328.9 1061.2 325.7 1065.2 322.7 1069.2 319.7 1073.3 316.7 1077.3 313.7 1081.4 310.7 1085.5 307.8 1089.6 304.8 1093.7 301.9 1097.8 299.0 1101.9 296.1 1106.0 293.3 1110.2 290.4 1114.4 287.6 1118.6 284.8 1122.7 282.1 1127.0 279.3 1131.2 276.6 1135.4 273.9 1139.7 271.2 1143.9 268.5 1148.2 265.8 1152.5 263.2 1156.8 260.6 1161.2 258.0 1165.5 255.5 1169.8 253.0 1174.2 250.5 1178.6 248.0 1183.0 245.5 1187.3 242.8 1191.7 240.2 1196.1 237.5 1200.5 234.8 1204.9 232.2 1209.3 229.6 1213.8 227.2 1218.3 224.9 1222.8 222.8 1227.4 220.9 1232.0 219.2 1236.7 217.9 1241.5 216.7 1246.4 215.8 1251.3 214.9 1256.3 214.2 1261.4 213.5 1266.4 212.7 1271.4 212.0 1276.4 211.3 1281.3 210.6 1286.3 209.9 1291.3 209.3 1296.3 208.6M1296.3 208.6 1296.0 213.7 1295.7 218.7 1295.3 223.7 1294.9 228.7 1294.5 233.8 1294.0 238.8 1293.6 243.8 1293.1 248.8 1292.6 253.8 1292.1 258.8 1291.6 263.8 1291.1 268.8 1290.5 273.8 1289.9 278.8 1289.4 283.8 1288.8 288.8 1288.2 293.8 1287.6 298.8 1286.9 303.8 1286.2 308.8 1285.5 313.8 1284.8 318.7 1284.0 323.7 1283.2 328.7 1282.4 333.7 1281.5 338.6 1280.6 343.6 1279.8 348.5 1278.9 353.5 1277.9 358.4 1277.0 363.4 1276.0 368.3 1275.0 373.3 1274.0 378.2 1272.9 383.1 1271.8 388.1 1270.7 393.0 1269.6 397.9 1268.4 402.8 1267.2 407.7 1265.9 412.5 1264.6 417.4 1263.3 422.2 1261.9 427.0 1260.3 431.8 1258.7 436.5 1256.9 441.3 1255.1 446.0 1253.3 450.7 1251.5 455.4 1249.7 460.1 1248.0 464.9 1246.4 469.6 1244.7 474.4 1243.1 479.1 1241.4 483.9 1239.7 488.6 1237.9 493.3 1236.1 498.0 1234.1 502.6 1232.0 507.2 1229.8 511.7 1227.6 516.3 1225.3 520.7 1222.9 525.2 1220.5 529.6 1218.1 534.0 1215.5 538.4 1212.9 542.7 1210.2 546.9 1207.4 551.0 1204.5 555.1 1201.5 559.2 1198.4 563.2 1195.3 567.2 1192.1 571.1 1188.9 575.0 1185.6 578.8 1182.3 582.6 1179.0 586.3 1175.6 590.0 1172.1 593.7 1168.6 597.4 1165.0 600.9 1161.4 604.5 1157.8 607.9 1154.0 611.3 1150.2 614.5 1146.2 617.6 1142.1 620.4 1137.9 623.2 1133.7 626.0 1129.4 628.7 1125.1 631.3 1120.8 633.9 1116.5 636.5 1112.2 639.1 1107.8 641.6 1103.4 644.0 1099.0 646.4 1094.5 648.8 1090.1 651.1 1085.6 653.4 1081.1 655.7 1076.6 658.0 1072.1 660.2 1067.6 662.5 1063.1 664.6 1058.5 666.8 1054.0 668.9 1049.4 671.1 1044.8 673.2 1040.3 675.3 1035.7 677.3 1031.1 679.4 1026.4 681.4 1021.8 683.3 1017.1 685.2 1012.5 687.1 1007.8 688.9 1003.1 690.8 998.4 692.6 993.8 694.5 989.1 696.3 984.4 698.2 979.7 700.0 975.0 701.8 970.3 703.6 965.6 705.4 960.9 707.2 956.2 709.1 951.5 710.9 946.8 712.7 942.1 714.5 937.5 716.4 932.8 718.2 928.1 720.0 923.4 721.8 918.7 723.6 914.0 725.5 909.3 727.3 904.6 729.2 899.9 731.0 895.3 732.9 890.6 734.8 886.0 736.8 881.3 738.9 876.7 740.8 871.9 742.2 867.1 743.3 862.1 744.2 857.2 745.1 852.1 745.8 847.1 746.5 842.0 747.1 836.8 747.6 831.7 748.2 826.7 748.8 821.6 749.4 816.6 750.1 811.7 750.9 806.8 751.7 802.0 752.7 797.4 753.8 792.8 755.3 788.2 757.0 783.7 758.9 779.3 761.1 774.8 763.5 770.5 766.1 766.1 768.9 761.8 771.7 757.5 774.7 753.3 777.7 749.1 780.7 744.9 783.7 740.7 786.7 736.6 789.7 732.4 792.5 728.4 795.4 724.4 798.4 720.4 801.5 716.5 804.6 712.6 807.8 708.7 811.0 704.8 814.3 701.0 817.6 697.1 820.8 693.2 824.1 689.3 827.3 685.4 830.4 681.5 833.6 677.5 836.6 673.4 839.6 669.4 842.6 665.3 845.6 661.3 848.6 657.2 851.5 653.1 854.4 649.0 857.3 644.9 860.2 640.7 863.1 636.6 866.0 632.4 868.8 628.2 871.6 624.0 874.4 619.8 877.1 615.6 879.9 611.4 882.6 607.1 885.3 602.9 887.9 598.6 890.6 594.3 893.2 590.0 895.9 585.7 898.4 581.3 901.0 577.0 903.6 572.6 906.1 568.3 908.6 563.9 911.1 559.6 913.8 555.2 916.5 550.9 919.3 546.5 922.1 542.2 924.9 537.8 927.6 533.4 930.2 528.9 932.6 524.4 934.8 519.9 936.8 515.3 938.5 510.6 939.9 505.9 940.9 501.0 941.8 496.1 942.6 491.0 943.3 486.0 943.9 480.9 944.5 475.9 945.1 470.9 945.7 465.9 946.2 460.9 946.8 455.9 947.3 450.9 947.8M450.9 947.8 451.2 942.8 451.5 937.7 451.9 932.7 452.3 927.7 452.7 922.6 453.1 917.6 453.6 912.6 454.0 907.6 454.5 902.6 455.0 897.6 455.5 892.5 456.1 887.5 456.6 882.5 457.2 877.5 457.7 872.5 458.3 867.5 458.9 862.5 459.5 857.5 460.2 852.5 460.9 847.6 461.6 842.6 462.3 837.6 463.1 832.6 463.9 827.6 464.7 822.6 465.6 817.7 466.4 812.7 467.3 807.8 468.2 802.8 469.1 797.9 470.1 792.9 471.0 787.9 472.0 783.0 473.1 778.1 474.1 773.1 475.2 768.2 476.3 763.3 477.5 758.3 478.7 753.5 479.9 748.6 481.1 743.7 482.5 738.9 483.8 734.0 485.3 729.2 486.9 724.5 488.5 719.7 490.3 715.0 492.1 710.3 493.9 705.5 495.7 700.8 497.4 696.1 499.0 691.3 500.6 686.5 502.3 681.8 503.9 677.0 505.6 672.2 507.3 667.5 509.1 662.8 511.1 658.2 513.1 653.6 515.2 649.0 517.4 644.5 519.7 640.0 522.0 635.5 524.4 631.1 526.8 626.6 529.3 622.3 531.9 617.9 534.6 613.7 537.4 609.5 540.3 605.4 543.2 601.3 546.3 597.2 549.4 593.2 552.5 589.3 555.7 585.4 559.0 581.6 562.3 577.8 565.6 574.0 569.0 570.3 572.4 566.6 575.9 562.9 579.5 559.3 583.1 555.8 586.8 552.3 590.5 549.0 594.4 545.8 598.4 542.8 602.6 539.9 606.8 537.1 611.0 534.4 615.3 531.8 619.6 529.1 623.9 526.6 628.3 524.0 632.7 521.5 637.1 519.1 641.5 516.7 646.0 514.4 650.5 512.1 655.0 509.8 659.5 507.6 664.0 505.4 668.5 503.2 673.1 501.0 677.7 498.9 682.3 496.8 686.9 494.8 691.5 492.7 696.1 490.7 700.7 488.7 705.4 486.8 710.0 484.8 714.7 482.9 719.4 481.1 724.1 479.4 728.8 477.6 733.5 475.9 738.3 474.2 743.0 472.5 747.8 470.8 752.5 469.1 757.3 467.4 762.0 465.7 766.8 464.1 771.5 462.4 776.3 460.8 781.0 459.1 785.8 457.4 790.6 455.8 795.3 454.1 800.1 452.5 804.8 450.9 809.6 449.2 814.4 447.6 819.1 446.0 823.9 444.3 828.7 442.7 833.4 441.1 838.2 439.4 843.0 437.8 847.7 436.1 852.4 434.3 857.2 432.5 861.9 430.7 866.7 429.1 871.5 427.8 876.4 426.7 881.3 425.8 886.4 424.9 891.4 424.2 896.6 423.5 901.7 422.9 906.9 422.3 912.0 421.7 917.2 421.1 922.3 420.5 927.3 419.9 932.3 419.2 937.2 418.4 942.0 417.6 946.8 416.6 951.3 415.6 955.8 414.3 960.2 412.6 964.4 410.6 968.6 408.3 972.7 405.6 976.8 402.7 980.8 399.6 984.7 396.3 988.6 392.8 992.5 389.3 996.4 385.7 1000.3 382.1 1004.2 378.5 1008.2 375.0 1012.1 371.6 1016.1 368.3 1020.2 365.2 1024.3 362.3 1028.5 359.5 1032.6 356.6 1036.8 353.8 1040.9 350.9 1045.1 348.1 1049.3 345.3 1053.5 342.5 1057.7 339.8 1061.9 337.0 1066.2 334.3 1070.4 331.6 1074.7 328.9 1078.9 326.2 1083.2 323.5 1087.5 320.9 1091.8 318.3 1096.1 315.7 1100.4 313.1 1104.8 310.5 1109.1 307.9 1113.5 305.4 1117.8 302.9 1122.2 300.4 1126.6 297.9 1131.0 295.4 1135.4 293.0 1139.8 290.6 1144.3 288.2 1148.7 285.8 1153.1 283.4 1157.6 281.1 1162.1 278.8 1166.6 276.5 1171.0 274.2 1175.6 272.0 1180.1 269.7 1184.6 267.5 1189.1 265.3 1193.7 263.1 1198.2 261.0 1202.8 258.8 1207.4 256.7 1212.0 254.6 1216.6 252.6 1221.2 250.6 1225.8 248.6 1230.4 246.6 1235.1 244.7 1239.7 242.7 1244.4 240.8 1249.1 239.0 1253.7 237.1 1258.4 235.3 1263.1 233.5 1267.8 231.7 1272.6 229.9 1277.3 228.2 1282.0 226.4 1286.8 224.7 1291.5 223.1 1296.3 221.4M1296.3 221.4 1296.0 226.4 1295.7 231.5 1295.3 236.5 1294.9 241.5 1294.5 246.5 1294.0 251.5 1293.6 256.5 1293.1 261.5 1292.6 266.5 1292.1 271.5 1291.6 276.5 1291.0 281.5 1290.5 286.5 1289.9 291.5 1289.3 296.5 1288.7 301.5 1288.1 306.4 1287.5 311.4 1286.8 316.4 1286.1 321.4 1285.4 326.4 1284.6 331.3 1283.8 336.3 1283.0 341.3 1282.2 346.2 1281.3 351.2 1280.4 356.1 1279.5 361.0 1278.6 366.0 1277.6 370.9 1276.7 375.9 1275.7 380.8 1274.6 385.7 1273.6 390.7 1272.5 395.6 1271.4 400.5 1270.2 405.4 1269.0 410.3 1267.8 415.1 1266.5 420.0 1265.2 424.8 1263.9 429.6 1262.4 434.4 1260.8 439.2 1259.1 443.9 1257.3 448.6 1255.5 453.3 1253.7 458.0 1251.9 462.7 1250.2 467.4 1248.5 472.2 1246.9 476.9 1245.3 481.7 1243.6 486.5 1241.9 491.2 1240.1 495.9 1238.3 500.5 1236.3 505.1 1234.2 509.7 1232.1 514.3 1229.8 518.8 1227.5 523.2 1225.2 527.7 1222.8 532.1 1220.3 536.5 1217.7 540.8 1215.1 545.1 1212.3 549.3 1209.5 553.4 1206.6 557.5 1203.6 561.5 1200.5 565.5 1197.4 569.5 1194.2 573.4 1190.9 577.2 1187.6 581.0 1184.3 584.7 1180.9 588.4 1177.5 592.1 1174.0 595.8 1170.4 599.4 1166.8 602.9 1163.2 606.3 1159.4 609.7 1155.6 612.9 1151.6 616.0 1147.5 618.8 1143.3 621.6 1139.1 624.3 1134.8 627.0 1130.5 629.5 1126.2 632.1 1121.8 634.6 1117.4 637.1 1113.0 639.5 1108.6 641.9 1104.1 644.2 1099.7 646.5 1095.2 648.7 1090.6 650.9 1086.1 653.1 1081.6 655.2 1077.0 657.4 1072.5 659.5 1067.9 661.5 1063.3 663.6 1058.7 665.6 1054.1 667.6 1049.4 669.5 1044.8 671.5 1040.1 673.4 1035.5 675.2 1030.8 677.0 1026.1 678.8 1021.4 680.5 1016.6 682.2 1011.9 683.9 1007.2 685.5 1002.4 687.2 997.7 688.9 992.9 690.5 988.2 692.2 983.4 693.8 978.7 695.4 973.9 697.1 969.2 698.7 964.4 700.3 959.7 701.9 954.9 703.6 950.1 705.2 945.4 706.8 940.6 708.4 935.9 710.0 931.1 711.6 926.3 713.2 921.6 714.8 916.8 716.4 912.1 718.0 907.3 719.7 902.6 721.3 897.8 723.1 893.1 724.9 888.4 726.7 883.6 728.4 878.9 729.9 874.1 731.2 869.2 732.3 864.3 733.3 859.3 734.1 854.2 734.9 849.1 735.6 844.0 736.2 838.8 736.8 833.7 737.4 828.5 738.0 823.4 738.6 818.4 739.2 813.4 739.9 808.5 740.6 803.7 741.4 798.9 742.4 794.3 743.4 789.8 744.6 785.5 746.2 781.2 748.1 777.0 750.4 772.9 752.9 768.9 755.8 764.9 758.9 761.0 762.1 757.0 765.6 753.2 769.1 749.3 772.7 745.4 776.3 741.5 779.9 737.6 783.4 733.7 786.9 729.7 790.2 725.7 793.4 721.6 796.3 717.5 799.2 713.4 802.0 709.2 804.9 705.1 807.7 700.9 810.6 696.8 813.4 692.6 816.2 688.4 819.0 684.2 821.7 680.0 824.5 675.8 827.2 671.5 829.9 667.3 832.6 663.0 835.3 658.8 837.9 654.5 840.6 650.2 843.2 645.9 845.8 641.6 848.3 637.3 850.9 632.9 853.5 628.6 856.0 624.2 858.5 619.9 861.0 615.5 863.5 611.1 866.0 606.7 868.4 602.3 870.8 597.9 873.2 593.5 875.6 589.0 877.9 584.6 880.2 580.1 882.5 575.6 884.8 571.2 887.1 566.7 889.3 562.1 891.6 557.6 893.8 553.1 896.0 548.6 898.1 544.0 900.3 539.4 902.4 534.9 904.5 530.3 906.5 525.7 908.6 521.1 910.6 516.5 912.6 511.9 914.5 507.2 916.4 502.6 918.4 498.0 920.2 493.3 922.1 488.6 924.0 483.9 925.8 479.2 927.6 474.5 929.4 469.8 931.1 465.1 932.8 460.4 934.5 455.6 936.2 450.9 937.9M450.9 937.9 451.2 932.8 451.5 927.8 451.9 922.8 452.3 917.8 452.7 912.7 453.1 907.7 453.5 902.7 454.0 897.7 454.5 892.7 455.0 887.6 455.5 882.6 456.1 877.6 456.6 872.6 457.2 867.6 457.7 862.6 458.3 857.6 458.9 852.6 459.5 847.6 460.2 842.6 460.9 837.7 461.6 832.7 462.4 827.7 463.1 822.7 464.0 817.7 464.8 812.8 465.6 807.8 466.5 802.8 467.4 797.9 468.3 792.9 469.2 788.0 470.2 783.0 471.2 778.1 472.2 773.1 473.2 768.2 474.3 763.3 475.4 758.3 476.6 753.4 477.7 748.5 479.0 743.6 480.2 738.8 481.5 733.9 482.9 729.1 484.3 724.3 485.9 719.5 487.6 714.8 489.4 710.1 491.2 705.3 493.0 700.6 494.7 695.9 496.4 691.1 498.0 686.3 499.6 681.6 501.2 676.8 502.8 672.0 504.5 667.3 506.3 662.6 508.2 657.9 510.2 653.3 512.2 648.7 514.4 644.1 516.6 639.6 518.9 635.1 521.3 630.7 523.7 626.2 526.1 621.9 528.7 617.5 531.4 613.2 534.1 609.0 537.0 604.9 539.9 600.8 542.9 596.7 546.0 592.7 549.1 588.8 552.3 584.9 555.6 581.0 558.8 577.2 562.2 573.5 565.6 569.7 569.0 566.0 572.5 562.3 576.1 558.8 579.7 555.3 583.4 551.8 587.2 548.6 591.1 545.4 595.2 542.5 599.4 539.7 603.6 537.0 607.9 534.3 612.2 531.7 616.6 529.2 621.0 526.6 625.3 524.2 629.8 521.7 634.2 519.4 638.7 517.1 643.2 514.9 647.8 512.7 652.3 510.5 656.9 508.4 661.4 506.3 666.0 504.2 670.6 502.1 675.3 500.2 679.9 498.2 684.5 496.3 689.2 494.4 693.9 492.5 698.6 490.7 703.3 488.9 708.0 487.1 712.8 485.5 717.5 483.8 722.3 482.2 727.1 480.6 731.9 479.1 736.7 477.6 741.5 476.0 746.3 474.5 751.1 473.0 755.9 471.5 760.7 470.0 765.5 468.5 770.3 467.0 775.1 465.5 779.9 464.0 784.8 462.6 789.6 461.1 794.4 459.7 799.2 458.2 804.1 456.8 808.9 455.4 813.7 453.9 818.5 452.5 823.4 451.1 828.2 449.7 833.0 448.2 837.9 446.8 842.7 445.2 847.5 443.7 852.3 442.2 857.1 440.7 862.0 439.3 866.8 438.0 871.7 436.9 876.6 435.9 881.6 435.0 886.7 434.2 891.8 433.5 896.9 432.8 902.1 432.2 907.2 431.6 912.3 431.0 917.5 430.4 922.6 429.8 927.6 429.1 932.6 428.4 937.4 427.6 942.2 426.7 946.9 425.7 951.5 424.6 956.0 423.4 960.3 421.7 964.6 419.7 968.8 417.3 972.9 414.6 976.9 411.7 980.9 408.6 984.8 405.3 988.8 401.8 992.7 398.3 996.6 394.7 1000.4 391.1 1004.4 387.5 1008.3 384.0 1012.2 380.6 1016.3 377.3 1020.3 374.2 1024.4 371.3 1028.6 368.4 1032.7 365.6 1036.9 362.7 1041.0 359.9 1045.2 357.1 1049.4 354.3 1053.6 351.5 1057.8 348.7 1062.0 346.0 1066.3 343.2 1070.5 340.5 1074.8 337.8 1079.0 335.1 1083.3 332.5 1087.6 329.8 1091.9 327.2 1096.2 324.6 1100.5 322.0 1104.8 319.5 1109.2 316.9 1113.5 314.4 1117.9 311.8 1122.3 309.3 1126.7 306.8 1131.1 304.4 1135.5 301.9 1139.9 299.5 1144.3 297.1 1148.7 294.7 1153.2 292.3 1157.7 290.0 1162.1 287.7 1166.6 285.4 1171.1 283.1 1175.6 280.9 1180.1 278.6 1184.6 276.4 1189.2 274.2 1193.7 272.0 1198.3 269.9 1202.8 267.7 1207.4 265.6 1212.0 263.6 1216.6 261.5 1221.2 259.5 1225.8 257.5 1230.5 255.5 1235.1 253.6 1239.7 251.6 1244.4 249.7 1249.1 247.9 1253.7 246.0 1258.4 244.2 1263.1 242.3 1267.8 240.5 1272.6 238.8 1277.3 237.0 1282.0 235.3 1286.8 233.6 1291.5 231.9 1296.3 230.3M1296.3 230.3 1296.0 235.3 1295.7 240.3 1295.3 245.4 1294.9 250.4 1294.5 255.4 1294.1 260.4 1293.6 265.4 1293.1 270.4 1292.6 275.4 1292.1 280.4 1291.6 285.4 1291.0 290.4 1290.5 295.4 1289.9 300.4 1289.3 305.4 1288.8 310.3 1288.2 315.3 1287.5 320.3 1286.8 325.3 1286.1 330.3 1285.4 335.2 1284.6 340.2 1283.8 345.2 1283.0 350.1 1282.1 355.1 1281.3 360.0 1280.4 365.0 1279.5 369.9 1278.5 374.9 1277.6 379.8 1276.6 384.7 1275.6 389.7 1274.6 394.6 1273.5 399.5 1272.4 404.4 1271.2 409.3 1270.1 414.2 1268.9 419.1 1267.6 424.0 1266.3 428.8 1265.0 433.6 1263.5 438.4 1261.9 443.2 1260.2 447.9 1258.4 452.6 1256.7 457.3 1254.9 462.0 1253.1 466.7 1251.4 471.5 1249.8 476.2 1248.2 481.0 1246.5 485.8 1244.9 490.5 1243.2 495.2 1241.4 499.9 1239.5 504.6 1237.5 509.2 1235.4 513.7 1233.2 518.3 1231.0 522.8 1228.7 527.2 1226.3 531.7 1223.9 536.1 1221.4 540.4 1218.8 544.7 1216.1 549.0 1213.3 553.1 1210.4 557.2 1207.4 561.3 1204.4 565.3 1201.3 569.3 1198.1 573.2 1194.9 577.1 1191.6 580.9 1188.3 584.6 1184.9 588.4 1181.5 592.1 1178.0 595.7 1174.5 599.3 1170.9 602.9 1167.2 606.3 1163.5 609.6 1159.6 612.8 1155.6 615.8 1151.5 618.7 1147.3 621.4 1143.0 624.1 1138.7 626.7 1134.3 629.2 1130.0 631.7 1125.6 634.2 1121.2 636.6 1116.7 638.9 1112.3 641.2 1107.8 643.5 1103.2 645.6 1098.7 647.8 1094.1 649.9 1089.6 652.0 1085.0 654.1 1080.4 656.1 1075.8 658.1 1071.1 660.0 1066.5 661.9 1061.8 663.8 1057.2 665.7 1052.5 667.5 1047.8 669.3 1043.1 671.0 1038.3 672.7 1033.6 674.3 1028.8 675.9 1024.0 677.4 1019.2 679.0 1014.4 680.5 1009.7 682.0 1004.9 683.5 1000.1 685.0 995.3 686.5 990.5 687.9 985.6 689.4 980.8 690.9 976.0 692.3 971.2 693.8 966.4 695.2 961.6 696.6 956.8 698.1 952.0 699.5 947.1 700.9 942.3 702.3 937.5 703.7 932.7 705.1 927.8 706.5 923.0 707.9 918.2 709.3 913.4 710.7 908.5 712.1 903.7 713.6 898.9 715.1 894.1 716.6 889.3 718.1 884.4 719.5 879.6 720.8 874.7 722.0 869.8 723.0 864.9 723.9 859.9 724.8 854.8 725.5 849.7 726.2 844.6 726.8 839.4 727.4 834.3 728.0 829.2 728.6 824.1 729.2 819.0 729.9 814.0 730.6 809.1 731.3 804.3 732.2 799.6 733.1 794.9 734.1 790.4 735.3 786.0 736.8 781.8 738.7 777.6 740.9 773.4 743.4 769.4 746.2 765.4 749.3 761.4 752.5 757.5 755.9 753.6 759.4 749.7 763.0 745.8 766.6 742.0 770.1 738.0 773.7 734.1 777.1 730.1 780.5 726.1 783.6 722.0 786.6 717.9 789.4 713.7 792.3 709.6 795.1 705.4 797.9 701.3 800.8 697.1 803.6 692.9 806.3 688.7 809.1 684.5 811.9 680.3 814.6 676.1 817.3 671.8 820.0 667.6 822.7 663.3 825.4 659.0 828.0 654.7 830.6 650.5 833.2 646.1 835.8 641.8 838.4 637.5 840.9 633.2 843.5 628.8 846.0 624.5 848.5 620.1 851.0 615.7 853.5 611.3 855.9 606.9 858.3 602.5 860.7 598.1 863.1 593.6 865.5 589.2 867.8 584.7 870.1 580.2 872.4 575.8 874.7 571.3 876.9 566.8 879.2 562.3 881.4 557.7 883.6 553.2 885.8 548.7 887.9 544.1 890.0 539.5 892.1 535.0 894.2 530.4 896.3 525.8 898.3 521.2 900.3 516.6 902.3 511.9 904.2 507.3 906.1 502.6 908.0 498.0 909.9 493.3 911.8 488.6 913.6 484.0 915.4 479.3 917.2 474.6 919.0 469.8 920.7 465.1 922.4 460.4 924.1 455.6 925.8 450.9 927.4M450.9 927.4 451.2 922.4 451.5 917.4 451.9 912.4 452.2 907.4 452.7 902.3 453.1 897.3 453.5 892.3 454.0 887.3 454.5 882.3 455.0 877.3 455.5 872.3 456.0 867.3 456.6 862.3 457.1 857.3 457.7 852.4 458.3 847.4 458.9 842.4 459.5 837.4 460.2 832.4 460.9 827.4 461.6 822.5 462.4 817.5 463.2 812.5 464.0 807.6 464.8 802.6 465.7 797.7 466.6 792.7 467.5 787.8 468.4 782.8 469.3 777.9 470.3 772.9 471.3 768.0 472.3 763.1 473.4 758.1 474.5 753.2 475.6 748.3 476.8 743.4 478.0 738.6 479.2 733.7 480.5 728.9 481.9 724.0 483.4 719.3 485.0 714.5 486.7 709.8 488.4 705.1 490.2 700.3 492.0 695.6 493.6 690.9 495.3 686.1 496.9 681.3 498.5 676.6 500.1 671.8 501.7 667.0 503.4 662.3 505.2 657.7 507.2 653.0 509.2 648.4 511.3 643.9 513.5 639.3 515.8 634.8 518.1 630.4 520.4 625.9 522.9 621.5 525.4 617.2 528.0 612.9 530.7 608.7 533.6 604.5 536.5 600.4 539.4 596.4 542.5 592.3 545.6 588.4 548.8 584.5 552.0 580.6 555.3 576.8 558.6 573.1 562.0 569.3 565.4 565.6 568.9 561.9 572.4 558.4 576.1 554.9 579.8 551.5 583.5 548.2 587.5 545.2 591.6 542.2 595.8 539.4 600.0 536.7 604.3 534.0 608.6 531.4 612.9 528.9 617.2 526.3 621.6 523.8 626.0 521.4 630.4 519.0 634.9 516.7 639.3 514.4 643.8 512.2 648.4 510.0 652.9 507.8 657.4 505.6 662.0 503.5 666.5 501.4 671.1 499.3 675.7 497.3 680.3 495.3 685.0 493.3 689.6 491.4 694.3 489.5 698.9 487.6 703.6 485.8 708.3 484.1 713.0 482.3 717.8 480.6 722.5 478.9 727.2 477.3 732.0 475.6 736.7 474.0 741.5 472.3 746.2 470.7 751.0 469.0 755.7 467.4 760.5 465.7 765.2 464.1 770.0 462.5 774.7 460.8 779.5 459.2 784.3 457.6 789.0 456.0 793.8 454.4 798.5 452.7 803.3 451.1 808.0 449.5 812.8 447.9 817.6 446.3 822.3 444.7 827.1 443.0 831.8 441.4 836.6 439.7 841.3 437.9 846.0 436.1 850.8 434.3 855.5 432.6 860.2 430.9 865.0 429.4 869.8 428.2 874.7 427.1 879.6 426.2 884.6 425.4 889.6 424.6 894.7 424.0 899.8 423.4 905.0 422.8 910.1 422.3 915.2 421.8 920.4 421.3 925.5 420.8 930.6 420.2 935.6 419.7 940.6 419.0 945.5 418.3 950.3 417.6 955.1 416.7 959.8 415.7 964.3 414.6 968.8 413.2 973.2 411.4 977.4 409.2 981.6 406.6 985.7 403.7 989.8 400.6 993.9 397.4 997.9 394.0 1001.9 390.6 1006.0 387.3 1010.0 384.0 1014.1 380.8 1018.3 377.9 1022.5 375.1 1026.8 372.4 1031.0 369.7 1035.3 367.1 1039.5 364.4 1043.8 361.7 1048.1 359.1 1052.4 356.5 1056.7 353.9 1061.0 351.3 1065.3 348.8 1069.7 346.2 1074.0 343.7 1078.4 341.2 1082.7 338.7 1087.1 336.2 1091.5 333.8 1095.9 331.4 1100.3 329.0 1104.7 326.6 1109.2 324.2 1113.6 321.8 1118.1 319.5 1122.5 317.2 1127.0 314.9 1131.5 312.6 1135.9 310.3 1140.4 308.1 1144.9 305.8 1149.4 303.6 1154.0 301.4 1158.5 299.2 1163.0 297.0 1167.5 294.9 1172.1 292.7 1176.6 290.5 1181.2 288.4 1185.7 286.3 1190.3 284.2 1194.9 282.1 1199.5 280.0 1204.1 278.0 1208.7 276.0 1213.3 274.0 1217.9 272.0 1222.5 270.0 1227.1 268.1 1231.8 266.1 1236.4 264.0 1241.0 261.9 1245.7 259.7 1250.3 257.6 1254.9 255.5 1259.6 253.5 1264.3 251.5 1269.0 249.7 1273.7 247.9 1278.4 246.3 1283.2 244.8 1288.0 243.5 1292.8 242.4 1297.7 241.6 1302.6 240.9 1307.6 240.3 1312.6 239.8 1317.6 239.3 1322.6 238.7 1327.6 238.0 1332.6 237.2 1337.5 236.4 1342.5 235.5 1347.4 234.6 1352.4 233.7 1357.3 232.6M1357.3 232.6 1356.9 237.7 1356.5 242.7 1356.1 247.7 1355.6 252.7 1355.1 257.7 1354.6 262.8 1354.0 267.8 1353.4 272.8 1352.8 277.8 1352.2 282.7 1351.6 287.7 1350.9 292.7 1350.3 297.7 1349.6 302.7 1348.9 307.7 1348.2 312.6 1347.4 317.6 1346.7 322.6 1345.8 327.5 1345.0 332.5 1344.1 337.5 1343.1 342.4 1342.2 347.4 1341.2 352.3 1340.2 357.2 1339.1 362.1 1338.1 367.0 1337.0 372.0 1335.8 376.9 1334.7 381.8 1333.5 386.7 1332.3 391.6 1331.1 396.5 1329.8 401.4 1328.4 406.2 1327.1 411.1 1325.7 415.9 1324.2 420.7 1322.7 425.5 1321.2 430.3 1319.6 435.0 1317.8 439.7 1315.9 444.4 1313.9 449.0 1311.9 453.6 1309.7 458.2 1307.6 462.8 1305.6 467.4 1303.6 472.0 1301.6 476.6 1299.7 481.3 1297.8 486.0 1295.9 490.6 1293.9 495.2 1291.8 499.8 1289.6 504.3 1287.3 508.8 1284.9 513.2 1282.4 517.5 1279.8 521.9 1277.1 526.2 1274.4 530.4 1271.6 534.6 1268.8 538.8 1265.9 542.9 1262.9 546.9 1259.8 550.9 1256.6 554.7 1253.3 558.5 1250.0 562.3 1246.5 566.0 1243.1 569.7 1239.5 573.3 1236.0 576.8 1232.3 580.3 1228.7 583.8 1225.0 587.2 1221.3 590.6 1217.5 594.0 1213.7 597.3 1209.8 600.5 1205.9 603.7 1201.9 606.8 1197.9 609.8 1193.8 612.6 1189.5 615.3 1185.2 617.9 1180.8 620.4 1176.4 622.8 1172.0 625.1 1167.5 627.4 1163.0 629.7 1158.5 632.0 1154.0 634.2 1149.5 636.4 1144.9 638.6 1140.3 640.7 1135.7 642.7 1131.1 644.7 1126.5 646.7 1121.9 648.7 1117.3 650.7 1112.6 652.6 1108.0 654.6 1103.3 656.5 1098.7 658.4 1094.0 660.2 1089.3 662.0 1084.6 663.9 1079.9 665.7 1075.2 667.5 1070.5 669.2 1065.8 671.0 1061.0 672.7 1056.3 674.4 1051.6 676.1 1046.8 677.7 1042.0 679.3 1037.2 680.9 1032.5 682.4 1027.7 684.0 1022.9 685.5 1018.1 687.1 1013.3 688.6 1008.5 690.2 1003.7 691.7 998.9 693.3 994.1 694.8 989.4 696.3 984.6 697.8 979.8 699.4 975.0 700.9 970.2 702.5 965.4 704.0 960.6 705.5 955.8 707.1 951.0 708.6 946.2 710.1 941.4 711.7 936.6 713.2 931.8 714.7 927.1 716.3 922.3 717.8 917.5 719.4 912.7 720.9 907.9 722.5 903.1 724.1 898.4 725.8 893.6 727.6 888.9 729.3 884.1 731.0 879.3 732.5 874.5 733.8 869.6 734.8 864.7 735.7 859.7 736.5 854.7 737.3 849.7 737.9 844.6 738.5 839.6 739.1 834.5 739.6 829.4 740.1 824.3 740.7 819.2 741.2 814.2 741.8 809.2 742.4 804.2 743.1 799.3 743.9 794.5 744.7 789.7 745.7 785.0 746.7 780.3 748.1 775.7 749.7 771.1 751.6 766.6 753.7 762.1 756.1 757.7 758.5 753.3 761.1 748.8 763.8 744.5 766.5 740.1 769.2 735.7 771.9 731.3 774.6 727.0 777.2 722.6 779.7 718.2 782.2 713.9 784.7 709.6 787.3 705.3 789.9 701.0 792.6 696.7 795.3 692.5 797.9 688.2 800.6 683.9 803.3 679.7 805.9 675.4 808.6 671.1 811.2 666.7 813.8 662.4 816.3 658.0 818.7 653.6 821.2 649.2 823.6 644.8 826.0 640.4 828.4 635.9 830.8 631.5 833.2 627.0 835.5 622.6 837.8 618.1 840.2 613.6 842.4 609.1 844.7 604.6 847.0 600.1 849.2 595.6 851.4 591.1 853.7 586.6 855.8 582.0 858.0 577.5 860.2 572.9 862.3 568.4 864.5 563.8 866.6 559.2 868.7 554.7 870.8 550.1 872.9 545.5 875.0 540.9 877.0 536.3 879.0 531.7 881.1 527.1 883.1 522.5 885.1 517.8 887.1 513.2 889.1 508.6 891.2 504.0 893.4 499.4 895.5 494.8 897.7 490.2 899.8 485.5 901.8 480.9 903.9 476.2 905.8 471.6 907.6 466.9 909.4 462.1 911.0 457.4 912.4 452.6 913.7 447.7 914.9 442.8 915.9 437.9 916.7 432.9 917.6 427.9 918.3 422.9 919.1 417.9 919.8 412.9 920.6 408.0 921.3 403.0 922.0 398.0 922.7 393.0 923.4 388.0 924.0M388.0 924.0 388.4 919.0 388.8 914.0 389.3 909.0 389.7 904.0 390.2 899.0 390.8 894.0 391.3 889.0 391.9 884.0 392.5 879.0 393.1 874.0 393.7 869.0 394.4 864.0 395.0 859.1 395.7 854.1 396.4 849.1 397.1 844.1 397.9 839.2 398.7 834.2 399.5 829.3 400.3 824.3 401.2 819.4 402.2 814.4 403.1 809.5 404.1 804.5 405.2 799.6 406.2 794.7 407.3 789.8 408.4 784.9 409.5 780.0 410.6 775.1 411.8 770.2 413.0 765.3 414.3 760.4 415.6 755.5 416.9 750.7 418.3 745.8 419.7 741.0 421.2 736.2 422.7 731.4 424.3 726.7 425.9 722.0 427.7 717.3 429.6 712.7 431.7 708.1 433.8 703.5 435.9 698.9 437.9 694.3 440.0 689.7 441.9 685.1 443.8 680.4 445.7 675.8 447.7 671.1 449.6 666.5 451.6 661.9 453.8 657.4 456.0 652.9 458.4 648.5 460.9 644.1 463.4 639.7 466.0 635.4 468.7 631.2 471.4 627.0 474.2 622.8 477.1 618.6 480.1 614.6 483.2 610.6 486.3 606.7 489.6 602.9 492.9 599.1 496.3 595.4 499.7 591.7 503.2 588.1 506.8 584.5 510.4 581.0 514.0 577.6 517.7 574.1 521.4 570.7 525.1 567.4 529.0 564.1 532.8 560.8 536.7 557.6 540.7 554.5 544.7 551.6 548.8 548.7 553.1 546.0 557.4 543.5 561.8 541.0 566.2 538.6 570.7 536.3 575.2 534.1 579.7 531.8 584.2 529.6 588.8 527.5 593.3 525.3 597.9 523.2 602.5 521.2 607.1 519.2 611.7 517.3 616.4 515.4 621.0 513.5 625.7 511.6 630.4 509.8 635.0 507.9 639.7 506.1 644.4 504.3 649.2 502.6 653.9 500.9 658.6 499.2 663.3 497.5 668.1 495.9 672.8 494.2 677.6 492.6 682.4 491.0 687.2 489.5 692.0 488.0 696.8 486.6 701.6 485.1 706.4 483.7 711.2 482.3 716.1 480.9 720.9 479.6 725.7 478.2 730.6 476.8 735.4 475.4 740.2 474.1 745.1 472.7 749.9 471.4 754.8 470.1 759.6 468.7 764.5 467.4 769.3 466.0 774.1 464.7 779.0 463.4 783.8 462.0 788.7 460.7 793.5 459.4 798.4 458.1 803.2 456.8 808.1 455.5 812.9 454.2 817.8 452.9 822.6 451.6 827.5 450.2 832.3 448.9 837.2 447.5 842.0 446.1 846.9 444.7 851.7 443.2 856.5 441.9 861.4 440.5 866.2 439.3 871.1 438.3 876.0 437.3 881.0 436.5 886.0 435.7 891.0 435.0 896.1 434.4 901.2 433.7 906.3 433.2 911.4 432.6 916.5 432.1 921.6 431.5 926.7 431.0 931.7 430.5 936.8 429.9 941.8 429.3 946.7 428.6 951.7 427.9 956.5 427.1 961.3 426.2 966.1 425.3 970.7 424.3 975.3 423.1 979.8 421.5 984.3 419.7 988.7 417.6 993.0 415.3 997.3 412.8 1001.6 410.1 1005.8 407.3 1010.0 404.3 1014.2 401.3 1018.4 398.2 1022.6 395.1 1026.8 392.0 1031.0 388.9 1035.2 385.9 1039.5 383.0 1043.8 380.3 1048.1 377.7 1052.5 375.2 1056.8 372.7 1061.2 370.2 1065.6 367.8 1070.0 365.4 1074.4 362.9 1078.8 360.5 1083.2 358.1 1087.7 355.8 1092.1 353.4 1096.6 351.0 1101.0 348.7 1105.5 346.4 1109.9 344.1 1114.4 341.8 1118.9 339.5 1123.4 337.3 1127.9 335.1 1132.4 332.8 1136.9 330.6 1141.4 328.4 1146.0 326.3 1150.5 324.1 1155.0 321.9 1159.6 319.8 1164.2 317.7 1168.7 315.6 1173.3 313.5 1177.9 311.4 1182.5 309.4 1187.1 307.4 1191.7 305.3 1196.3 303.4 1200.9 301.4 1205.5 299.4 1210.2 297.5 1214.8 295.6 1219.5 293.7 1224.1 291.8 1228.8 289.9 1233.5 288.0 1238.1 286.2 1242.8 284.4 1247.5 282.6 1252.2 280.8 1256.9 279.0 1261.6 277.3 1266.4 275.5 1271.1 273.8 1275.8 272.2 1280.6 270.5 1285.3 268.9 1290.1 267.3 1294.8 265.7 1299.6 264.1 1304.4 262.5 1309.1 261.0 1313.9 259.4 1318.7 257.9 1323.5 256.4 1328.3 254.9 1333.1 253.5 1338.0 252.0 1342.8 250.6 1347.6 249.2 1352.5 247.8 1357.3 246.5M1357.3 246.5 1356.9 251.5 1356.5 256.5 1356.0 261.5 1355.6 266.5 1355.1 271.5 1354.5 276.5 1354.0 281.5 1353.4 286.5 1352.8 291.5 1352.1 296.5 1351.5 301.4 1350.8 306.4 1350.1 311.4 1349.5 316.4 1348.7 321.3 1348.0 326.3 1347.2 331.2 1346.4 336.2 1345.6 341.1 1344.7 346.1 1343.7 351.0 1342.8 356.0 1341.8 360.9 1340.8 365.8 1339.7 370.7 1338.6 375.6 1337.5 380.5 1336.4 385.4 1335.3 390.3 1334.1 395.2 1332.8 400.1 1331.6 405.0 1330.3 409.8 1328.9 414.7 1327.5 419.5 1326.1 424.3 1324.6 429.1 1323.1 433.9 1321.5 438.6 1319.8 443.3 1318.0 448.0 1316.0 452.6 1313.9 457.2 1311.8 461.7 1309.7 466.3 1307.6 470.9 1305.6 475.5 1303.6 480.1 1301.7 484.8 1299.8 489.4 1297.8 494.1 1295.8 498.7 1293.7 503.2 1291.5 507.7 1289.2 512.1 1286.7 516.5 1284.2 520.8 1281.6 525.1 1278.9 529.4 1276.2 533.6 1273.4 537.8 1270.5 541.9 1267.5 546.0 1264.5 550.0 1261.3 553.8 1258.1 557.7 1254.7 561.4 1251.3 565.1 1247.9 568.8 1244.4 572.4 1240.8 575.9 1237.2 579.4 1233.5 582.8 1229.9 586.3 1226.1 589.6 1222.3 593.0 1218.5 596.2 1214.6 599.5 1210.7 602.6 1206.7 605.7 1202.6 608.6 1198.5 611.4 1194.3 614.1 1189.9 616.6 1185.5 619.0 1181.0 621.3 1176.6 623.6 1172.1 625.8 1167.5 628.0 1163.0 630.2 1158.5 632.3 1153.9 634.4 1149.3 636.5 1144.7 638.4 1140.1 640.4 1135.4 642.3 1130.8 644.2 1126.1 646.0 1121.4 647.9 1116.8 649.7 1112.1 651.5 1107.4 653.3 1102.7 655.0 1097.9 656.7 1093.2 658.4 1088.5 660.1 1083.7 661.7 1079.0 663.4 1074.2 665.0 1069.5 666.5 1064.7 668.1 1059.9 669.6 1055.1 671.0 1050.3 672.5 1045.4 673.9 1040.6 675.3 1035.8 676.6 1031.0 678.0 1026.1 679.4 1021.3 680.7 1016.5 682.1 1011.6 683.4 1006.8 684.7 1001.9 686.1 997.1 687.4 992.3 688.8 987.4 690.1 982.6 691.4 977.7 692.7 972.9 694.0 968.0 695.4 963.2 696.7 958.3 698.0 953.5 699.3 948.6 700.6 943.8 701.9 938.9 703.2 934.1 704.5 929.2 705.8 924.4 707.1 919.6 708.4 914.7 709.7 909.9 711.1 905.0 712.5 900.2 714.0 895.4 715.4 890.5 716.8 885.7 718.1 880.8 719.3 876.0 720.5 871.1 721.5 866.1 722.3 861.2 723.1 856.1 723.9 851.1 724.5 846.0 725.2 840.9 725.7 835.9 726.3 830.8 726.8 825.7 727.4 820.6 727.9 815.6 728.5 810.5 729.1 805.6 729.7 800.6 730.4 795.7 731.1 790.9 731.9 786.1 732.8 781.4 733.8 776.8 735.0 772.2 736.4 767.7 738.1 763.3 740.0 758.9 742.2 754.5 744.6 750.2 747.2 745.9 749.9 741.7 752.7 737.4 755.7 733.2 758.6 728.9 761.7 724.7 764.7 720.5 767.7 716.2 770.6 711.9 773.4 707.6 776.2 703.3 778.8 698.9 781.2 694.5 783.6 690.1 786.0 685.6 788.4 681.2 790.8 676.8 793.1 672.3 795.5 667.9 797.8 663.4 800.1 658.9 802.4 654.5 804.7 650.0 807.0 645.5 809.2 641.0 811.5 636.5 813.7 632.0 815.9 627.5 818.1 623.0 820.2 618.4 822.4 613.9 824.5 609.3 826.7 604.8 828.8 600.2 830.9 595.7 833.0 591.1 835.1 586.5 837.1 581.9 839.2 577.3 841.2 572.7 843.2 568.1 845.2 563.5 847.2 558.9 849.1 554.2 851.1 549.6 853.0 544.9 854.9 540.3 856.8 535.6 858.6 531.0 860.5 526.3 862.3 521.6 864.2 516.9 866.0 512.2 867.8 507.5 869.6 502.8 871.3 498.1 873.1 493.4 874.8 488.7 876.5 483.9 878.2 479.2 879.8 474.5 881.5 469.7 883.1 465.0 884.7 460.2 886.3 455.4 887.8 450.7 889.4 445.9 890.9 441.1 892.4 436.3 893.9 431.5 895.4 426.7 896.8 421.9 898.3 417.1 899.7 412.2 901.1 407.4 902.5 402.6 903.9 397.7 905.2 392.9 906.5 388.0 907.9M388.0 907.9 388.4 902.8 388.8 897.8 389.3 892.8 389.8 887.8 390.3 882.7 390.8 877.7 391.4 872.7 392.0 867.7 392.6 862.7 393.2 857.7 393.9 852.7 394.6 847.8 395.3 842.8 396.0 837.8 396.7 832.8 397.4 827.8 398.2 822.9 399.1 817.9 399.9 812.9 400.8 808.0 401.8 803.0 402.8 798.1 403.8 793.2 404.8 788.2 405.9 783.3 407.0 778.4 408.1 773.5 409.3 768.6 410.5 763.7 411.7 758.8 413.0 753.9 414.3 749.0 415.6 744.1 417.0 739.3 418.4 734.4 419.9 729.6 421.4 724.9 423.0 720.1 424.7 715.4 426.5 710.7 428.5 706.1 430.6 701.5 432.7 696.9 434.8 692.3 436.9 687.7 438.9 683.1 440.9 678.5 442.8 673.8 444.8 669.2 446.8 664.5 448.8 659.9 450.9 655.4 453.1 650.9 455.5 646.5 458.0 642.1 460.6 637.7 463.2 633.4 465.9 629.2 468.7 625.0 471.5 620.8 474.4 616.7 477.4 612.6 480.6 608.7 483.8 604.8 487.1 601.0 490.4 597.3 493.9 593.6 497.4 589.9 500.9 586.4 504.5 582.8 508.2 579.4 511.9 576.0 515.6 572.6 519.4 569.2 523.2 565.9 527.1 562.7 531.0 559.5 535.0 556.4 539.1 553.5 543.2 550.6 547.5 547.9 551.8 545.4 556.2 543.0 560.7 540.7 565.2 538.4 569.7 536.2 574.3 534.0 578.9 531.9 583.4 529.8 588.0 527.7 592.6 525.7 597.3 523.8 601.9 521.9 606.6 520.0 611.3 518.2 616.0 516.4 620.7 514.6 625.4 512.8 630.2 511.1 634.9 509.4 639.7 507.7 644.4 506.0 649.2 504.4 654.0 502.8 658.7 501.3 663.5 499.7 668.3 498.2 673.2 496.7 678.0 495.3 682.8 493.9 687.7 492.5 692.5 491.2 697.4 489.9 702.2 488.6 707.1 487.3 712.0 486.1 716.9 484.8 721.8 483.6 726.6 482.3 731.5 481.1 736.4 479.8 741.3 478.6 746.2 477.4 751.0 476.2 755.9 475.0 760.8 473.8 765.7 472.6 770.6 471.4 775.5 470.2 780.4 469.0 785.3 467.8 790.2 466.6 795.1 465.5 800.0 464.3 804.9 463.1 809.8 462.0 814.7 460.8 819.6 459.6 824.5 458.5 829.4 457.3 834.3 456.1 839.2 454.8 844.0 453.6 848.9 452.4 853.8 451.2 858.7 450.0 863.6 448.9 868.6 447.9 873.5 447.0 878.5 446.1 883.5 445.3 888.5 444.6 893.6 444.0 898.7 443.3 903.8 442.8 908.9 442.2 914.0 441.6 919.1 441.1 924.2 440.5 929.2 440.0 934.3 439.4 939.3 438.8 944.3 438.1 949.2 437.4 954.1 436.7 959.0 435.8 963.8 434.9 968.5 433.9 973.1 432.8 977.7 431.4 982.2 429.8 986.7 427.8 991.1 425.6 995.4 423.2 999.7 420.7 1004.0 417.9 1008.2 415.1 1012.5 412.1 1016.7 409.1 1020.9 406.0 1025.2 403.0 1029.4 399.9 1033.6 396.9 1037.9 394.0 1042.2 391.3 1046.6 388.6 1051.0 386.1 1055.4 383.7 1059.8 381.3 1064.2 378.9 1068.6 376.5 1073.1 374.1 1077.5 371.7 1081.9 369.3 1086.4 367.0 1090.9 364.6 1095.3 362.3 1099.8 360.0 1104.3 357.7 1108.8 355.4 1113.3 353.2 1117.8 350.9 1122.3 348.7 1126.8 346.5 1131.4 344.3 1135.9 342.2 1140.5 340.0 1145.0 337.8 1149.6 335.7 1154.2 333.6 1158.7 331.5 1163.3 329.4 1167.9 327.3 1172.5 325.3 1177.1 323.2 1181.7 321.2 1186.4 319.2 1191.0 317.2 1195.6 315.3 1200.3 313.3 1204.9 311.4 1209.6 309.5 1214.2 307.6 1218.9 305.7 1223.6 303.9 1228.3 302.0 1233.0 300.2 1237.7 298.4 1242.4 296.6 1247.1 294.8 1251.8 293.0 1256.5 291.3 1261.3 289.6 1266.0 287.9 1270.8 286.2 1275.5 284.5 1280.3 282.9 1285.0 281.3 1289.8 279.7 1294.6 278.1 1299.4 276.6 1304.2 275.0 1309.0 273.5 1313.8 272.0 1318.6 270.5 1323.4 269.0 1328.2 267.6 1333.0 266.1 1337.9 264.7 1342.7 263.3 1347.6 262.0 1352.4 260.6 1357.3 259.3M1357.3 259.3 1356.9 264.3 1356.5 269.3 1356.0 274.4 1355.5 279.4 1355.0 284.4 1354.5 289.4 1353.9 294.4 1353.3 299.4 1352.7 304.4 1352.0 309.4 1351.4 314.4 1350.7 319.4 1350.0 324.4 1349.3 329.4 1348.6 334.3 1347.8 339.3 1347.0 344.3 1346.1 349.3 1345.2 354.2 1344.3 359.2 1343.3 364.1 1342.3 369.1 1341.3 374.0 1340.2 378.9 1339.2 383.8 1338.0 388.7 1336.9 393.7 1335.7 398.6 1334.5 403.5 1333.3 408.4 1332.0 413.3 1330.6 418.1 1329.3 423.0 1327.8 427.8 1326.4 432.6 1324.8 437.4 1323.3 442.2 1321.6 446.9 1319.8 451.6 1317.9 456.2 1315.8 460.8 1313.7 465.4 1311.5 470.0 1309.4 474.6 1307.4 479.2 1305.4 483.8 1303.5 488.5 1301.5 493.2 1299.5 497.8 1297.5 502.4 1295.4 507.0 1293.1 511.4 1290.7 515.9 1288.2 520.3 1285.7 524.6 1283.0 528.9 1280.3 533.1 1277.5 537.3 1274.6 541.5 1271.7 545.6 1268.6 549.6 1265.5 553.5 1262.3 557.4 1258.9 561.2 1255.5 564.9 1252.1 568.6 1248.5 572.2 1244.9 575.7 1241.3 579.2 1237.6 582.6 1233.9 586.0 1230.2 589.4 1226.3 592.7 1222.5 596.0 1218.5 599.2 1214.6 602.3 1210.5 605.3 1206.4 608.2 1202.2 611.0 1197.9 613.5 1193.5 615.9 1189.0 618.3 1184.5 620.5 1180.0 622.7 1175.4 624.9 1170.8 627.0 1166.2 629.0 1161.6 631.1 1157.0 633.1 1152.3 635.0 1147.7 636.9 1143.0 638.7 1138.3 640.5 1133.5 642.3 1128.8 644.0 1124.1 645.7 1119.3 647.4 1114.6 649.0 1109.8 650.7 1105.0 652.3 1100.2 653.8 1095.4 655.3 1090.6 656.8 1085.8 658.3 1081.0 659.8 1076.1 661.2 1071.3 662.5 1066.4 663.8 1061.5 665.1 1056.6 666.4 1051.8 667.6 1046.9 668.8 1042.0 670.0 1037.1 671.2 1032.2 672.3 1027.3 673.5 1022.4 674.6 1017.5 675.7 1012.5 676.9 1007.6 678.0 1002.7 679.1 997.8 680.3 992.9 681.4 988.0 682.5 983.1 683.6 978.1 684.6 973.2 685.7 968.3 686.8 963.4 687.9 958.4 688.9 953.5 690.0 948.6 691.0 943.7 692.1 938.7 693.1 933.8 694.2 928.9 695.2 924.0 696.3 919.0 697.3 914.1 698.3 909.2 699.4 904.2 700.5 899.3 701.5 894.4 702.6 889.4 703.6 884.5 704.6 879.6 705.6 874.6 706.5 869.6 707.3 864.6 708.1 859.6 708.8 854.6 709.5 849.5 710.1 844.4 710.7 839.3 711.3 834.2 711.8 829.1 712.4 824.0 713.0 819.0 713.5 813.9 714.2 808.9 714.8 803.9 715.5 799.0 716.2 794.1 717.0 789.3 717.9 784.5 718.8 779.8 719.9 775.1 721.1 770.6 722.6 766.1 724.3 761.6 726.4 757.2 728.6 752.8 731.0 748.5 733.6 744.1 736.4 739.8 739.2 735.6 742.1 731.3 745.0 727.0 748.0 722.7 750.9 718.4 753.9 714.1 756.7 709.8 759.5 705.4 762.1 701.0 764.5 696.5 766.9 692.1 769.3 687.6 771.6 683.1 773.9 678.7 776.3 674.2 778.6 669.7 780.9 665.2 783.2 660.7 785.4 656.2 787.7 651.7 789.9 647.2 792.1 642.6 794.3 638.1 796.5 633.5 798.7 629.0 800.9 624.4 803.0 619.9 805.1 615.3 807.2 610.7 809.3 606.1 811.4 601.5 813.5 596.9 815.5 592.3 817.6 587.7 819.6 583.1 821.6 578.5 823.6 573.8 825.6 569.2 827.6 564.5 829.5 559.9 831.4 555.2 833.3 550.5 835.2 545.9 837.1 541.2 838.9 536.5 840.8 531.8 842.6 527.1 844.4 522.4 846.2 517.7 848.0 512.9 849.7 508.2 851.5 503.5 853.2 498.7 854.9 494.0 856.6 489.2 858.3 484.5 860.0 479.7 861.6 474.9 863.2 470.2 864.8 465.4 866.3 460.6 867.9 455.8 869.4 451.0 870.9 446.2 872.4 441.4 873.9 436.5 875.4 431.7 876.8 426.9 878.3 422.1 879.7 417.2 881.1 412.4 882.5 407.5 883.8 402.6 885.2 397.8 886.5 392.9 887.8 388.0 889.1M388.0 889.1 388.4 884.0 388.9 879.0 389.3 874.0 389.8 869.0 390.4 864.0 390.9 859.0 391.5 854.0 392.1 849.0 392.8 844.0 393.4 839.0 394.1 834.0 394.8 829.1 395.6 824.1 396.3 819.1 397.0 814.2 397.8 809.2 398.7 804.2 399.6 799.3 400.5 794.3 401.5 789.4 402.5 784.5 403.6 779.5 404.7 774.6 405.8 769.7 406.9 764.8 408.1 759.9 409.3 755.0 410.5 750.1 411.8 745.3 413.1 740.4 414.5 735.5 415.9 730.7 417.4 725.9 418.9 721.1 420.4 716.3 422.1 711.6 423.8 706.9 425.7 702.3 427.7 697.7 429.9 693.1 432.0 688.5 434.2 684.0 436.3 679.4 438.3 674.8 440.3 670.2 442.3 665.5 444.3 660.9 446.4 656.3 448.5 651.8 450.8 647.3 453.2 642.9 455.7 638.6 458.3 634.2 461.0 630.0 463.8 625.8 466.6 621.6 469.5 617.5 472.5 613.4 475.6 609.5 478.8 605.6 482.1 601.8 485.4 598.1 488.9 594.4 492.4 590.8 496.0 587.2 499.6 583.7 503.3 580.3 507.0 577.0 510.8 573.6 514.6 570.3 518.5 567.0 522.4 563.8 526.4 560.7 530.4 557.7 534.5 554.8 538.6 552.0 542.9 549.4 547.3 547.0 551.8 544.6 556.3 542.4 560.8 540.2 565.3 538.0 569.9 535.9 574.5 533.9 579.1 531.8 583.7 529.9 588.4 527.9 593.1 526.0 597.7 524.2 602.4 522.4 607.1 520.6 611.9 518.9 616.6 517.2 621.3 515.5 626.1 513.8 630.8 512.2 635.6 510.6 640.4 509.0 645.2 507.4 650.0 505.9 654.8 504.4 659.6 503.0 664.4 501.5 669.2 500.2 674.1 498.8 678.9 497.5 683.8 496.2 688.7 494.9 693.5 493.7 698.4 492.5 703.3 491.2 708.2 490.0 713.1 488.9 718.0 487.7 722.8 486.5 727.7 485.3 732.6 484.1 737.5 482.9 742.4 481.8 747.3 480.6 752.2 479.5 757.1 478.3 762.0 477.2 766.9 476.0 771.8 474.9 776.7 473.7 781.6 472.6 786.5 471.5 791.4 470.4 796.3 469.2 801.2 468.1 806.1 467.0 811.0 465.9 815.9 464.8 820.8 463.6 825.7 462.5 830.6 461.4 835.5 460.3 840.4 459.2 845.3 458.1 850.3 457.0 855.2 455.9 860.1 454.8 865.0 453.7 869.9 452.6 874.8 451.7 879.8 450.9 884.8 450.2 889.9 449.6 894.9 449.0 900.0 448.4 905.0 447.9 910.1 447.4 915.2 446.9 920.3 446.4 925.3 445.9 930.4 445.3 935.4 444.8 940.4 444.2 945.3 443.6 950.2 442.9 955.1 442.1 959.9 441.3 964.7 440.4 969.4 439.3 974.1 438.1 978.7 436.6 983.3 435.0 987.8 433.3 992.4 431.3 996.9 429.3 1001.3 427.1 1005.8 424.8 1010.2 422.4 1014.6 419.9 1019.0 417.3 1023.4 414.7 1027.8 412.0 1032.1 409.3 1036.5 406.5 1040.9 403.7 1045.2 400.9 1049.6 398.1 1054.0 395.3 1058.3 392.6 1062.7 389.9 1067.1 387.2 1071.6 384.6 1076.0 382.1 1080.5 379.6 1085.0 377.3 1089.5 375.0 1094.1 372.9 1098.7 370.9 1103.3 369.1 1108.0 367.3 1112.6 365.5 1117.4 363.8 1122.1 362.2 1126.9 360.6 1131.6 359.0 1136.4 357.5 1141.2 356.0 1146.1 354.5 1150.9 353.0 1155.7 351.5 1160.5 350.0 1165.4 348.5 1170.2 347.0 1175.0 345.5 1179.8 344.0 1184.6 342.4 1189.3 340.8 1194.1 339.1 1198.8 337.4 1203.5 335.6 1208.2 333.8 1212.9 331.9 1217.5 330.0 1222.2 328.1 1226.9 326.2 1231.5 324.4 1236.2 322.5 1240.9 320.8 1245.6 319.0 1250.4 317.2 1255.1 315.3 1259.8 313.5 1264.5 311.8 1269.3 310.1 1274.1 308.5 1278.9 307.0 1283.7 305.7 1288.5 304.6 1293.5 303.6 1298.4 302.6 1303.4 301.7 1308.4 301.0 1313.4 300.4 1318.4 300.0 1323.4 299.7 1328.4 299.4 1333.5 299.2 1338.5 299.0 1343.5 298.8 1348.6 298.6 1353.6 298.3 1358.5 297.9 1363.5 297.2 1368.4 296.2 1373.3 295.0 1378.2 293.7 1383.1 292.3 1387.9 291.0 1392.8 289.8 1397.7 288.6 1402.6 287.3 1407.4 286.0 1412.3 284.7 1417.1 283.3 1422.0 282.0M1422.0 282.0 1421.5 287.0 1420.9 292.0 1420.4 297.0 1419.7 302.0 1419.1 307.0 1418.4 312.0 1417.6 317.0 1416.9 321.9 1416.1 326.9 1415.2 331.9 1414.4 336.8 1413.5 341.8 1412.6 346.7 1411.7 351.6 1410.8 356.6 1409.7 361.5 1408.7 366.4 1407.5 371.3 1406.4 376.2 1405.1 381.1 1403.9 386.0 1402.5 390.8 1401.2 395.7 1399.8 400.5 1398.4 405.3 1397.0 410.2 1395.5 415.0 1393.9 419.8 1392.3 424.6 1390.7 429.4 1389.0 434.1 1387.2 438.8 1385.4 443.5 1383.5 448.2 1381.6 452.8 1379.6 457.3 1377.3 461.8 1374.9 466.2 1372.4 470.6 1369.8 474.9 1367.3 479.3 1364.7 483.6 1362.3 488.0 1360.0 492.5 1357.6 497.0 1355.2 501.4 1352.8 505.8 1350.3 510.2 1347.7 514.4 1344.9 518.6 1342.0 522.7 1339.0 526.8 1335.9 530.8 1332.8 534.7 1329.6 538.6 1326.3 542.4 1323.0 546.2 1319.5 549.8 1316.0 553.4 1312.4 556.9 1308.7 560.3 1304.9 563.6 1301.1 566.9 1297.2 570.2 1293.3 573.3 1289.3 576.4 1285.3 579.4 1281.3 582.4 1277.2 585.3 1273.1 588.3 1268.9 591.1 1264.7 593.9 1260.5 596.7 1256.2 599.4 1251.9 602.0 1247.6 604.5 1243.2 606.9 1238.7 609.2 1234.1 611.2 1229.5 613.2 1224.8 615.1 1220.2 617.0 1215.5 618.8 1210.8 620.6 1206.0 622.3 1201.3 624.0 1196.6 625.7 1191.8 627.4 1187.0 629.0 1182.3 630.5 1177.5 632.0 1172.7 633.5 1167.8 634.9 1163.0 636.4 1158.2 637.8 1153.4 639.2 1148.5 640.5 1143.7 641.9 1138.8 643.2 1134.0 644.5 1129.1 645.8 1124.2 647.0 1119.3 648.2 1114.5 649.5 1109.6 650.6 1104.7 651.8 1099.8 653.0 1094.9 654.1 1090.0 655.2 1085.1 656.2 1080.1 657.3 1075.2 658.2 1070.3 659.2 1065.3 660.2 1060.4 661.1 1055.4 662.0 1050.5 663.0 1045.6 663.9 1040.6 664.8 1035.7 665.7 1030.7 666.6 1025.8 667.5 1020.8 668.4 1015.9 669.2 1010.9 670.1 1006.0 671.0 1001.0 671.8 996.0 672.7 991.1 673.5 986.1 674.4 981.2 675.2 976.2 676.0 971.2 676.8 966.3 677.7 961.3 678.5 956.4 679.3 951.4 680.1 946.4 680.9 941.5 681.7 936.5 682.5 931.5 683.2 926.6 684.0 921.6 684.8 916.6 685.6 911.6 686.4 906.7 687.1 901.7 687.9 896.7 688.6 891.8 689.4 886.8 690.1 881.8 690.9 876.9 691.7 871.9 692.6 866.9 693.4 862.0 694.3 857.0 695.2 852.1 696.0 847.1 696.9 842.1 697.8 837.2 698.7 832.2 699.7 827.3 700.6 822.3 701.6 817.4 702.6 812.5 703.6 807.5 704.6 802.6 705.7 797.7 706.8 792.9 707.9 788.0 709.1 783.1 710.3 778.3 711.6 773.5 712.9 768.7 714.2 763.8 715.6 759.0 717.1 754.2 718.6 749.5 720.1 744.7 721.6 739.9 723.2 735.1 724.9 730.4 726.5 725.6 728.2 720.9 729.9 716.1 731.6 711.4 733.3 706.6 735.1 701.9 736.8 697.2 738.6 692.5 740.3 687.7 742.1 683.0 743.9 678.3 745.6 673.6 747.4 668.8 749.1 664.1 750.9 659.4 752.6 654.7 754.3 649.9 756.0 645.2 757.8 640.5 759.6 635.8 761.3 631.1 763.1 626.4 764.9 621.7 766.7 617.0 768.5 612.3 770.3 607.6 772.2 603.0 774.0 598.3 775.8 593.6 777.7 588.9 779.5 584.2 781.4 579.6 783.3 574.9 785.1 570.2 787.0 565.6 788.9 560.9 790.8 556.3 792.8 551.6 794.8 547.0 796.9 542.4 799.0 537.8 801.1 533.2 803.2 528.6 805.3 524.0 807.5 519.4 809.6 514.8 811.7 510.2 813.8 505.6 815.8 501.0 817.8 496.3 819.8 491.7 821.7 487.0 823.5 482.3 825.3 477.6 827.0 472.9 828.6 468.2 830.1 463.4 831.5 458.6 832.8 453.8 834.0 448.9 835.2 444.0 836.3 439.1 837.3 434.2 838.3 429.2 839.3 424.3 840.2 419.3 841.2 414.4 842.1 409.4 843.0 404.4 843.9 399.5 844.9 394.5 845.8 389.5 846.7 384.4 847.6 379.2 848.3 373.9 849.0 368.6 849.6 363.3 850.3 358.1 851.0 352.9 851.7 347.9 852.6 343.0 853.5 338.3 854.6 333.8 855.9 329.6 857.4 325.8 859.4 322.4 863.5M322.4 863.5 323.0 858.5 323.6 853.5 324.2 848.5 324.9 843.5 325.6 838.5 326.4 833.6 327.2 828.6 328.1 823.6 329.0 818.7 329.9 813.8 330.8 808.8 331.8 803.9 332.8 799.0 333.8 794.1 334.9 789.2 336.0 784.3 337.3 779.4 338.5 774.6 339.9 769.7 341.2 764.9 342.7 760.1 344.1 755.3 345.6 750.5 347.1 745.7 348.7 740.9 350.4 736.1 352.1 731.4 353.8 726.6 355.6 721.9 357.5 717.2 359.4 712.6 361.4 708.0 363.4 703.5 365.6 699.0 367.9 694.5 370.4 690.2 373.0 685.9 375.8 681.7 378.5 677.5 381.2 673.2 383.9 668.9 386.4 664.6 388.9 660.2 391.5 655.9 394.0 651.5 396.7 647.3 399.5 643.1 402.4 639.1 405.5 635.1 408.6 631.2 411.9 627.4 415.2 623.6 418.6 619.9 422.0 616.2 425.5 612.6 429.1 609.1 432.8 605.7 436.6 602.4 440.4 599.1 444.3 596.0 448.3 592.9 452.3 589.8 456.4 586.9 460.5 584.0 464.6 581.1 468.8 578.3 473.0 575.6 477.2 572.8 481.4 570.2 485.7 567.5 490.1 564.9 494.4 562.4 498.8 560.0 503.3 557.6 507.7 555.4 512.3 553.2 516.9 551.3 521.6 549.5 526.3 547.7 531.0 546.0 535.7 544.3 540.5 542.6 545.2 541.0 550.0 539.4 554.8 537.9 559.6 536.3 564.3 534.8 569.2 533.4 574.0 532.0 578.8 530.6 583.6 529.2 588.5 527.9 593.3 526.6 598.2 525.3 603.0 524.0 607.9 522.7 612.8 521.5 617.6 520.3 622.5 519.1 627.4 517.9 632.3 516.8 637.2 515.7 642.1 514.5 647.0 513.4 651.9 512.3 656.8 511.3 661.7 510.2 666.6 509.2 671.6 508.2 676.5 507.3 681.4 506.4 686.4 505.5 691.3 504.6 696.2 503.7 701.2 502.8 706.1 501.9 711.1 501.1 716.0 500.2 721.0 499.4 725.9 498.5 730.9 497.7 735.8 496.9 740.8 496.1 745.8 495.3 750.7 494.5 755.7 493.7 760.6 492.8 765.6 492.0 770.6 491.3 775.5 490.5 780.5 489.7 785.4 488.9 790.4 488.2 795.4 487.4 800.3 486.7 805.3 485.9 810.3 485.1 815.2 484.4 820.2 483.6 825.2 482.9 830.1 482.1 835.1 481.4 840.1 480.7 845.0 479.9 850.0 479.2 855.0 478.4 859.9 477.7 864.9 476.9 869.9 476.2 874.8 475.5 879.8 474.9 884.8 474.3 889.8 473.7 894.8 473.1 899.9 472.5 904.9 472.0 909.9 471.4 914.9 470.9 919.9 470.3 924.9 469.8 929.9 469.2 934.9 468.6 939.9 468.0 944.9 467.4 949.9 466.7 954.8 466.0 959.8 465.3 964.7 464.5 969.6 463.7 974.4 462.8 979.3 461.7 984.1 460.6 988.9 459.4 993.7 458.0 998.5 456.6 1003.2 455.0 1008.0 453.4 1012.7 451.8 1017.4 450.1 1022.1 448.3 1026.9 446.5 1031.6 444.6 1036.3 442.7 1041.0 440.8 1045.7 438.9 1050.4 437.0 1055.1 435.1 1059.8 433.2 1064.5 431.4 1069.2 429.6 1073.9 427.8 1078.7 426.0 1083.4 424.4 1088.2 422.8 1093.0 421.2 1097.8 419.8 1102.6 418.4 1107.5 417.1 1112.3 415.9 1117.2 414.7 1122.1 413.6 1127.0 412.4 1131.9 411.3 1136.8 410.1 1141.7 408.9 1146.5 407.6 1151.3 406.2 1156.1 404.8 1160.9 403.3 1165.7 401.9 1170.5 400.4 1175.3 398.8 1180.1 397.3 1184.9 395.7 1189.6 394.1 1194.4 392.5 1199.1 390.9 1203.9 389.2 1208.7 387.6 1213.4 386.0 1218.2 384.4 1222.9 382.8 1227.7 381.2 1232.5 379.6 1237.3 378.1 1242.1 376.6 1246.8 375.0 1251.6 373.5 1256.4 371.9 1261.2 370.2 1265.9 368.6 1270.7 367.0 1275.5 365.4 1280.2 363.7 1285.0 362.1 1289.8 360.5 1294.6 358.9 1299.4 357.3 1304.1 355.8 1308.9 354.3 1313.7 352.8 1318.6 351.4 1323.4 350.0 1328.2 348.7 1333.0 347.5 1337.9 346.3 1342.8 345.2 1347.6 344.1 1352.5 343.1 1357.4 342.1 1362.3 341.1 1367.3 340.2 1372.2 339.2 1377.1 338.4 1382.1 337.5 1387.0 336.7 1392.0 335.9 1397.0 335.1 1402.0 334.4 1407.0 333.7 1412.0 333.0 1417.0 332.4 1422.0 331.8M1422.9 331.8 1422.3 337.0 1421.5 342.1 1420.8 347.2 1420.0 352.3 1419.1 357.4 1418.3 362.5 1417.4 367.6 1416.4 372.7 1415.4 377.7 1414.4 382.8 1413.3 387.9 1412.2 392.9 1411.0 397.9 1409.7 402.9 1408.4 407.9 1407.0 412.9 1405.5 417.9 1403.9 422.8 1402.3 427.7 1400.7 432.6 1399.0 437.5 1397.2 442.3 1395.4 447.2 1393.5 452.0 1391.6 456.8 1389.6 461.5 1387.5 466.3 1385.2 470.9 1382.9 475.5 1380.4 480.1 1377.7 484.5 1374.8 488.8 1371.9 493.0 1369.0 497.3 1366.2 501.6 1363.4 506.0 1360.7 510.4 1357.9 514.8 1355.1 519.1 1352.2 523.4 1349.1 527.5 1345.9 531.5 1342.5 535.5" stroke="#ff3b3b" stroke-width="3.6"/>
</g>
<path d="M317.8 1102.0v-11.5M317.8 58.2v11.5M502.6 1102.0v-11.5M502.6 58.2v11.5M687.4 1102.0v-11.5M687.4 58.2v11.5M872.2 1102.0v-11.5M872.2 58.2v11.5M1057.0 1102.0v-11.5M1057.0 58.2v11.5M1241.8 1102.0v-11.5M1241.8 58.2v11.5M1426.6 1102.0v-11.5M1426.6 58.2v11.5M225.8 841.3h12M225.8 580.3h12M225.8 319.3h12M225.8 971.8h6M225.8 710.8h6M225.8 449.8h6M225.8 188.8h6" fill="none" stroke="#000" stroke-width="2.2"/>
<rect x="225.8" y="58.2" width="1293.4" height="1043.8" fill="none" stroke="#000" stroke-width="2.4"/>
<text y="1177.2"><tspan x="279.6" y="1178.2" font-size="78" text-anchor="end">−</tspan><tspan x="317.3" y="1177.2" font-size="82" letter-spacing="-1" text-anchor="middle">60</tspan></text>
<text y="1177.2"><tspan x="464.4" y="1178.2" font-size="78" text-anchor="end">−</tspan><tspan x="502.1" y="1177.2" font-size="82" letter-spacing="-1" text-anchor="middle">40</tspan></text>
<text y="1177.2"><tspan x="649.2" y="1178.2" font-size="78" text-anchor="end">−</tspan><tspan x="686.9" y="1177.2" font-size="82" letter-spacing="-1" text-anchor="middle">20</tspan></text>
<text x="871.7" y="1177.2" font-size="82" letter-spacing="-1" text-anchor="middle">0</text>
<text x="1056.5" y="1177.2" font-size="82" letter-spacing="-1" text-anchor="middle">20</text>
<text x="1241.3" y="1177.2" font-size="82" letter-spacing="-1" text-anchor="middle">40</text>
<text x="1426.1" y="1177.2" font-size="82" letter-spacing="-1" text-anchor="middle">60</text>
<text y="1127.3"><tspan x="92.5" y="1128.3" font-size="78" text-anchor="end">−</tspan><tspan x="213" y="1127.3" font-size="82" letter-spacing="-1" text-anchor="end">200</tspan></text>
<text y="866.3"><tspan x="92.5" y="867.3" font-size="78" text-anchor="end">−</tspan><tspan x="213" y="866.3" font-size="82" letter-spacing="-1" text-anchor="end">100</tspan></text>
<text x="213" y="605.3" font-size="82" letter-spacing="-1" text-anchor="end">0</text>
<text x="213" y="344.3" font-size="82" letter-spacing="-1" text-anchor="end">100</text>
<text x="213" y="83.3" font-size="82" letter-spacing="-1" text-anchor="end">200</text>
<text x="873" y="1263" font-size="80" text-anchor="middle">Displacement (mm)</text>
<text transform="translate(73.5 580) rotate(-90)" font-size="80" text-anchor="middle">Force (kN)</text>
<rect x="273.4" y="99.4" width="282.8" height="172.1" fill="#fff" stroke="#000" stroke-width="1.1"/>
<path d="M282.1 145.4H425.5" stroke="#757575" stroke-width="4.2" stroke-dasharray="19.1 22.6" stroke-linecap="round" fill="none"/>
<path d="M282.1 226.2H427.3" stroke="#ff3d3d" stroke-width="4.2" stroke-linecap="round" fill="none"/>
<text x="445" y="166.4" font-size="64">Exp</text>
<text x="445.5" y="248.5" font-size="64">Sim</text>
</svg></body></html>
